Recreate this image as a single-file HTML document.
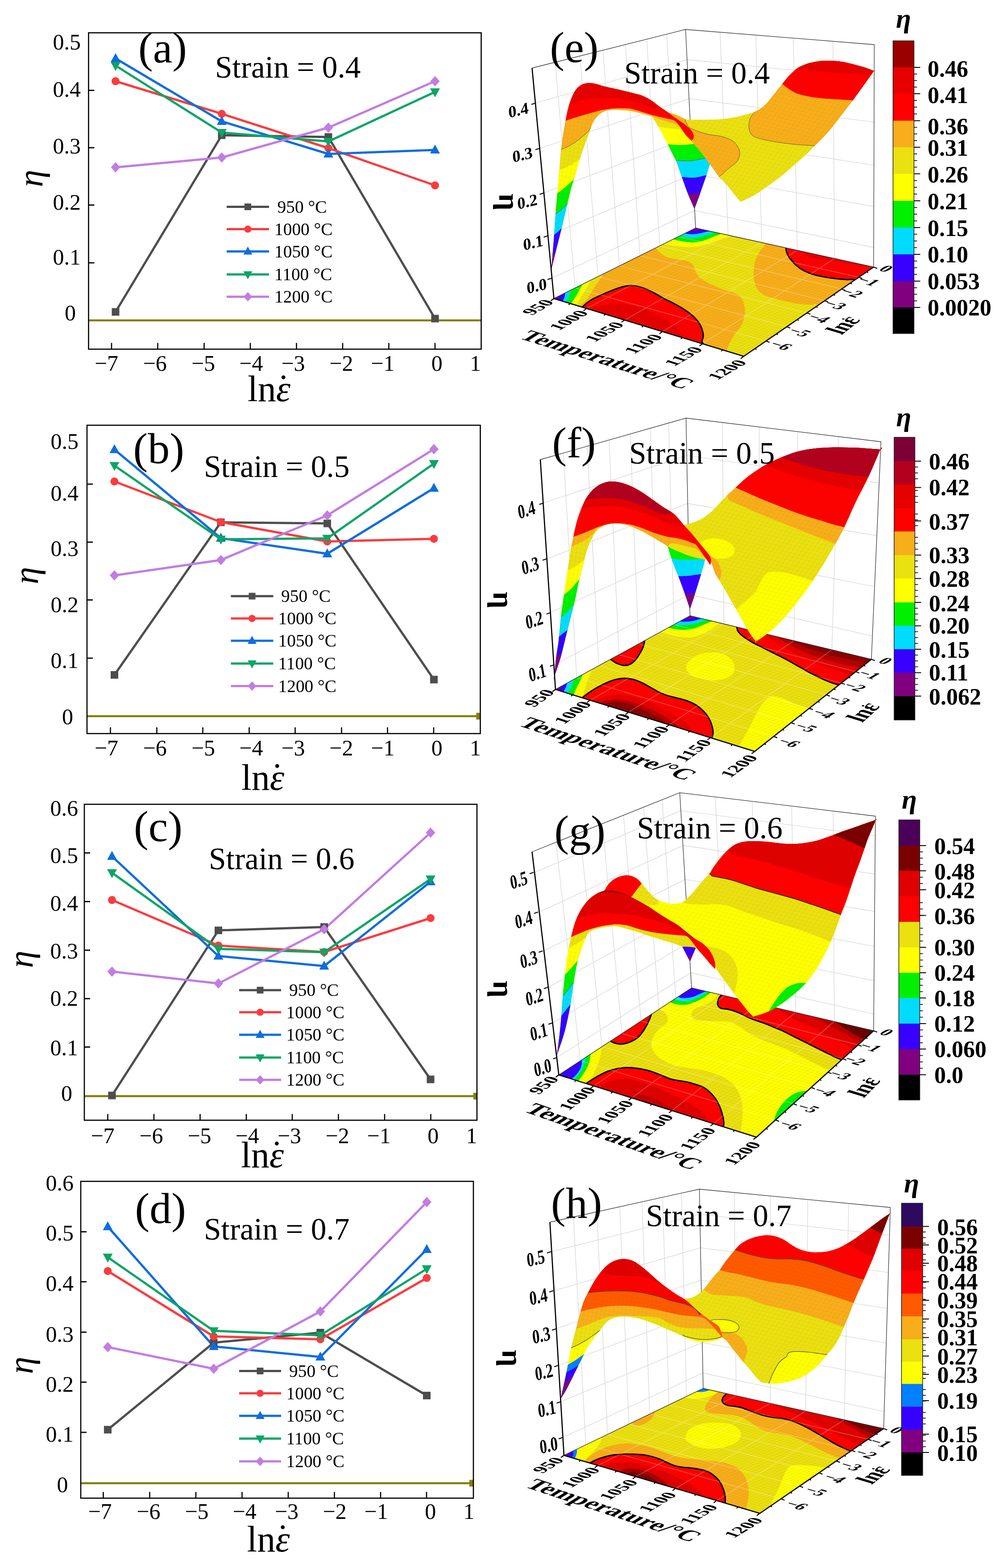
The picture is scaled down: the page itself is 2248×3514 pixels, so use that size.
<!DOCTYPE html>
<html lang="en"><head><meta charset="utf-8"><title>Power dissipation efficiency maps</title>
<style>
html,body{margin:0;padding:0;background:#fff}
svg{display:block}
text{font-family:"Liberation Serif","DejaVu Serif",serif;fill:#000}
</style></head><body>
<svg xmlns="http://www.w3.org/2000/svg" width="2248" height="3514" viewBox="0 0 2248 3514">
<rect width="2248" height="3514" fill="#fff"/>
<g id="pa">
<line x1="198.5" y1="718" x2="1078.5" y2="718" stroke="#807f06" stroke-width="4.5"/>
<polyline points="259,699 497,303 736,307 975,714" fill="none" stroke="#4d4d4d" stroke-width="5.0" stroke-linejoin="round"/>
<polyline points="259,182 497,255 736,332 975,415.5" fill="none" stroke="#fb3b3e" stroke-width="5.0" stroke-linejoin="round"/>
<polyline points="259,131 497,272 736,345 975,336" fill="none" stroke="#0f6ddf" stroke-width="5.0" stroke-linejoin="round"/>
<polyline points="259,147 497,297 736,317 975,206" fill="none" stroke="#0ba565" stroke-width="5.0" stroke-linejoin="round"/>
<polyline points="259,375 497,353 736,286 975,182" fill="none" stroke="#c27ce2" stroke-width="5.0" stroke-linejoin="round"/>
<rect x="250.5" y="690.5" width="17" height="17" fill="#4d4d4d"/>
<rect x="488.5" y="294.5" width="17" height="17" fill="#4d4d4d"/>
<rect x="727.5" y="298.5" width="17" height="17" fill="#4d4d4d"/>
<rect x="966.5" y="705.5" width="17" height="17" fill="#4d4d4d"/>
<circle cx="259" cy="182" r="9" fill="#fb3b3e"/>
<circle cx="497" cy="255" r="9" fill="#fb3b3e"/>
<circle cx="736" cy="332" r="9" fill="#fb3b3e"/>
<circle cx="975" cy="415.5" r="9" fill="#fb3b3e"/>
<polygon points="259,119 270,139 248,139" fill="#0f6ddf"/>
<polygon points="497,260 508,280 486,280" fill="#0f6ddf"/>
<polygon points="736,333 747,353 725,353" fill="#0f6ddf"/>
<polygon points="975,324 986,344 964,344" fill="#0f6ddf"/>
<polygon points="259,159 270,139 248,139" fill="#0ba565"/>
<polygon points="497,309 508,289 486,289" fill="#0ba565"/>
<polygon points="736,329 747,309 725,309" fill="#0ba565"/>
<polygon points="975,218 986,198 964,198" fill="#0ba565"/>
<polygon points="259,363.5 269.5,375 259,386.5 248.5,375" fill="#c27ce2"/>
<polygon points="497,341.5 507.5,353 497,364.5 486.5,353" fill="#c27ce2"/>
<polygon points="736,274.5 746.5,286 736,297.5 725.5,286" fill="#c27ce2"/>
<polygon points="975,170.5 985.5,182 975,193.5 964.5,182" fill="#c27ce2"/>
<rect x="198.5" y="73.5" width="880" height="709" fill="none" stroke="#000" stroke-width="2.6"/>
<line x1="250" y1="782.5" x2="250" y2="768.5" stroke="#000" stroke-width="2.6"/>
<line x1="353.5" y1="782.5" x2="353.5" y2="768.5" stroke="#000" stroke-width="2.6"/>
<line x1="457.5" y1="782.5" x2="457.5" y2="768.5" stroke="#000" stroke-width="2.6"/>
<line x1="561" y1="782.5" x2="561" y2="768.5" stroke="#000" stroke-width="2.6"/>
<line x1="664.5" y1="782.5" x2="664.5" y2="768.5" stroke="#000" stroke-width="2.6"/>
<line x1="768" y1="782.5" x2="768" y2="768.5" stroke="#000" stroke-width="2.6"/>
<line x1="871.5" y1="782.5" x2="871.5" y2="768.5" stroke="#000" stroke-width="2.6"/>
<line x1="975" y1="782.5" x2="975" y2="768.5" stroke="#000" stroke-width="2.6"/>
<line x1="198.5" y1="202.5" x2="211.5" y2="202.5" stroke="#000" stroke-width="2.8"/>
<line x1="198.5" y1="331" x2="211.5" y2="331" stroke="#000" stroke-width="2.8"/>
<line x1="198.5" y1="459.5" x2="211.5" y2="459.5" stroke="#000" stroke-width="2.8"/>
<line x1="198.5" y1="589" x2="211.5" y2="589" stroke="#000" stroke-width="2.8"/>
<text transform="translate(238.5 831)" font-size="50" text-anchor="middle">−7</text>
<text transform="translate(347.2 831)" font-size="50" text-anchor="middle">−6</text>
<text transform="translate(455.5 831)" font-size="50" text-anchor="middle">−5</text>
<text transform="translate(562.8 831)" font-size="50" text-anchor="middle">−4</text>
<text transform="translate(657 831)" font-size="50" text-anchor="middle">−3</text>
<text transform="translate(764.8 831)" font-size="50" text-anchor="middle">−2</text>
<text transform="translate(857.8 831)" font-size="50" text-anchor="middle">−1</text>
<text transform="translate(979.2 831)" font-size="50" text-anchor="middle">0</text>
<text transform="translate(1078 831)" font-size="50" text-anchor="end">1</text>
<text transform="translate(181 111)" font-size="50" text-anchor="end">0.5</text>
<text transform="translate(181 217)" font-size="50" text-anchor="end">0.4</text>
<text transform="translate(181 344)" font-size="50" text-anchor="end">0.3</text>
<text transform="translate(181 470)" font-size="50" text-anchor="end">0.2</text>
<text transform="translate(181 593)" font-size="50" text-anchor="end">0.1</text>
<text transform="translate(170 718)" font-size="50" text-anchor="end">0</text>
<text transform="translate(555 899)" font-size="82">ln<tspan font-style="italic">ε</tspan><tspan dx="-0.36em" dy="-0.04em">˙</tspan></text>
<text transform="translate(95 400) rotate(-90)" font-size="78" text-anchor="middle" font-style="italic">η</text>
<text transform="translate(310 140)" font-size="98">(a)</text>
<text transform="translate(482 173.5) scale(0.992 1)" font-size="70">Strain = 0.4</text>
<line x1="508" y1="463.5" x2="603" y2="463.5" stroke="#4d4d4d" stroke-width="5.2"/>
<rect x="548" y="456" width="15" height="15" fill="#4d4d4d"/>
<text transform="translate(621.5 476.5) scale(0.985 1)" font-size="40">950 °C</text>
<line x1="508" y1="513.5" x2="603" y2="513.5" stroke="#fb3b3e" stroke-width="5.2"/>
<circle cx="555.5" cy="513.5" r="8" fill="#fb3b3e"/>
<text transform="translate(615 526.5) scale(0.985 1)" font-size="40">1000 °C</text>
<line x1="508" y1="563.5" x2="603" y2="563.5" stroke="#0f6ddf" stroke-width="5.2"/>
<polygon points="555.5,552.5 565.5,570.5 545.5,570.5" fill="#0f6ddf"/>
<text transform="translate(615 576.5) scale(0.985 1)" font-size="40">1050 °C</text>
<line x1="508" y1="615" x2="603" y2="615" stroke="#0ba565" stroke-width="5.2"/>
<polygon points="555.5,626 565.5,608 545.5,608" fill="#0ba565"/>
<text transform="translate(615 628) scale(0.985 1)" font-size="40">1100 °C</text>
<line x1="508" y1="665" x2="603" y2="665" stroke="#c27ce2" stroke-width="5.2"/>
<polygon points="555.5,654.5 565,665 555.5,675.5 546,665" fill="#c27ce2"/>
<text transform="translate(615 678) scale(0.985 1)" font-size="40">1200 °C</text>
</g>
<g id="pb">
<line x1="195" y1="1605" x2="1076.5" y2="1605" stroke="#807f06" stroke-width="4.5"/>
<rect x="1067.5" y="1597.5" width="8" height="15" fill="#807f06"/>
<polyline points="256.5,1512.5 495,1170.5 733.5,1173 972.5,1523" fill="none" stroke="#4d4d4d" stroke-width="5.0" stroke-linejoin="round"/>
<polyline points="256.5,1079 495,1170 733.5,1213.5 972.5,1207.5" fill="none" stroke="#fb3b3e" stroke-width="5.0" stroke-linejoin="round"/>
<polyline points="256.5,1007.5 495,1206 733.5,1241 972.5,1094" fill="none" stroke="#0f6ddf" stroke-width="5.0" stroke-linejoin="round"/>
<polyline points="256.5,1043.5 495,1208.5 733.5,1206.5 972.5,1039" fill="none" stroke="#0ba565" stroke-width="5.0" stroke-linejoin="round"/>
<polyline points="256.5,1289.5 495,1255 733.5,1155 972.5,1006.5" fill="none" stroke="#c27ce2" stroke-width="5.0" stroke-linejoin="round"/>
<rect x="248" y="1504" width="17" height="17" fill="#4d4d4d"/>
<rect x="486.5" y="1162" width="17" height="17" fill="#4d4d4d"/>
<rect x="725" y="1164.5" width="17" height="17" fill="#4d4d4d"/>
<rect x="964" y="1514.5" width="17" height="17" fill="#4d4d4d"/>
<circle cx="256.5" cy="1079" r="9" fill="#fb3b3e"/>
<circle cx="495" cy="1170" r="9" fill="#fb3b3e"/>
<circle cx="733.5" cy="1213.5" r="9" fill="#fb3b3e"/>
<circle cx="972.5" cy="1207.5" r="9" fill="#fb3b3e"/>
<polygon points="256.5,995.5 267.5,1015.5 245.5,1015.5" fill="#0f6ddf"/>
<polygon points="495,1194 506,1214 484,1214" fill="#0f6ddf"/>
<polygon points="733.5,1229 744.5,1249 722.5,1249" fill="#0f6ddf"/>
<polygon points="972.5,1082 983.5,1102 961.5,1102" fill="#0f6ddf"/>
<polygon points="256.5,1055.5 267.5,1035.5 245.5,1035.5" fill="#0ba565"/>
<polygon points="495,1220.5 506,1200.5 484,1200.5" fill="#0ba565"/>
<polygon points="733.5,1218.5 744.5,1198.5 722.5,1198.5" fill="#0ba565"/>
<polygon points="972.5,1051 983.5,1031 961.5,1031" fill="#0ba565"/>
<polygon points="256.5,1278 267,1289.5 256.5,1301 246,1289.5" fill="#c27ce2"/>
<polygon points="495,1243.5 505.5,1255 495,1266.5 484.5,1255" fill="#c27ce2"/>
<polygon points="733.5,1143.5 744,1155 733.5,1166.5 723,1155" fill="#c27ce2"/>
<polygon points="972.5,995 983,1006.5 972.5,1018 962,1006.5" fill="#c27ce2"/>
<rect x="195" y="953" width="881.5" height="691" fill="none" stroke="#000" stroke-width="2.6"/>
<line x1="247.5" y1="1644" x2="247.5" y2="1630" stroke="#000" stroke-width="2.6"/>
<line x1="351.5" y1="1644" x2="351.5" y2="1630" stroke="#000" stroke-width="2.6"/>
<line x1="454.5" y1="1644" x2="454.5" y2="1630" stroke="#000" stroke-width="2.6"/>
<line x1="558.5" y1="1644" x2="558.5" y2="1630" stroke="#000" stroke-width="2.6"/>
<line x1="661.5" y1="1644" x2="661.5" y2="1630" stroke="#000" stroke-width="2.6"/>
<line x1="765.5" y1="1644" x2="765.5" y2="1630" stroke="#000" stroke-width="2.6"/>
<line x1="868.5" y1="1644" x2="868.5" y2="1630" stroke="#000" stroke-width="2.6"/>
<line x1="972" y1="1644" x2="972" y2="1630" stroke="#000" stroke-width="2.6"/>
<line x1="195" y1="1085" x2="208" y2="1085" stroke="#000" stroke-width="2.8"/>
<line x1="195" y1="1215" x2="208" y2="1215" stroke="#000" stroke-width="2.8"/>
<line x1="195" y1="1344.5" x2="208" y2="1344.5" stroke="#000" stroke-width="2.8"/>
<line x1="195" y1="1475" x2="208" y2="1475" stroke="#000" stroke-width="2.8"/>
<text transform="translate(238.5 1693)" font-size="50" text-anchor="middle">−7</text>
<text transform="translate(347.2 1693)" font-size="50" text-anchor="middle">−6</text>
<text transform="translate(455.5 1693)" font-size="50" text-anchor="middle">−5</text>
<text transform="translate(562.8 1693)" font-size="50" text-anchor="middle">−4</text>
<text transform="translate(657 1693)" font-size="50" text-anchor="middle">−3</text>
<text transform="translate(764.8 1693)" font-size="50" text-anchor="middle">−2</text>
<text transform="translate(857.8 1693)" font-size="50" text-anchor="middle">−1</text>
<text transform="translate(979.2 1693)" font-size="50" text-anchor="middle">0</text>
<text transform="translate(1078 1693)" font-size="50" text-anchor="end">1</text>
<text transform="translate(176 1006)" font-size="50" text-anchor="end">0.5</text>
<text transform="translate(176 1122)" font-size="50" text-anchor="end">0.4</text>
<text transform="translate(176 1246)" font-size="50" text-anchor="end">0.3</text>
<text transform="translate(176 1372)" font-size="50" text-anchor="end">0.2</text>
<text transform="translate(176 1497)" font-size="50" text-anchor="end">0.1</text>
<text transform="translate(164 1623)" font-size="50" text-anchor="end">0</text>
<text transform="translate(541 1770)" font-size="82">ln<tspan font-style="italic">ε</tspan><tspan dx="-0.36em" dy="-0.04em">˙</tspan></text>
<text transform="translate(85 1290) rotate(-90)" font-size="78" text-anchor="middle" font-style="italic">η</text>
<text transform="translate(298.5 1037.5)" font-size="98">(b)</text>
<text transform="translate(457 1069) scale(0.992 1)" font-size="70">Strain = 0.5</text>
<line x1="517.5" y1="1336" x2="612.5" y2="1336" stroke="#4d4d4d" stroke-width="5.2"/>
<rect x="557.5" y="1328.5" width="15" height="15" fill="#4d4d4d"/>
<text transform="translate(630 1349) scale(0.985 1)" font-size="40">950 °C</text>
<line x1="517.5" y1="1386" x2="612.5" y2="1386" stroke="#fb3b3e" stroke-width="5.2"/>
<circle cx="565" cy="1386" r="8" fill="#fb3b3e"/>
<text transform="translate(623.5 1399) scale(0.985 1)" font-size="40">1000 °C</text>
<line x1="517.5" y1="1436" x2="612.5" y2="1436" stroke="#0f6ddf" stroke-width="5.2"/>
<polygon points="565,1425 575,1443 555,1443" fill="#0f6ddf"/>
<text transform="translate(623.5 1449) scale(0.985 1)" font-size="40">1050 °C</text>
<line x1="517.5" y1="1487" x2="612.5" y2="1487" stroke="#0ba565" stroke-width="5.2"/>
<polygon points="565,1498 575,1480 555,1480" fill="#0ba565"/>
<text transform="translate(623.5 1500) scale(0.985 1)" font-size="40">1100 °C</text>
<line x1="517.5" y1="1537.5" x2="612.5" y2="1537.5" stroke="#c27ce2" stroke-width="5.2"/>
<polygon points="565,1527 574.5,1537.5 565,1548 555.5,1537.5" fill="#c27ce2"/>
<text transform="translate(623.5 1550.5) scale(0.985 1)" font-size="40">1200 °C</text>
</g>
<g id="pc">
<line x1="189" y1="2456.5" x2="1069" y2="2456.5" stroke="#807f06" stroke-width="4.5"/>
<rect x="1061" y="2449" width="8" height="15" fill="#807f06"/>
<polyline points="251,2455 489.5,2085 726.5,2077.5 965,2419" fill="none" stroke="#4d4d4d" stroke-width="5.0" stroke-linejoin="round"/>
<polyline points="251,2017 489.5,2119 726.5,2133.5 965,2057.5" fill="none" stroke="#fb3b3e" stroke-width="5.0" stroke-linejoin="round"/>
<polyline points="251,1919 489.5,2142.5 726.5,2165 965,1976" fill="none" stroke="#0f6ddf" stroke-width="5.0" stroke-linejoin="round"/>
<polyline points="251,1956 489.5,2126.5 726.5,2134 965,1970" fill="none" stroke="#0ba565" stroke-width="5.0" stroke-linejoin="round"/>
<polyline points="251,2177.5 489.5,2204 726.5,2082.5 965,1866" fill="none" stroke="#c27ce2" stroke-width="5.0" stroke-linejoin="round"/>
<rect x="242.5" y="2446.5" width="17" height="17" fill="#4d4d4d"/>
<rect x="481" y="2076.5" width="17" height="17" fill="#4d4d4d"/>
<rect x="718" y="2069" width="17" height="17" fill="#4d4d4d"/>
<rect x="956.5" y="2410.5" width="17" height="17" fill="#4d4d4d"/>
<circle cx="251" cy="2017" r="9" fill="#fb3b3e"/>
<circle cx="489.5" cy="2119" r="9" fill="#fb3b3e"/>
<circle cx="726.5" cy="2133.5" r="9" fill="#fb3b3e"/>
<circle cx="965" cy="2057.5" r="9" fill="#fb3b3e"/>
<polygon points="251,1907 262,1927 240,1927" fill="#0f6ddf"/>
<polygon points="489.5,2130.5 500.5,2150.5 478.5,2150.5" fill="#0f6ddf"/>
<polygon points="726.5,2153 737.5,2173 715.5,2173" fill="#0f6ddf"/>
<polygon points="965,1964 976,1984 954,1984" fill="#0f6ddf"/>
<polygon points="251,1968 262,1948 240,1948" fill="#0ba565"/>
<polygon points="489.5,2138.5 500.5,2118.5 478.5,2118.5" fill="#0ba565"/>
<polygon points="726.5,2146 737.5,2126 715.5,2126" fill="#0ba565"/>
<polygon points="965,1982 976,1962 954,1962" fill="#0ba565"/>
<polygon points="251,2166 261.5,2177.5 251,2189 240.5,2177.5" fill="#c27ce2"/>
<polygon points="489.5,2192.5 500,2204 489.5,2215.5 479,2204" fill="#c27ce2"/>
<polygon points="726.5,2071 737,2082.5 726.5,2094 716,2082.5" fill="#c27ce2"/>
<polygon points="965,1854.5 975.5,1866 965,1877.5 954.5,1866" fill="#c27ce2"/>
<rect x="189" y="1802.5" width="880" height="708" fill="none" stroke="#000" stroke-width="2.6"/>
<line x1="241.5" y1="2510.5" x2="241.5" y2="2496.5" stroke="#000" stroke-width="2.6"/>
<line x1="345" y1="2510.5" x2="345" y2="2496.5" stroke="#000" stroke-width="2.6"/>
<line x1="448.5" y1="2510.5" x2="448.5" y2="2496.5" stroke="#000" stroke-width="2.6"/>
<line x1="552" y1="2510.5" x2="552" y2="2496.5" stroke="#000" stroke-width="2.6"/>
<line x1="655" y1="2510.5" x2="655" y2="2496.5" stroke="#000" stroke-width="2.6"/>
<line x1="758.5" y1="2510.5" x2="758.5" y2="2496.5" stroke="#000" stroke-width="2.6"/>
<line x1="862" y1="2510.5" x2="862" y2="2496.5" stroke="#000" stroke-width="2.6"/>
<line x1="965.5" y1="2510.5" x2="965.5" y2="2496.5" stroke="#000" stroke-width="2.6"/>
<line x1="189" y1="1911.5" x2="202" y2="1911.5" stroke="#000" stroke-width="2.8"/>
<line x1="189" y1="2020.5" x2="202" y2="2020.5" stroke="#000" stroke-width="2.8"/>
<line x1="189" y1="2129.5" x2="202" y2="2129.5" stroke="#000" stroke-width="2.8"/>
<line x1="189" y1="2238" x2="202" y2="2238" stroke="#000" stroke-width="2.8"/>
<line x1="189" y1="2346.5" x2="202" y2="2346.5" stroke="#000" stroke-width="2.8"/>
<text transform="translate(230 2562)" font-size="50" text-anchor="middle">−7</text>
<text transform="translate(338.8 2562)" font-size="50" text-anchor="middle">−6</text>
<text transform="translate(447 2562)" font-size="50" text-anchor="middle">−5</text>
<text transform="translate(554.2 2562)" font-size="50" text-anchor="middle">−4</text>
<text transform="translate(648.5 2562)" font-size="50" text-anchor="middle">−3</text>
<text transform="translate(756.2 2562)" font-size="50" text-anchor="middle">−2</text>
<text transform="translate(849.2 2562)" font-size="50" text-anchor="middle">−1</text>
<text transform="translate(970.8 2562)" font-size="50" text-anchor="middle">0</text>
<text transform="translate(1069.5 2562)" font-size="50" text-anchor="end">1</text>
<text transform="translate(175 1828)" font-size="50" text-anchor="end">0.6</text>
<text transform="translate(175 1934)" font-size="50" text-anchor="end">0.5</text>
<text transform="translate(175 2041)" font-size="50" text-anchor="end">0.4</text>
<text transform="translate(175 2148)" font-size="50" text-anchor="end">0.3</text>
<text transform="translate(175 2254)" font-size="50" text-anchor="end">0.2</text>
<text transform="translate(175 2365)" font-size="50" text-anchor="end">0.1</text>
<text transform="translate(162 2467)" font-size="50" text-anchor="end">0</text>
<text transform="translate(540 2616)" font-size="82">ln<tspan font-style="italic">ε</tspan><tspan dx="-0.36em" dy="-0.04em">˙</tspan></text>
<text transform="translate(73 2150) rotate(-90)" font-size="78" text-anchor="middle" font-style="italic">η</text>
<text transform="translate(300 1885)" font-size="98">(c)</text>
<text transform="translate(468 1947.5) scale(0.992 1)" font-size="70">Strain = 0.6</text>
<line x1="536" y1="2219" x2="630" y2="2219" stroke="#4d4d4d" stroke-width="5.2"/>
<rect x="575.5" y="2211.5" width="15" height="15" fill="#4d4d4d"/>
<text transform="translate(648 2232) scale(0.985 1)" font-size="40">950 °C</text>
<line x1="536" y1="2268.5" x2="630" y2="2268.5" stroke="#fb3b3e" stroke-width="5.2"/>
<circle cx="583" cy="2268.5" r="8" fill="#fb3b3e"/>
<text transform="translate(641.5 2281.5) scale(0.985 1)" font-size="40">1000 °C</text>
<line x1="536" y1="2319" x2="630" y2="2319" stroke="#0f6ddf" stroke-width="5.2"/>
<polygon points="583,2308 593,2326 573,2326" fill="#0f6ddf"/>
<text transform="translate(641.5 2332) scale(0.985 1)" font-size="40">1050 °C</text>
<line x1="536" y1="2370" x2="630" y2="2370" stroke="#0ba565" stroke-width="5.2"/>
<polygon points="583,2381 593,2363 573,2363" fill="#0ba565"/>
<text transform="translate(641.5 2383) scale(0.985 1)" font-size="40">1100 °C</text>
<line x1="536" y1="2420" x2="630" y2="2420" stroke="#c27ce2" stroke-width="5.2"/>
<polygon points="583,2409.5 592.5,2420 583,2430.5 573.5,2420" fill="#c27ce2"/>
<text transform="translate(641.5 2433) scale(0.985 1)" font-size="40">1200 °C</text>
</g>
<g id="pd">
<line x1="181" y1="3324" x2="1061" y2="3324" stroke="#807f06" stroke-width="4.5"/>
<rect x="1052" y="3316.5" width="8" height="15" fill="#807f06"/>
<polyline points="241.5,3204 479,3009 718,2986.5 956.5,3127.5" fill="none" stroke="#4d4d4d" stroke-width="5.0" stroke-linejoin="round"/>
<polyline points="241.5,2848.5 479,2995 718,3001.5 956.5,2864" fill="none" stroke="#fb3b3e" stroke-width="5.0" stroke-linejoin="round"/>
<polyline points="241.5,2749 479,3017.5 718,3041 956.5,2800" fill="none" stroke="#0f6ddf" stroke-width="5.0" stroke-linejoin="round"/>
<polyline points="241.5,2817.5 479,2982.5 718,2992.5 956.5,2843.5" fill="none" stroke="#0ba565" stroke-width="5.0" stroke-linejoin="round"/>
<polyline points="241.5,3019 479,3067.5 718,2939 956.5,2694" fill="none" stroke="#c27ce2" stroke-width="5.0" stroke-linejoin="round"/>
<rect x="233" y="3195.5" width="17" height="17" fill="#4d4d4d"/>
<rect x="470.5" y="3000.5" width="17" height="17" fill="#4d4d4d"/>
<rect x="709.5" y="2978" width="17" height="17" fill="#4d4d4d"/>
<rect x="948" y="3119" width="17" height="17" fill="#4d4d4d"/>
<circle cx="241.5" cy="2848.5" r="9" fill="#fb3b3e"/>
<circle cx="479" cy="2995" r="9" fill="#fb3b3e"/>
<circle cx="718" cy="3001.5" r="9" fill="#fb3b3e"/>
<circle cx="956.5" cy="2864" r="9" fill="#fb3b3e"/>
<polygon points="241.5,2737 252.5,2757 230.5,2757" fill="#0f6ddf"/>
<polygon points="479,3005.5 490,3025.5 468,3025.5" fill="#0f6ddf"/>
<polygon points="718,3029 729,3049 707,3049" fill="#0f6ddf"/>
<polygon points="956.5,2788 967.5,2808 945.5,2808" fill="#0f6ddf"/>
<polygon points="241.5,2829.5 252.5,2809.5 230.5,2809.5" fill="#0ba565"/>
<polygon points="479,2994.5 490,2974.5 468,2974.5" fill="#0ba565"/>
<polygon points="718,3004.5 729,2984.5 707,2984.5" fill="#0ba565"/>
<polygon points="956.5,2855.5 967.5,2835.5 945.5,2835.5" fill="#0ba565"/>
<polygon points="241.5,3007.5 252,3019 241.5,3030.5 231,3019" fill="#c27ce2"/>
<polygon points="479,3056 489.5,3067.5 479,3079 468.5,3067.5" fill="#c27ce2"/>
<polygon points="718,2927.5 728.5,2939 718,2950.5 707.5,2939" fill="#c27ce2"/>
<polygon points="956.5,2682.5 967,2694 956.5,2705.5 946,2694" fill="#c27ce2"/>
<rect x="181" y="2647.5" width="880" height="710" fill="none" stroke="#000" stroke-width="2.6"/>
<line x1="231.5" y1="3357.5" x2="231.5" y2="3343.5" stroke="#000" stroke-width="2.6"/>
<line x1="335.5" y1="3357.5" x2="335.5" y2="3343.5" stroke="#000" stroke-width="2.6"/>
<line x1="439" y1="3357.5" x2="439" y2="3343.5" stroke="#000" stroke-width="2.6"/>
<line x1="542.5" y1="3357.5" x2="542.5" y2="3343.5" stroke="#000" stroke-width="2.6"/>
<line x1="646" y1="3357.5" x2="646" y2="3343.5" stroke="#000" stroke-width="2.6"/>
<line x1="749.5" y1="3357.5" x2="749.5" y2="3343.5" stroke="#000" stroke-width="2.6"/>
<line x1="853" y1="3357.5" x2="853" y2="3343.5" stroke="#000" stroke-width="2.6"/>
<line x1="956" y1="3357.5" x2="956" y2="3343.5" stroke="#000" stroke-width="2.6"/>
<line x1="181" y1="2760.5" x2="194" y2="2760.5" stroke="#000" stroke-width="2.8"/>
<line x1="181" y1="2872.5" x2="194" y2="2872.5" stroke="#000" stroke-width="2.8"/>
<line x1="181" y1="2985.5" x2="194" y2="2985.5" stroke="#000" stroke-width="2.8"/>
<line x1="181" y1="3097.5" x2="194" y2="3097.5" stroke="#000" stroke-width="2.8"/>
<line x1="181" y1="3210" x2="194" y2="3210" stroke="#000" stroke-width="2.8"/>
<text transform="translate(224 3403.5)" font-size="50" text-anchor="middle">−7</text>
<text transform="translate(332.8 3403.5)" font-size="50" text-anchor="middle">−6</text>
<text transform="translate(441 3403.5)" font-size="50" text-anchor="middle">−5</text>
<text transform="translate(548.2 3403.5)" font-size="50" text-anchor="middle">−4</text>
<text transform="translate(642.5 3403.5)" font-size="50" text-anchor="middle">−3</text>
<text transform="translate(750.2 3403.5)" font-size="50" text-anchor="middle">−2</text>
<text transform="translate(843.2 3403.5)" font-size="50" text-anchor="middle">−1</text>
<text transform="translate(964.8 3403.5)" font-size="50" text-anchor="middle">0</text>
<text transform="translate(1063.5 3403.5)" font-size="50" text-anchor="end">1</text>
<text transform="translate(165 2668)" font-size="50" text-anchor="end">0.6</text>
<text transform="translate(165 2779.5)" font-size="50" text-anchor="end">0.5</text>
<text transform="translate(165 2893)" font-size="50" text-anchor="end">0.4</text>
<text transform="translate(165 3007)" font-size="50" text-anchor="end">0.3</text>
<text transform="translate(165 3118.5)" font-size="50" text-anchor="end">0.2</text>
<text transform="translate(165 3231)" font-size="50" text-anchor="end">0.1</text>
<text transform="translate(152.5 3343.5)" font-size="50" text-anchor="end">0</text>
<text transform="translate(553.5 3476.5)" font-size="82">ln<tspan font-style="italic">ε</tspan><tspan dx="-0.36em" dy="-0.04em">˙</tspan></text>
<text transform="translate(73 3060) rotate(-90)" font-size="78" text-anchor="middle" font-style="italic">η</text>
<text transform="translate(302.5 2741)" font-size="98">(d)</text>
<text transform="translate(457 2777.5) scale(0.992 1)" font-size="70">Strain = 0.7</text>
<line x1="536" y1="3072.5" x2="630" y2="3072.5" stroke="#4d4d4d" stroke-width="5.2"/>
<rect x="575.5" y="3065" width="15" height="15" fill="#4d4d4d"/>
<text transform="translate(648 3085.5) scale(0.985 1)" font-size="40">950 °C</text>
<line x1="536" y1="3122.5" x2="630" y2="3122.5" stroke="#fb3b3e" stroke-width="5.2"/>
<circle cx="583" cy="3122.5" r="8" fill="#fb3b3e"/>
<text transform="translate(641.5 3135.5) scale(0.985 1)" font-size="40">1000 °C</text>
<line x1="536" y1="3173" x2="630" y2="3173" stroke="#0f6ddf" stroke-width="5.2"/>
<polygon points="583,3162 593,3180 573,3180" fill="#0f6ddf"/>
<text transform="translate(641.5 3186) scale(0.985 1)" font-size="40">1050 °C</text>
<line x1="536" y1="3224" x2="630" y2="3224" stroke="#0ba565" stroke-width="5.2"/>
<polygon points="583,3235 593,3217 573,3217" fill="#0ba565"/>
<text transform="translate(641.5 3237) scale(0.985 1)" font-size="40">1100 °C</text>
<line x1="536" y1="3275" x2="630" y2="3275" stroke="#c27ce2" stroke-width="5.2"/>
<polygon points="583,3264.5 592.5,3275 583,3285.5 573.5,3275" fill="#c27ce2"/>
<text transform="translate(641.5 3288) scale(0.985 1)" font-size="40">1200 °C</text>
</g>
<g id="pe">
<polyline points="1199.9,231 1539.9,133.6 1959.3,175.8" fill="none" stroke="#d2d2d2" stroke-width="1.15" stroke-linejoin="round"/>
<polyline points="1209.6,332.5 1544.3,221.1 1959,273.7" fill="none" stroke="#d2d2d2" stroke-width="1.15" stroke-linejoin="round"/>
<polyline points="1219.1,432.4 1548.7,307.2 1958.7,370.2" fill="none" stroke="#d2d2d2" stroke-width="1.15" stroke-linejoin="round"/>
<polyline points="1228.2,528.5 1552.9,390 1958.4,462.9" fill="none" stroke="#d2d2d2" stroke-width="1.15" stroke-linejoin="round"/>
<polyline points="1237.2,623.5 1557,471.8 1958.1,554.6" fill="none" stroke="#d2d2d2" stroke-width="1.15" stroke-linejoin="round"/>
<line x1="1244.1" y1="139.5" x2="1289.1" y2="645.3" stroke="#d2d2d2" stroke-width="1.15"/>
<line x1="1299.8" y1="125.5" x2="1340.6" y2="619.7" stroke="#d2d2d2" stroke-width="1.15"/>
<line x1="1351.4" y1="112.5" x2="1388.2" y2="596" stroke="#d2d2d2" stroke-width="1.15"/>
<line x1="1401.7" y1="99.9" x2="1434.5" y2="572.9" stroke="#d2d2d2" stroke-width="1.15"/>
<line x1="1449.5" y1="87.9" x2="1478.7" y2="551" stroke="#d2d2d2" stroke-width="1.15"/>
<line x1="1494.5" y1="76.6" x2="1520.3" y2="530.3" stroke="#d2d2d2" stroke-width="1.15"/>
<line x1="1613.9" y1="72.2" x2="1632" y2="527" stroke="#d2d2d2" stroke-width="1.15"/>
<line x1="1693.9" y1="78.6" x2="1707.4" y2="543.5" stroke="#d2d2d2" stroke-width="1.15"/>
<line x1="1778" y1="85.4" x2="1786.8" y2="561" stroke="#d2d2d2" stroke-width="1.15"/>
<line x1="1866.9" y1="92.6" x2="1870.6" y2="579.3" stroke="#d2d2d2" stroke-width="1.15"/>
<polyline points="1192.5,152.5 1536.5,66 1959.5,100 1958,598.5" fill="none" stroke="#3a3a3a" stroke-width="1.3" stroke-linejoin="round"/>
<line x1="1536.5" y1="66" x2="1559" y2="511" stroke="#3a3a3a" stroke-width="1.3"/>
<clipPath id="c1"><polygon points="1241.5,669 1559,511 1958,598.5 1667,798.5"/></clipPath>
<g clip-path="url(#c1)">
<rect x="1239.5" y="509" width="720.5" height="291.5" fill="#ebe010"/>
<path d="M1463.1 548.3 C1467 552.6 1467 552.9 1469.8 555.9 C1472.6 559 1475.4 563.2 1479.8 566.6 C1484.2 570.1 1489.8 574.1 1496.5 576.6 C1503.1 579.1 1512.6 580.2 1519.8 581.6 C1527 583 1534.2 583 1539.8 584.9 C1545.3 586.9 1549.8 589.1 1553.1 593.3 C1556.4 597.4 1557 604.9 1559.7 609.9 C1562.5 614.9 1564.7 619.1 1569.7 623.2 C1574.7 627.4 1581.4 630.7 1589.7 634.9 C1598.1 639.1 1610.3 644.6 1619.7 648.2 C1629.1 651.8 1639.1 652.9 1646.4 656.5 C1653.6 660.2 1659.1 663.2 1663 669.9 C1666.9 676.5 1669.7 687.1 1669.7 696.5 C1669.7 706 1666.9 717.6 1663 726.5 C1659.1 735.4 1650.8 743.2 1646.4 749.8 C1641.9 756.5 1639.1 760.9 1636.4 766.5 C1633.6 772 1631.4 777.6 1629.7 783.1 C1628 788.7 1645.8 794.8 1626.4 799.8 C1606.9 804.8 1582 827.5 1513.1 813.1 C1444.3 798.7 1263.3 743.7 1213.3 713.2 C1163.3 682.6 1174.4 660.4 1213.3 629.9 C1252.2 599.4 1404.9 543.6 1446.5 530 C1488.1 516.4 1459.3 544 1463.1 548.3Z" fill="#f8ae1a"/>
<path d="M1359.9 606.6 C1383.2 601 1358.8 605.5 1353.2 613.2 C1347.7 621 1333.2 643.2 1326.6 653.2 C1319.9 663.2 1318 667.7 1313.2 673.2 C1308.5 678.8 1301.6 682.6 1298.3 686.5 C1294.9 690.4 1307.4 694.9 1293.3 696.5 C1279.1 698.2 1226.6 704.9 1213.3 696.5 C1200 688.2 1188.9 661.5 1213.3 646.6 C1237.7 631.6 1336.6 612.1 1359.9 606.6Z" fill="#ebe010"/>
<path d="M1331.6 619.9 C1350.4 616.5 1330.2 620.7 1326.6 626.2 C1323 631.8 1315.7 643.6 1309.9 653.2 C1304.1 662.9 1295.2 677.5 1291.6 684.2 C1288 690.9 1301.3 691.1 1288.3 693.2 C1275.2 695.2 1225.8 704.3 1213.3 696.5 C1200.8 688.7 1193.6 659.3 1213.3 646.6 C1233 633.8 1312.7 623.3 1331.6 619.9Z" fill="#ffff00"/>
<path d="M1309.9 629.9 C1325.3 628.2 1308.7 631.6 1305.9 636.6 C1303.1 641.6 1297.6 652.5 1293.3 659.9 C1288.9 667.3 1282.7 675.9 1279.9 680.9 C1277.2 685.9 1287.7 687.3 1276.6 689.9 C1265.5 692.5 1223.9 703.7 1213.3 696.5 C1202.8 689.3 1197.2 657.7 1213.3 646.6 C1229.4 635.5 1294.5 631.6 1309.9 629.9Z" fill="#00f000"/>
<path d="M1283.3 643.2 C1294.4 643.7 1281.3 645.9 1279.9 649.6 C1278.5 653.2 1276.7 660.2 1274.9 664.9 C1273.2 669.5 1270.7 673.9 1269.3 677.5 C1267.9 681.1 1275.9 683.4 1266.6 686.5 C1257.3 689.7 1222.2 703.2 1213.3 696.5 C1204.4 689.9 1201.7 655.4 1213.3 646.6 C1225 637.7 1272.2 642.7 1283.3 643.2Z" fill="#00dcff"/>
<path d="M1269.9 649.9 C1278.9 651.4 1268.1 653.1 1267.3 655.9 C1266.4 658.7 1266 663.4 1264.9 666.5 C1263.9 669.7 1261.9 672.1 1260.9 674.9 C1260 677.6 1267.2 679.6 1259.3 683.2 C1251.3 686.8 1221 702.6 1213.3 696.5 C1205.6 690.4 1203.9 654.3 1213.3 646.6 C1222.7 638.8 1260.9 648.3 1269.9 649.9Z" fill="#3700ff"/>
<path d="M1253.3 658.2 C1259.7 661 1252 661.9 1251.6 663.5 C1251.2 665.2 1251.2 666.9 1251 668.2 C1250.7 669.5 1250.4 669.6 1250 671.5 C1249.5 673.5 1254.4 675.7 1248.3 679.9 C1242.2 684 1219.1 702.1 1213.3 696.5 C1207.5 691 1206.6 652.9 1213.3 646.6 C1220 640.2 1246.9 655.4 1253.3 658.2Z" fill="#800080"/>
<path d="M1304.9 688.2 C1310.5 682.6 1316.3 677.6 1323.2 673.2 C1330.2 668.8 1338.8 665.2 1346.6 661.5 C1354.3 657.9 1362.1 654.6 1369.9 651.6 C1377.6 648.5 1385.4 645.2 1393.2 643.2 C1401 641.3 1408.7 639.6 1416.5 639.9 C1424.3 640.2 1432.1 642.4 1439.8 644.9 C1447.6 647.4 1455.4 651 1463.1 654.9 C1470.9 658.8 1478.7 664 1486.5 668.2 C1494.2 672.4 1502 675.7 1509.8 679.9 C1517.6 684 1525.9 688.5 1533.1 693.2 C1540.3 697.9 1547.5 703.2 1553.1 708.2 C1558.6 713.2 1562.9 717.9 1566.4 723.2 C1569.9 728.4 1572.4 734.8 1574.1 739.8 C1575.7 744.8 1576.6 749 1576.4 753.2 C1576.2 757.3 1574.2 760.4 1573.1 764.8 C1572 769.3 1596.4 782.9 1569.7 779.8 C1543.1 776.7 1459.8 758.7 1413.2 746.5 C1366.5 734.3 1308 716.2 1289.9 706.5 C1271.9 696.8 1299.4 693.7 1304.9 688.2Z" fill="#ff0000" stroke="#000" stroke-width="3" stroke-linejoin="round" stroke-linecap="round"/>
<path d="M1319.9 693.2 C1327.7 689.9 1343.2 685.4 1353.2 683.2 C1363.2 681 1369.9 679.9 1379.9 679.9 C1389.9 679.9 1402.1 681 1413.2 683.2 C1424.3 685.4 1435.4 688.7 1446.5 693.2 C1457.6 697.6 1469.8 704.3 1479.8 709.8 C1489.8 715.4 1498.7 721 1506.4 726.5 C1514.2 732.1 1522 738.2 1526.4 743.2 C1530.9 748.2 1532.5 751.5 1533.1 756.5 C1533.7 761.5 1549.8 774.8 1529.8 773.1 C1509.8 771.5 1450.4 758.1 1413.2 746.5 C1376 734.8 1322.1 712.1 1306.6 703.2 C1291 694.3 1312.1 696.5 1319.9 693.2Z" fill="#e60000"/>
<path d="M1716.5 545.3 C1711.5 553.6 1707.1 556.9 1703.2 563.3 C1699.3 569.6 1695.5 576 1693.2 583.3 C1690.9 590.5 1689.8 599.4 1689.2 606.6 C1688.7 613.8 1688.7 619.9 1689.9 626.6 C1691.1 633.2 1692.6 640.7 1696.5 646.6 C1700.4 652.4 1706 657.7 1713.2 661.5 C1720.4 665.4 1731 667.4 1739.8 669.9 C1748.7 672.4 1757.6 674.6 1766.5 676.5 C1775.4 678.5 1784.3 680.4 1793.1 681.5 C1802 682.6 1813.1 682.8 1819.8 683.2 C1826.4 683.6 1825.3 678.9 1833.1 683.9 C1840.9 688.9 1838.7 724.9 1866.4 713.2 C1894.2 701.4 1983 638.2 1999.7 613.2 C2016.3 588.3 2010.8 579.9 1966.4 563.3 C1921.9 546.6 1774.8 516.3 1733.2 513.3 C1691.5 510.3 1721.5 537 1716.5 545.3Z" fill="#f8ae1a"/>
<path d="M1761.5 555.3 C1761.2 561.9 1762.3 564.7 1764.8 569.9 C1767.3 575.2 1771.8 581.3 1776.5 586.6 C1781.2 591.9 1786.5 597.1 1793.1 601.6 C1799.8 606 1808.1 610.2 1816.5 613.2 C1824.8 616.3 1834.2 618.1 1843.1 619.9 C1852 621.7 1860.9 622.8 1869.8 623.9 C1878.6 625 1888.6 626 1896.4 626.6 C1904.2 627.1 1904.7 625 1916.4 627.2 C1928 629.5 1952.5 645 1966.4 639.9 C1980.2 634.8 2033 614.9 1999.7 596.6 C1966.4 578.3 1806.2 536.9 1766.5 530 C1726.8 523.1 1761.8 548.6 1761.5 555.3Z" fill="#ff0000" stroke="#000" stroke-width="3" stroke-linejoin="round" stroke-linecap="round"/>
<path d="M1793.1 558.3 C1795.9 563.3 1807 572.4 1816.5 576.6 C1825.9 580.8 1838.7 581.3 1849.8 583.3 C1860.9 585.2 1872 586.6 1883.1 588.3 C1894.2 589.9 1905.8 591.8 1916.4 593.3 C1926.9 594.8 1938 597.3 1946.4 597.3 C1954.7 597.3 1990.8 601.7 1966.4 593.3 C1941.9 584.8 1828.7 552.5 1799.8 546.6 C1770.9 540.8 1790.4 553.3 1793.1 558.3Z" fill="#e60000"/>
<path d="M1460 543.3 C1465 546.1 1470.6 545.2 1480 546.6 C1489.5 548 1505 550.4 1516.7 551.6 C1528.3 552.8 1540 554.2 1550 554 C1560 553.7 1567.7 552.3 1576.6 550 C1585.5 547.6 1595.5 542.7 1603.3 540 C1611 537.2 1617.1 535.2 1623.3 533.3 C1629.4 531.4 1635.5 530.9 1639.9 528.6 C1644.3 526.4 1663.2 525.3 1649.9 520 C1636.6 514.6 1593.3 495 1560 496.7 C1526.6 498.3 1466.7 522.2 1450 530 C1433.4 537.7 1455 540.5 1460 543.3Z" fill="#ffff00"/>
<path d="M1500 531.6 C1504.2 534.3 1503.3 534.4 1508.3 536 C1513.3 537.5 1521.9 539.7 1530 541 C1538 542.2 1548.3 543.7 1556.6 543.3 C1565 542.8 1572.7 540.5 1579.9 538.3 C1587.2 536.1 1593.8 532.4 1599.9 530 C1606 527.5 1612.7 525.9 1616.6 523.6 C1620.5 521.4 1632.7 521.1 1623.3 516.6 C1613.8 512.1 1583.3 496.1 1560 496.7 C1536.6 497.2 1493.3 514.1 1483.3 520 C1473.4 525.8 1495.8 529 1500 531.6Z" fill="#00f000"/>
<path d="M1520 525 C1522.5 526.9 1521.7 526.7 1525 528 C1528.3 529.2 1534.1 531.7 1540 532.6 C1545.8 533.5 1553.3 534 1560 533.3 C1566.6 532.6 1573.8 530.1 1579.9 528.3 C1586.1 526.5 1592.4 523.9 1596.6 522.6 C1600.8 521.4 1602.7 522.5 1604.9 521 C1607.2 519.4 1617.4 517.4 1609.9 513.3 C1602.4 509.3 1576.6 496.1 1560 496.7 C1543.3 497.2 1516.7 511.9 1510 516.6 C1503.3 521.4 1517.5 523.1 1520 525Z" fill="#00dcff"/>
<path d="M1530 520 C1531.9 521.6 1531.6 522.1 1535 523 C1538.3 523.8 1544.7 524.9 1550 525 C1555.2 525 1561.1 524.2 1566.6 523.3 C1572.2 522.4 1579.1 520.2 1583.3 519.3 C1587.4 518.4 1589.4 519.3 1591.6 518 C1593.8 516.7 1601.9 515.2 1596.6 511.6 C1591.3 508.1 1572.2 496.4 1560 496.7 C1547.7 496.9 1528.3 509.4 1523.3 513.3 C1518.3 517.2 1528 518.4 1530 520Z" fill="#3700ff"/>
<path d="M1545 513.3 C1546.6 514.2 1547.5 514.8 1550 515.3 C1552.5 515.9 1556.6 516.7 1560 516.6 C1563.3 516.6 1567.5 515.4 1570 515 C1572.5 514.6 1573.3 515.1 1575 514.3 C1576.6 513.5 1582.4 512.9 1579.9 510 C1577.4 507 1566.6 496.7 1560 496.7 C1553.3 496.7 1542.5 507.2 1540 510 C1537.5 512.8 1543.3 512.4 1545 513.3Z" fill="#800080"/>
<pattern id="m2" width="1" height="1" patternUnits="userSpaceOnUse" patternTransform="matrix(8.5 2.6 7.2 -3.6 1241.5 669)"><path d="M0 0H1M0 0V1" stroke="#3a3000" stroke-opacity="0.2" stroke-width="0.11" fill="none"/></pattern><rect x="1239.5" y="509" width="720.5" height="291.5" fill="url(#m2)"/>
</g>
<g opacity="0.26"><line x1="1289.1" y1="645.3" x2="1716.8" y2="764.3" stroke="#fff" stroke-width="1.8"/><line x1="1340.6" y1="619.7" x2="1763.3" y2="732.3" stroke="#fff" stroke-width="1.8"/><line x1="1388.2" y1="596" x2="1808.4" y2="701.3" stroke="#fff" stroke-width="1.8"/><line x1="1434.5" y1="572.9" x2="1848.3" y2="673.9" stroke="#fff" stroke-width="1.8"/><line x1="1478.7" y1="551" x2="1886.4" y2="647.7" stroke="#fff" stroke-width="1.8"/><line x1="1520.3" y1="530.3" x2="1924.8" y2="621.3" stroke="#fff" stroke-width="1.8"/><line x1="1314.7" y1="691.3" x2="1632" y2="527" stroke="#fff" stroke-width="1.8"/><line x1="1399.8" y1="717.2" x2="1707.4" y2="543.5" stroke="#fff" stroke-width="1.8"/><line x1="1484.9" y1="743.1" x2="1786.8" y2="561" stroke="#fff" stroke-width="1.8"/><line x1="1574.7" y1="770.4" x2="1870.6" y2="579.3" stroke="#fff" stroke-width="1.8"/></g>
<polyline points="1241.5,669 1559,511 1958,598.5" fill="none" stroke="#2a2a2a" stroke-width="1.3" stroke-linejoin="round"/>
<clipPath id="c3"><path d="M1461.5 260.6 C1463.4 265.6 1469 272.8 1473.1 279.9 C1477.3 287 1482.6 296 1486.5 303.2 C1490.3 310.4 1492.8 316 1496.5 323.2 C1500.1 330.4 1504.8 339.9 1508.1 346.5 C1511.4 353.2 1513.1 354.9 1516.4 363.2 C1519.8 371.5 1523.9 384.8 1528.1 396.5 C1532.3 408.2 1537.5 423.1 1541.4 433.1 C1545.3 443.1 1548.9 450.6 1551.4 456.5 C1553.9 462.3 1555.6 466.2 1556.4 468.1 C1557.2 470.1 1554.5 473.4 1556.4 468.1 C1558.4 462.8 1563.6 449 1568.1 436.5 C1572.5 424 1579.3 404.3 1583.1 393.2 C1586.8 382.1 1588.7 375.4 1590.4 369.8 C1592.1 364.3 1597.6 373.2 1593.1 359.9 C1588.5 346.5 1576.4 307.1 1563.1 289.9 C1549.8 272.7 1530 263.3 1513.1 256.6 C1496.2 249.9 1470.1 249.3 1461.5 249.9 C1452.9 250.6 1459.5 255.6 1461.5 260.6Z"/></clipPath>
<g clip-path="url(#c3)">
<rect x="1459.5" y="247.9" width="135.6" height="222.2" fill="#ebe010"/>
<path d="M1453.2 258.3 C1454.5 258.6 1457 259 1461.5 260.6 C1465.9 262.2 1473.4 265.7 1479.8 267.9 C1486.2 270.1 1493.7 272 1499.8 273.9 C1505.9 275.8 1510.9 276.6 1516.4 279.2 C1522 281.9 1530.3 288.1 1533.1 289.9 L1546.4 239.9 L1453.2 239.9Z" fill="#f8ae1a"/>
<path d="M1466.5 283.2 C1467.6 283.3 1467.6 283.2 1473.1 283.9 C1478.7 284.6 1491.3 286.3 1499.8 287.2 C1508.2 288.2 1516 288.8 1523.8 289.6 C1531.5 290.3 1537.1 291.2 1546.4 291.6 C1555.7 291.9 1574.2 291.6 1579.7 291.6 L1613 506.4 L1466.5 506.4Z" fill="#ffff00"/>
<path d="M1479.8 322.5 C1482.5 322.7 1488 322.8 1495.8 323.2 C1503.6 323.6 1516.6 325 1526.4 324.9 C1536.3 324.8 1540.3 323.9 1554.8 322.5 C1569.2 321.2 1603.3 317.5 1613 316.5 L1613 506.4 L1479.8 506.4Z" fill="#00f000"/>
<path d="M1496.5 358.2 C1499.2 358.4 1504.8 358.8 1513.1 359.2 C1521.4 359.6 1535.3 361.2 1546.4 360.5 C1557.5 359.8 1568.6 356.6 1579.7 354.9 C1590.8 353.1 1607.5 350.7 1613 349.9 L1613 506.4 L1479.8 506.4Z" fill="#00dcff"/><path d="M1496.5 358.2 C1499.2 358.4 1504.8 358.8 1513.1 359.2 C1521.4 359.6 1535.3 361.2 1546.4 360.5 C1557.5 359.8 1568.6 356.6 1579.7 354.9 C1590.8 353.1 1607.5 350.7 1613 349.9" fill="none" stroke="#5a5a3a" stroke-width="1" stroke-linejoin="round" stroke-linecap="round"/>
<path d="M1513.1 395.8 C1515.6 395.9 1520.9 396.1 1528.1 396.5 C1535.3 396.9 1547.1 398.8 1556.4 398.2 C1565.7 397.5 1574.3 394.2 1583.7 392.5 C1593.2 390.8 1608.2 388.9 1613 388.2 L1613 506.4 L1479.8 506.4Z" fill="#3700ff"/>
<path d="M1526.4 432.5 C1529.1 432.6 1537.4 432.8 1542.4 433.1 C1547.4 433.5 1551.9 434.6 1556.4 434.5 C1561 434.4 1560.3 433.5 1569.7 432.5 C1579.2 431.4 1605.8 428.9 1613 428.1 L1613 506.4 L1479.8 506.4Z" fill="#800080"/>
</g>
<clipPath id="c4"><path d="M1516.6 271.5 C1514 268 1511.9 263.8 1511 262.2 C1510 260.7 1509.5 261.9 1511 262.2 C1512.5 262.5 1516 263.4 1520 264.2 C1524 265 1530.5 266.5 1535 267.2 C1539.4 267.9 1539.1 268 1546.6 268.2 C1554.1 268.4 1568.8 268.4 1579.9 268.2 C1591 268 1603.3 267.9 1613.2 267.2 C1623.2 266.5 1631 265.4 1639.9 263.9 C1648.8 262.4 1657.7 260.5 1666.5 258.2 C1675.4 255.9 1685.4 253.5 1693.2 249.9 C1701 246.3 1706.5 242.7 1713.2 236.6 C1719.8 230.5 1726.5 221.3 1733.2 213.2 C1739.8 205.2 1747 195.8 1753.2 188.3 C1759.3 180.8 1764.3 174.1 1769.8 168.3 C1775.4 162.4 1780.9 157.2 1786.5 153.3 C1792 149.4 1797.6 147.2 1803.1 145 C1808.7 142.7 1813.7 141.3 1819.8 140 C1825.9 138.6 1833.1 137.3 1839.8 136.6 C1846.4 136 1853.1 135.9 1859.7 136 C1866.4 136.1 1873.1 136.5 1879.7 137.3 C1886.4 138.1 1893.1 139.5 1899.7 141 C1906.4 142.4 1913 144.2 1919.7 146 C1926.4 147.7 1933.2 149.5 1939.7 151.6 C1946.2 153.8 1955.5 157.7 1958.7 158.9 C1961.8 160.2 1960.7 156 1958.7 158.9 C1956.6 161.9 1951.2 169.8 1946.4 176.6 C1941.5 183.4 1935.5 191.9 1929.7 199.9 C1923.9 208 1918 216 1911.4 224.9 C1904.7 233.8 1897.2 243.5 1889.7 253.2 C1882.2 262.9 1873.6 274.3 1866.4 283.2 C1859.2 292.1 1853.1 299.3 1846.4 306.5 C1839.8 313.7 1833.1 319.8 1826.4 326.5 C1819.8 333.2 1814.2 339.3 1806.4 346.5 C1798.7 353.7 1788.7 362 1779.8 369.8 C1770.9 377.6 1762 385.9 1753.2 393.1 C1744.3 400.3 1735.4 406.7 1726.5 413.1 C1717.6 419.5 1707.6 426.4 1699.9 431.4 C1692.1 436.4 1686.5 439.6 1679.9 443.1 C1673.2 446.6 1663.2 450.9 1659.9 452.4 C1656.5 454 1662.1 455.1 1659.9 452.4 C1657.7 449.8 1651 441.9 1646.6 436.4 C1642.1 431 1637.7 425 1633.2 419.8 C1628.8 414.5 1623.5 408.7 1619.9 404.8 C1616.3 400.9 1614.4 399.8 1611.6 396.5 C1608.8 393.1 1606.9 389.8 1603.3 384.8 C1599.6 379.8 1594.4 372.6 1589.9 366.5 C1585.5 360.4 1581 354 1576.6 348.2 C1572.2 342.3 1567.7 336.9 1563.3 331.5 C1558.8 326.1 1553.8 320.8 1550 315.5 C1546.1 310.2 1543.8 305.2 1540 299.9 C1536.1 294.5 1530.5 287.9 1526.6 283.2 C1522.7 278.5 1519.3 275 1516.6 271.5Z"/></clipPath>
<g clip-path="url(#c4)">
<rect x="1509" y="134" width="451.7" height="320.5" fill="#ebe010"/>
<path d="M1533.3 259.9 C1533.6 261.1 1533.9 264.2 1535 267.2 C1536.1 270.3 1538 275 1540 278.2 C1541.9 281.4 1542.2 283.8 1546.6 286.5 C1551.1 289.3 1559.4 292.4 1566.6 294.9 C1573.8 297.4 1582.2 299.9 1589.9 301.5 C1597.7 303.2 1606.6 303.5 1613.2 304.9 C1619.9 306.2 1624.9 307.9 1629.9 309.8 C1634.9 311.8 1639.3 313.5 1643.2 316.5 C1647.1 319.6 1650.7 323.7 1653.2 328.2 C1655.7 332.6 1658.2 337.9 1658.2 343.2 C1658.2 348.4 1655.7 355.4 1653.2 359.8 C1650.7 364.3 1647.1 366.5 1643.2 369.8 C1639.3 373.1 1633.8 376.5 1629.9 379.8 C1626 383.1 1623 387 1619.9 389.8 C1616.9 392.6 1613.8 394.2 1611.6 396.5 C1609.4 398.7 1607.4 402 1606.6 403.1 L1606.6 413.1 L1513.3 329.8 L1496.7 246.6Z" fill="#f8ae1a"/><path d="M1533.3 259.9 C1533.6 261.1 1533.9 264.2 1535 267.2 C1536.1 270.3 1538 275 1540 278.2 C1541.9 281.4 1542.2 283.8 1546.6 286.5 C1551.1 289.3 1559.4 292.4 1566.6 294.9 C1573.8 297.4 1582.2 299.9 1589.9 301.5 C1597.7 303.2 1606.6 303.5 1613.2 304.9 C1619.9 306.2 1624.9 307.9 1629.9 309.8 C1634.9 311.8 1639.3 313.5 1643.2 316.5 C1647.1 319.6 1650.7 323.7 1653.2 328.2 C1655.7 332.6 1658.2 337.9 1658.2 343.2 C1658.2 348.4 1655.7 355.4 1653.2 359.8 C1650.7 364.3 1647.1 366.5 1643.2 369.8 C1639.3 373.1 1633.8 376.5 1629.9 379.8 C1626 383.1 1623 387 1619.9 389.8 C1616.9 392.6 1613.8 394.2 1611.6 396.5 C1609.4 398.7 1607.4 402 1606.6 403.1" fill="none" stroke="#5a5a3a" stroke-width="1" stroke-linejoin="round" stroke-linecap="round"/>
<path d="M1699.9 239.9 C1698.7 241.6 1696 246.3 1693.2 249.9 C1690.4 253.5 1685.6 257.1 1683.2 261.5 C1680.8 266 1679.4 271.3 1678.9 276.5 C1678.3 281.8 1678.3 288.5 1679.9 293.2 C1681.4 297.9 1683.8 301.8 1688.2 304.9 C1692.6 307.9 1699 309.5 1706.5 311.5 C1714 313.6 1723.7 315.5 1733.2 317.2 C1742.6 318.8 1752.6 320.2 1763.1 321.5 C1773.7 322.8 1785.9 324 1796.5 324.8 C1807 325.7 1818.1 326.1 1826.4 326.5 C1834.8 326.9 1843.1 327.1 1846.4 327.2 L1979.7 326.5 L1979.7 113.3 L1713.2 113.3Z" fill="#f8ae1a"/><path d="M1699.9 239.9 C1698.7 241.6 1696 246.3 1693.2 249.9 C1690.4 253.5 1685.6 257.1 1683.2 261.5 C1680.8 266 1679.4 271.3 1678.9 276.5 C1678.3 281.8 1678.3 288.5 1679.9 293.2 C1681.4 297.9 1683.8 301.8 1688.2 304.9 C1692.6 307.9 1699 309.5 1706.5 311.5 C1714 313.6 1723.7 315.5 1733.2 317.2 C1742.6 318.8 1752.6 320.2 1763.1 321.5 C1773.7 322.8 1785.9 324 1796.5 324.8 C1807 325.7 1818.1 326.1 1826.4 326.5 C1834.8 326.9 1843.1 327.1 1846.4 327.2" fill="none" stroke="#5a5a3a" stroke-width="1" stroke-linejoin="round" stroke-linecap="round"/>
<path d="M1743.2 179.9 C1744.8 181.3 1749.3 185.2 1753.2 188.3 C1757 191.3 1761.5 194.9 1766.5 198.3 C1771.5 201.6 1776.5 205.5 1783.1 208.2 C1789.8 211 1798.1 213.1 1806.4 214.9 C1814.8 216.7 1824.2 218.1 1833.1 219.2 C1842 220.4 1850.9 220.9 1859.7 221.6 C1868.6 222.2 1877.8 222.7 1886.4 223.2 C1895 223.8 1901.4 224.3 1911.4 224.9 C1921.4 225.5 1940.5 226.3 1946.4 226.6 L1979.7 146.6 L1846.4 113.3 L1746.5 113.3Z" fill="#ff0000"/>
<path d="M1763.1 159.9 C1765.9 159.7 1773.7 158.7 1779.8 158.3 C1785.9 157.8 1792 157.1 1799.8 157.3 C1807.6 157.4 1817.6 158.6 1826.4 159.3 C1835.3 160 1844.2 160.8 1853.1 161.6 C1862 162.4 1870.9 163.2 1879.7 163.9 C1888.6 164.7 1897.5 165.4 1906.4 165.9 C1915.3 166.5 1925.3 167.1 1933 167.3 C1940.8 167.5 1945.2 167.3 1953 167.3 C1960.8 167.3 1975.2 167.3 1979.7 167.3 L1979.7 113.3 L1763.1 113.3Z" fill="#e60000"/>
<pattern id="m5" width="1" height="1" patternUnits="userSpaceOnUse" patternTransform="matrix(9.5 2.4 5.5 -7.5 0 0)"><path d="M0 0H1M0 0V1" stroke="#3a3000" stroke-opacity="0.14" stroke-width="0.11" fill="none"/></pattern><rect x="1509" y="134" width="451.7" height="320.5" fill="url(#m5)"/>
</g>
<clipPath id="c6"><path d="M1236 602.7 C1234.7 607.6 1235.6 607.6 1236 602.7 C1236.4 597.8 1237.5 583.5 1238.3 573 C1239.1 562.6 1240.1 550.8 1241 539.7 C1241.8 528.6 1242.5 517.5 1243.3 506.4 C1244.1 495.3 1244.7 485.3 1245.6 473.1 C1246.6 460.9 1247.7 447.6 1249 433.1 C1250.2 418.7 1251.8 402.9 1253.3 386.5 C1254.7 370.1 1256.1 349.3 1257.6 334.9 C1259.1 320.4 1260.7 310.4 1262.3 299.9 C1263.9 289.3 1265.4 281 1267.3 271.6 C1269.1 262.1 1270.9 252.1 1273.3 243.3 C1275.7 234.4 1278.5 225.5 1281.6 218.3 C1284.7 211.1 1287.7 204.8 1291.6 200 C1295.5 195.1 1299.9 191.6 1304.9 189.3 C1309.9 187 1316.3 186.1 1321.6 186 C1326.8 185.8 1331.3 187.1 1336.6 188.3 C1341.8 189.5 1346 191.5 1353.2 193.3 C1360.4 195.1 1371 197.2 1379.9 199.3 C1388.7 201.3 1399.9 204 1406.5 205.6 C1413.2 207.2 1414.4 207.5 1419.8 209 C1425.3 210.4 1432.7 211.7 1439.2 214.3 C1445.7 216.9 1452.3 220.5 1458.8 224.6 C1465.3 228.7 1471.6 234.4 1478.1 238.9 C1484.6 243.5 1492.3 248 1497.8 251.9 C1503.2 255.8 1505.4 258.4 1510.8 262.3 C1516.2 266.1 1524.7 271.4 1530.1 275.2 C1535.5 279.1 1539.6 282.3 1543.1 285.6 C1546.6 288.8 1549.1 291.5 1551.1 294.6 C1553 297.6 1554.3 301.3 1554.8 303.9 C1555.2 306.5 1554.9 308.3 1554.1 310.2 C1553.3 312.2 1550.5 314.7 1549.8 315.5 C1549 316.4 1551.5 317.3 1549.8 315.5 C1548 313.8 1542.4 308.6 1539.1 304.9 C1535.8 301.2 1533.1 297.3 1530.1 293.2 C1527.1 289.1 1524.3 284.1 1521.1 280.2 C1517.9 276.4 1515.8 272.5 1510.8 269.9 C1505.8 267.4 1496.8 266.1 1491.1 264.9 C1485.4 263.7 1481.4 263.3 1476.5 262.6 C1471.5 261.9 1464 260.9 1461.5 260.6 C1459 260.3 1465.1 261.5 1461.5 260.6 C1457.9 259.6 1446.8 256.7 1439.8 254.9 C1432.9 253.1 1426.5 251.2 1419.8 249.9 C1413.2 248.6 1406.5 247.9 1399.9 247.3 C1393.2 246.6 1385.4 246 1379.9 245.9 C1374.3 245.8 1370.4 246 1366.5 246.6 C1362.7 247.2 1359.9 248 1356.5 249.3 C1353.2 250.5 1349.6 251.9 1346.6 253.9 C1343.5 256 1341 258.4 1338.2 261.6 C1335.5 264.8 1332.2 269.1 1329.9 273.2 C1327.6 277.4 1327 279.4 1324.2 286.6 C1321.5 293.8 1317 306 1313.2 316.5 C1309.5 327.1 1305.5 337.6 1301.6 349.9 C1297.7 362.1 1293.5 377.6 1289.9 389.8 C1286.3 402 1283.4 410.4 1279.9 423.1 C1276.5 435.9 1272.6 452.6 1269.3 466.4 C1265.9 480.3 1262.9 494.2 1259.9 506.4 C1257 518.6 1254.4 528.6 1251.6 539.7 C1248.8 550.8 1245.9 562.6 1243.3 573 C1240.7 583.5 1237.2 597.8 1236 602.7Z"/></clipPath>
<g clip-path="url(#c6)">
<rect x="1234" y="184" width="322.8" height="420.7" fill="#f8ae1a"/>
<path d="M1246.6 339.9 C1248.5 339 1253.2 336.8 1257.6 334.9 C1262.1 332.9 1267.9 331 1273.3 328.2 C1278.7 325.4 1284.4 322.1 1289.9 318.2 C1295.5 314.3 1301.9 308.8 1306.6 304.9 C1311.3 301 1315.3 298 1318.2 294.9 C1321.2 291.8 1322 289.9 1324.2 286.6 C1326.5 283.2 1330.3 276.9 1331.6 274.9 L1379.9 279.9 L1379.9 606.4 L1213.3 606.4 L1213.3 356.5Z" fill="#ebe010"/><path d="M1246.6 339.9 C1248.5 339 1253.2 336.8 1257.6 334.9 C1262.1 332.9 1267.9 331 1273.3 328.2 C1278.7 325.4 1284.4 322.1 1289.9 318.2 C1295.5 314.3 1301.9 308.8 1306.6 304.9 C1311.3 301 1315.3 298 1318.2 294.9 C1321.2 291.8 1322 289.9 1324.2 286.6 C1326.5 283.2 1330.3 276.9 1331.6 274.9" fill="none" stroke="#5a5a3a" stroke-width="1" stroke-linejoin="round" stroke-linecap="round"/>
<path d="M1240 388.2 C1242.2 387.1 1247.2 384.3 1253.3 381.5 C1259.4 378.7 1269.4 375.4 1276.6 371.5 C1283.8 367.6 1290.5 362.4 1296.6 358.2 C1302.7 354 1310.5 348.5 1313.2 346.5 L1379.9 339.9 L1379.9 606.4 L1213.3 606.4 L1213.3 406.5Z" fill="#ffff00"/>
<path d="M1236.6 441.5 C1238.7 440.1 1244 436.7 1249 433.1 C1254 429.5 1260.6 424.8 1266.6 419.8 C1272.6 414.8 1279.9 407.6 1284.9 403.2 C1289.9 398.7 1294.6 394.8 1296.6 393.2 L1379.9 373.2 L1379.9 606.4 L1213.3 606.4 L1213.3 456.5Z" fill="#00f000"/>
<path d="M1233.3 488.1 C1235.2 486.7 1240.8 482.8 1245 479.8 C1249.1 476.7 1253.8 473.7 1258.3 469.8 C1262.7 465.9 1266.9 460.9 1271.6 456.5 C1276.3 452 1284.1 445.4 1286.6 443.1 L1379.9 439.8 L1379.9 606.4 L1213.3 606.4 L1213.3 506.4Z" fill="#00dcff"/><path d="M1233.3 488.1 C1235.2 486.7 1240.8 482.8 1245 479.8 C1249.1 476.7 1253.8 473.7 1258.3 469.8 C1262.7 465.9 1266.9 460.9 1271.6 456.5 C1276.3 452 1284.1 445.4 1286.6 443.1" fill="none" stroke="#5a5a3a" stroke-width="1" stroke-linejoin="round" stroke-linecap="round"/>
<path d="M1230 534.7 C1231.9 533.3 1238.3 528.9 1241.6 526.4 C1245 523.9 1247.2 522.2 1250 519.7 C1252.7 517.2 1255 514.5 1258.3 511.4 C1261.6 508.4 1268 503.1 1269.9 501.4 L1379.9 473.1 L1379.9 606.4 L1213.3 606.4 L1213.3 539.7Z" fill="#3700ff"/>
<path d="M1230 576.4 C1231.5 575.3 1236.5 571.9 1239.3 569.7 C1242.1 567.5 1243.7 565.5 1246.6 563.1 C1249.5 560.6 1255 556.1 1256.6 554.7 L1379.9 539.7 L1379.9 606.4 L1213.3 606.4Z" fill="#800080"/>
<path d="M1246.6 277.2 C1250.1 276.2 1260.6 273.1 1267.3 270.9 C1273.9 268.7 1280 266.4 1286.6 264.3 C1293.1 262.1 1299.9 260.2 1306.6 258.3 C1313.2 256.3 1319.9 254.4 1326.6 252.6 C1333.2 250.8 1339.9 248.7 1346.6 247.3 C1353.2 245.8 1359.9 244.7 1366.5 243.9 C1373.2 243.2 1379.3 242.7 1386.5 242.6 C1393.7 242.5 1404.3 242.8 1409.8 243.3 C1415.4 243.7 1411.7 243 1419.8 245.3 C1428 247.5 1446.9 253.6 1458.8 256.9 C1470.7 260.2 1482.5 262.8 1491.1 264.9 C1499.8 267.1 1505.8 267.4 1510.8 269.9 C1515.8 272.5 1517.9 276.4 1521.1 280.2 C1524.3 284.1 1527.1 289.1 1530.1 293.2 C1533.1 297.3 1535.8 301.2 1539.1 304.9 C1542.4 308.6 1546.9 312.5 1549.8 315.5 C1552.6 318.6 1555.3 321.9 1556.4 323.2 L1613 323.2 L1613 140 L1213.3 140 L1213.3 279.9Z" fill="#ff0000"/>
<path d="M1263.3 246.6 C1265.1 245.5 1269.3 243.2 1274.3 239.9 C1279.3 236.7 1286.8 230.1 1293.3 227.3 C1299.8 224.5 1306 224.5 1313.2 223.3 C1320.5 222.1 1328.8 220.6 1336.6 219.9 C1344.3 219.3 1351.6 219 1359.9 219.3 C1368.2 219.6 1377.6 220.5 1386.5 221.6 C1395.4 222.7 1404.3 224 1413.2 225.9 C1422.1 227.9 1431.5 230.7 1439.8 233.3 C1448.2 235.9 1456.5 239.8 1463.1 241.6 C1469.8 243.4 1473.7 242.5 1479.8 243.9 C1485.9 245.3 1496.5 248.9 1499.8 249.9 L1513.1 173.3 L1246.6 173.3Z" fill="#e60000"/>
<pattern id="m7" width="1" height="1" patternUnits="userSpaceOnUse" patternTransform="matrix(9 1.5 1.5 -9.5 0 0)"><path d="M0 0H1M0 0V1" stroke="#3a3000" stroke-opacity="0.14" stroke-width="0.11" fill="none"/></pattern><rect x="1234" y="184" width="322.8" height="420.7" fill="url(#m7)"/>
</g>
<polyline points="1192.5,152.5 1241.5,669 1667,798.5 1958,598.5" fill="none" stroke="#000" stroke-width="2.6" stroke-linejoin="round"/>
<line x1="1200" y1="231" x2="1191" y2="234" stroke="#000" stroke-width="2.2"/>
<text transform="matrix(0.970 -0.242 0.087 0.996 1163 259)" font-size="37" text-anchor="middle" font-weight="bold">0.4</text>
<line x1="1209" y1="332.5" x2="1200" y2="335.5" stroke="#000" stroke-width="2.2"/>
<text transform="matrix(0.970 -0.242 0.087 0.996 1172 359)" font-size="37" text-anchor="middle" font-weight="bold">0.3</text>
<line x1="1218.5" y1="432.5" x2="1209.5" y2="435.5" stroke="#000" stroke-width="2.2"/>
<text transform="matrix(0.970 -0.242 0.087 0.996 1183 464)" font-size="37" text-anchor="middle" font-weight="bold">0.2</text>
<line x1="1227.5" y1="528.5" x2="1218.5" y2="531.5" stroke="#000" stroke-width="2.2"/>
<text transform="matrix(0.970 -0.242 0.087 0.996 1196 556)" font-size="37" text-anchor="middle" font-weight="bold">0.1</text>
<line x1="1236" y1="623.5" x2="1227" y2="626.5" stroke="#000" stroke-width="2.2"/>
<text transform="matrix(0.970 -0.242 0.087 0.996 1204 653)" font-size="37" text-anchor="middle" font-weight="bold">0.0</text>
<line x1="1241.5" y1="669" x2="1234.5" y2="674" stroke="#000" stroke-width="2.2"/>
<text transform="matrix(0.866 -0.500 0.951 0.309 1218 692.5)" font-size="39.5" text-anchor="middle" font-weight="bold">950</text>
<line x1="1314.7" y1="691.3" x2="1307.7" y2="696.3" stroke="#000" stroke-width="2.2"/>
<text transform="matrix(0.866 -0.500 0.951 0.309 1287 721.5)" font-size="39.5" text-anchor="middle" font-weight="bold">1000</text>
<line x1="1399.8" y1="717.2" x2="1392.8" y2="722.2" stroke="#000" stroke-width="2.2"/>
<text transform="matrix(0.866 -0.500 0.951 0.309 1367 747.5)" font-size="39.5" text-anchor="middle" font-weight="bold">1050</text>
<line x1="1484.9" y1="743.1" x2="1477.9" y2="748.1" stroke="#000" stroke-width="2.2"/>
<text transform="matrix(0.866 -0.500 0.951 0.309 1454 774.5)" font-size="39.5" text-anchor="middle" font-weight="bold">1100</text>
<line x1="1574.7" y1="770.4" x2="1567.7" y2="775.4" stroke="#000" stroke-width="2.2"/>
<text transform="matrix(0.866 -0.500 0.951 0.309 1544 802.5)" font-size="39.5" text-anchor="middle" font-weight="bold">1150</text>
<line x1="1667" y1="798.5" x2="1660" y2="803.5" stroke="#000" stroke-width="2.2"/>
<text transform="matrix(0.866 -0.500 0.951 0.309 1642 832.5)" font-size="39.5" text-anchor="middle" font-weight="bold">1200</text>
<line x1="1278.1" y1="680.1" x2="1274.1" y2="683.1" stroke="#000" stroke-width="2"/>
<line x1="1357.2" y1="704.2" x2="1353.2" y2="707.2" stroke="#000" stroke-width="2"/>
<line x1="1442.3" y1="730.1" x2="1438.3" y2="733.1" stroke="#000" stroke-width="2"/>
<line x1="1529.6" y1="756.7" x2="1525.6" y2="759.7" stroke="#000" stroke-width="2"/>
<line x1="1620.2" y1="784.3" x2="1616.2" y2="787.3" stroke="#000" stroke-width="2"/>
<line x1="1716.8" y1="764.3" x2="1724.8" y2="767.3" stroke="#000" stroke-width="2.2"/>
<text transform="matrix(0.959 0.284 -0.797 0.460 1740 780)" font-size="38" text-anchor="middle" font-weight="bold">−6</text>
<line x1="1763.3" y1="732.3" x2="1771.3" y2="735.3" stroke="#000" stroke-width="2.2"/>
<text transform="matrix(0.959 0.284 -0.797 0.460 1782 750)" font-size="38" text-anchor="middle" font-weight="bold">−5</text>
<line x1="1808.4" y1="701.3" x2="1816.4" y2="704.3" stroke="#000" stroke-width="2.2"/>
<text transform="matrix(0.959 0.284 -0.797 0.460 1825 719)" font-size="38" text-anchor="middle" font-weight="bold">−4</text>
<line x1="1848.3" y1="673.9" x2="1856.3" y2="676.9" stroke="#000" stroke-width="2.2"/>
<text transform="matrix(0.959 0.284 -0.797 0.460 1862 689)" font-size="38" text-anchor="middle" font-weight="bold">−3</text>
<line x1="1886.4" y1="647.7" x2="1894.4" y2="650.7" stroke="#000" stroke-width="2.2"/>
<text transform="matrix(0.959 0.284 -0.797 0.460 1899 662)" font-size="38" text-anchor="middle" font-weight="bold">−2</text>
<line x1="1924.8" y1="621.3" x2="1932.8" y2="624.3" stroke="#000" stroke-width="2.2"/>
<text transform="matrix(0.959 0.284 -0.797 0.460 1936 636)" font-size="38" text-anchor="middle" font-weight="bold">−1</text>
<line x1="1958" y1="598.5" x2="1966" y2="601.5" stroke="#000" stroke-width="2.2"/>
<text transform="matrix(0.959 0.284 -0.797 0.460 1976 608)" font-size="38" text-anchor="middle" font-weight="bold">0</text>
<line x1="1691.7" y1="781.5" x2="1695.7" y2="783" stroke="#000" stroke-width="2"/>
<line x1="1739.8" y1="748.5" x2="1743.8" y2="750" stroke="#000" stroke-width="2"/>
<line x1="1786.3" y1="716.5" x2="1790.3" y2="718" stroke="#000" stroke-width="2"/>
<line x1="1828.5" y1="687.5" x2="1832.5" y2="689" stroke="#000" stroke-width="2"/>
<line x1="1867.8" y1="660.5" x2="1871.8" y2="662" stroke="#000" stroke-width="2"/>
<line x1="1905.6" y1="634.5" x2="1909.6" y2="636" stroke="#000" stroke-width="2"/>
<line x1="1942" y1="609.5" x2="1946" y2="611" stroke="#000" stroke-width="2"/>
<text transform="matrix(0.955 0.296 -0.780 0.488 1161 757.5)" font-size="55.9" font-weight="bold">Temperature/°C</text>
<text transform="matrix(0.788 -0.616 1.281 0.392 1908 734)" font-size="44" text-anchor="middle" font-weight="bold">lnε<tspan dx="-0.62em" dy="-0.28em" font-size="0.6em">˙</tspan></text>
<text transform="matrix(0.000 1.000 -1.000 -0.000 1119 434)" font-size="66" font-weight="bold">η</text>
<rect x="2001.5" y="91.5" width="47" height="60" fill="#9b0000"/>
<rect x="2001.5" y="151" width="47" height="59.5" fill="#e60000"/>
<rect x="2001.5" y="210" width="47" height="61" fill="#ff0000"/>
<rect x="2001.5" y="270.5" width="47" height="60" fill="#f8ae1a"/>
<rect x="2001.5" y="330" width="47" height="60" fill="#ebe010"/>
<rect x="2001.5" y="389.5" width="47" height="61" fill="#ffff00"/>
<rect x="2001.5" y="450" width="47" height="60.5" fill="#00f000"/>
<rect x="2001.5" y="510" width="47" height="60.5" fill="#00dcff"/>
<rect x="2001.5" y="570" width="47" height="60.5" fill="#3700ff"/>
<rect x="2001.5" y="630" width="47" height="59.5" fill="#800080"/>
<rect x="2001.5" y="689" width="47" height="59" fill="#000000"/>
<rect x="2001.5" y="91.5" width="47" height="656" fill="none" stroke="#222" stroke-width="1.5"/>
<line x1="2048.5" y1="151" x2="2062.5" y2="151" stroke="#000" stroke-width="2"/>
<line x1="2048.5" y1="210" x2="2062.5" y2="210" stroke="#000" stroke-width="2"/>
<line x1="2048.5" y1="270.5" x2="2062.5" y2="270.5" stroke="#000" stroke-width="2"/>
<line x1="2048.5" y1="330" x2="2062.5" y2="330" stroke="#000" stroke-width="2"/>
<line x1="2048.5" y1="389.5" x2="2062.5" y2="389.5" stroke="#000" stroke-width="2"/>
<line x1="2048.5" y1="450" x2="2062.5" y2="450" stroke="#000" stroke-width="2"/>
<line x1="2048.5" y1="510" x2="2062.5" y2="510" stroke="#000" stroke-width="2"/>
<line x1="2048.5" y1="570" x2="2062.5" y2="570" stroke="#000" stroke-width="2"/>
<line x1="2048.5" y1="630" x2="2062.5" y2="630" stroke="#000" stroke-width="2"/>
<line x1="2048.5" y1="689" x2="2062.5" y2="689" stroke="#000" stroke-width="2"/>
<line x1="2048.5" y1="165.8" x2="2055.5" y2="165.8" stroke="#000" stroke-width="1.6"/>
<line x1="2048.5" y1="180.5" x2="2055.5" y2="180.5" stroke="#000" stroke-width="1.6"/>
<line x1="2048.5" y1="195.2" x2="2055.5" y2="195.2" stroke="#000" stroke-width="1.6"/>
<line x1="2048.5" y1="225.1" x2="2055.5" y2="225.1" stroke="#000" stroke-width="1.6"/>
<line x1="2048.5" y1="240.2" x2="2055.5" y2="240.2" stroke="#000" stroke-width="1.6"/>
<line x1="2048.5" y1="255.4" x2="2055.5" y2="255.4" stroke="#000" stroke-width="1.6"/>
<line x1="2048.5" y1="285.4" x2="2055.5" y2="285.4" stroke="#000" stroke-width="1.6"/>
<line x1="2048.5" y1="300.2" x2="2055.5" y2="300.2" stroke="#000" stroke-width="1.6"/>
<line x1="2048.5" y1="315.1" x2="2055.5" y2="315.1" stroke="#000" stroke-width="1.6"/>
<line x1="2048.5" y1="344.9" x2="2055.5" y2="344.9" stroke="#000" stroke-width="1.6"/>
<line x1="2048.5" y1="359.8" x2="2055.5" y2="359.8" stroke="#000" stroke-width="1.6"/>
<line x1="2048.5" y1="374.6" x2="2055.5" y2="374.6" stroke="#000" stroke-width="1.6"/>
<line x1="2048.5" y1="404.6" x2="2055.5" y2="404.6" stroke="#000" stroke-width="1.6"/>
<line x1="2048.5" y1="419.8" x2="2055.5" y2="419.8" stroke="#000" stroke-width="1.6"/>
<line x1="2048.5" y1="434.9" x2="2055.5" y2="434.9" stroke="#000" stroke-width="1.6"/>
<line x1="2048.5" y1="465" x2="2055.5" y2="465" stroke="#000" stroke-width="1.6"/>
<line x1="2048.5" y1="480" x2="2055.5" y2="480" stroke="#000" stroke-width="1.6"/>
<line x1="2048.5" y1="495" x2="2055.5" y2="495" stroke="#000" stroke-width="1.6"/>
<line x1="2048.5" y1="525" x2="2055.5" y2="525" stroke="#000" stroke-width="1.6"/>
<line x1="2048.5" y1="540" x2="2055.5" y2="540" stroke="#000" stroke-width="1.6"/>
<line x1="2048.5" y1="555" x2="2055.5" y2="555" stroke="#000" stroke-width="1.6"/>
<line x1="2048.5" y1="585" x2="2055.5" y2="585" stroke="#000" stroke-width="1.6"/>
<line x1="2048.5" y1="600" x2="2055.5" y2="600" stroke="#000" stroke-width="1.6"/>
<line x1="2048.5" y1="615" x2="2055.5" y2="615" stroke="#000" stroke-width="1.6"/>
<line x1="2048.5" y1="644.8" x2="2055.5" y2="644.8" stroke="#000" stroke-width="1.6"/>
<line x1="2048.5" y1="659.5" x2="2055.5" y2="659.5" stroke="#000" stroke-width="1.6"/>
<line x1="2048.5" y1="674.2" x2="2055.5" y2="674.2" stroke="#000" stroke-width="1.6"/>
<text transform="translate(2079 172)" font-size="52" font-weight="bold">0.46</text>
<text transform="translate(2079 231)" font-size="52" font-weight="bold">0.41</text>
<text transform="translate(2079 301)" font-size="52" font-weight="bold">0.36</text>
<text transform="translate(2079 349)" font-size="52" font-weight="bold">0.31</text>
<text transform="translate(2079 409)" font-size="52" font-weight="bold">0.26</text>
<text transform="translate(2079 469)" font-size="52" font-weight="bold">0.21</text>
<text transform="translate(2079 528.5)" font-size="52" font-weight="bold">0.15</text>
<text transform="translate(2079 587.5)" font-size="52" font-weight="bold">0.10</text>
<text transform="translate(2079 647.5)" font-size="52" font-weight="bold">0.053</text>
<text transform="translate(2079 706.5)" font-size="52" font-weight="bold">0.0020</text>
<text transform="translate(2025 62)" font-size="62" text-anchor="middle" font-weight="bold" font-style="italic">η</text>
<text transform="translate(1232.5 139)" font-size="98">(e)</text>
<text transform="translate(1399 186.5) scale(0.992 1)" font-size="70">Strain = 0.4</text>
</g>
<g id="pf">
<polyline points="1217.4,1127.3 1539.2,1020.7 1970.4,1082.1" fill="none" stroke="#d2d2d2" stroke-width="1.15" stroke-linejoin="round"/>
<polyline points="1225.7,1252.5 1541.4,1128.4 1965.2,1200.6" fill="none" stroke="#d2d2d2" stroke-width="1.15" stroke-linejoin="round"/>
<polyline points="1233.6,1373 1543.5,1232 1960.2,1314.7" fill="none" stroke="#d2d2d2" stroke-width="1.15" stroke-linejoin="round"/>
<polyline points="1241.4,1489.9 1545.5,1332.6 1955.3,1425.3" fill="none" stroke="#d2d2d2" stroke-width="1.15" stroke-linejoin="round"/>
<line x1="1262.6" y1="1015.3" x2="1292.6" y2="1518.9" stroke="#d2d2d2" stroke-width="1.15"/>
<line x1="1316.1" y1="1000.1" x2="1342.1" y2="1491.9" stroke="#d2d2d2" stroke-width="1.15"/>
<line x1="1365.1" y1="986.1" x2="1387.3" y2="1467.1" stroke="#d2d2d2" stroke-width="1.15"/>
<line x1="1412.5" y1="972.6" x2="1431" y2="1443.2" stroke="#d2d2d2" stroke-width="1.15"/>
<line x1="1457.5" y1="959.8" x2="1472.6" y2="1420.4" stroke="#d2d2d2" stroke-width="1.15"/>
<line x1="1498.6" y1="948.1" x2="1510.6" y2="1399.6" stroke="#d2d2d2" stroke-width="1.15"/>
<line x1="1619.2" y1="946.9" x2="1622.5" y2="1398.2" stroke="#d2d2d2" stroke-width="1.15"/>
<line x1="1701.8" y1="956.9" x2="1699.3" y2="1416.7" stroke="#d2d2d2" stroke-width="1.15"/>
<line x1="1787.9" y1="967.4" x2="1779.4" y2="1435.9" stroke="#d2d2d2" stroke-width="1.15"/>
<line x1="1879.2" y1="978.4" x2="1864.4" y2="1456.2" stroke="#d2d2d2" stroke-width="1.15"/>
<polyline points="1211,1030 1537.5,937 1974.5,990 1953,1477.5" fill="none" stroke="#3a3a3a" stroke-width="1.3" stroke-linejoin="round"/>
<line x1="1537.5" y1="937" x2="1546.5" y2="1380" stroke="#3a3a3a" stroke-width="1.3"/>
<clipPath id="c8"><polygon points="1245,1545 1546.5,1380 1953,1477.5 1691.5,1684"/></clipPath>
<g clip-path="url(#c8)">
<rect x="1243" y="1378" width="712" height="308" fill="#ebe010"/>
<path d="M1333.2 1491.6 C1332.7 1492.6 1332.1 1493.4 1329.9 1497.6 C1327.7 1501.7 1322.7 1510.1 1319.9 1516.6 C1317.1 1523.1 1315.5 1529.3 1313.3 1536.5 C1311 1543.8 1308 1554.3 1306.6 1559.9 C1305.2 1565.4 1305.2 1568.2 1304.9 1569.9 L1223.3 1576.5 L1223.3 1493.2Z" fill="#ffff00"/>
<path d="M1309.3 1503.9 C1308.8 1505 1308.1 1506.5 1306.6 1510.2 C1305 1514 1302.7 1520.5 1299.9 1526.6 C1297.2 1532.6 1292.2 1541.5 1289.9 1546.5 C1287.7 1551.6 1287.4 1553.5 1286.6 1556.9 C1285.8 1560.2 1285.2 1564.9 1284.9 1566.5 L1223.3 1576.5 L1223.3 1493.2Z" fill="#00f000"/>
<path d="M1288.6 1515.2 C1288.3 1516.2 1287.8 1517.7 1286.6 1521.2 C1285.4 1524.8 1283.8 1531.3 1281.6 1536.5 C1279.4 1541.8 1274.9 1549 1273.3 1552.9 C1271.6 1556.8 1271.9 1558.7 1271.6 1559.9 L1223.3 1576.5 L1223.3 1493.2Z" fill="#00dcff"/>
<path d="M1273.3 1523.2 C1273 1524.2 1272.4 1526.4 1271.6 1529.2 C1270.8 1532 1269.7 1536.5 1268.3 1539.9 C1266.9 1543.3 1264.4 1546.8 1263.3 1549.5 C1262.2 1552.3 1261.9 1555.4 1261.6 1556.5 L1223.3 1576.5 L1223.3 1493.2Z" fill="#3700ff"/>
<path d="M1256 1533.2 C1255.8 1534.1 1255.3 1536.9 1255 1538.5 C1254.6 1540.2 1254.3 1541.9 1254 1543.2 C1253.6 1544.5 1253 1544.9 1252.6 1546.5 C1252.2 1548.2 1251.8 1552.1 1251.6 1553.2 L1223.3 1576.5 L1223.3 1493.2Z" fill="#800080"/>
<path d="M1299.9 1568.2 C1301 1567.2 1302.7 1565.3 1306.6 1562.2 C1310.5 1559.1 1317.7 1553.6 1323.2 1549.9 C1328.8 1546.2 1333.8 1543.2 1339.9 1539.9 C1346 1536.5 1353.2 1532.8 1359.9 1529.9 C1366.5 1527 1373.2 1524.2 1379.9 1522.6 C1386.5 1520.9 1393.2 1519.9 1399.9 1519.9 C1406.5 1519.9 1413.2 1520.8 1419.8 1522.6 C1426.5 1524.3 1433.2 1527.4 1439.8 1530.6 C1446.5 1533.7 1453.2 1537.9 1459.8 1541.5 C1466.5 1545.2 1473.1 1549.5 1479.8 1552.5 C1486.5 1555.6 1493.1 1557.8 1499.8 1559.9 C1506.5 1561.9 1513.1 1563.1 1519.8 1564.9 C1526.4 1566.6 1533.1 1568 1539.8 1570.5 C1546.4 1573 1553.6 1576.1 1559.8 1579.9 C1565.9 1583.6 1571.7 1588.5 1576.4 1593.2 C1581.1 1597.9 1585 1603.2 1588.1 1608.2 C1591.1 1613.2 1593.1 1618.2 1594.7 1623.2 C1596.4 1628.2 1597.7 1633.7 1598.1 1638.1 C1598.4 1642.6 1597.9 1647.2 1597.1 1649.8 C1596.2 1652.4 1594.3 1652.1 1593.1 1653.8 C1591.8 1655.5 1590.3 1658.8 1589.7 1659.8 L1423.2 1659.8 L1289.9 1593.2Z" fill="#ff0000"/><path d="M1299.9 1568.2 C1301 1567.2 1302.7 1565.3 1306.6 1562.2 C1310.5 1559.1 1317.7 1553.6 1323.2 1549.9 C1328.8 1546.2 1333.8 1543.2 1339.9 1539.9 C1346 1536.5 1353.2 1532.8 1359.9 1529.9 C1366.5 1527 1373.2 1524.2 1379.9 1522.6 C1386.5 1520.9 1393.2 1519.9 1399.9 1519.9 C1406.5 1519.9 1413.2 1520.8 1419.8 1522.6 C1426.5 1524.3 1433.2 1527.4 1439.8 1530.6 C1446.5 1533.7 1453.2 1537.9 1459.8 1541.5 C1466.5 1545.2 1473.1 1549.5 1479.8 1552.5 C1486.5 1555.6 1493.1 1557.8 1499.8 1559.9 C1506.5 1561.9 1513.1 1563.1 1519.8 1564.9 C1526.4 1566.6 1533.1 1568 1539.8 1570.5 C1546.4 1573 1553.6 1576.1 1559.8 1579.9 C1565.9 1583.6 1571.7 1588.5 1576.4 1593.2 C1581.1 1597.9 1585 1603.2 1588.1 1608.2 C1591.1 1613.2 1593.1 1618.2 1594.7 1623.2 C1596.4 1628.2 1597.7 1633.7 1598.1 1638.1 C1598.4 1642.6 1597.9 1647.2 1597.1 1649.8 C1596.2 1652.4 1594.3 1652.1 1593.1 1653.8 C1591.8 1655.5 1590.3 1658.8 1589.7 1659.8" fill="none" stroke="#000" stroke-width="3" stroke-linejoin="round" stroke-linecap="round"/>
<path d="M1323.2 1573.2 C1324.4 1572.6 1324.4 1571.8 1329.9 1569.9 C1335.5 1567.9 1347.7 1563.5 1356.6 1561.5 C1365.4 1559.6 1374.3 1558.5 1383.2 1558.2 C1392.1 1557.9 1401 1558.5 1409.9 1559.9 C1418.7 1561.3 1427.6 1563.8 1436.5 1566.5 C1445.4 1569.3 1454.3 1572.6 1463.2 1576.5 C1472 1580.4 1481.5 1585.4 1489.8 1589.8 C1498.1 1594.3 1505.9 1598.7 1513.1 1603.2 C1520.3 1607.6 1527.6 1612.1 1533.1 1616.5 C1538.7 1620.9 1543.4 1625.9 1546.4 1629.8 C1549.5 1633.7 1550.6 1635.9 1551.4 1639.8 C1552.3 1643.7 1551.4 1650.9 1551.4 1653.1 L1423.2 1659.8 L1289.9 1593.2Z" fill="#e60000"/>
<path d="M1339.9 1576.5 C1341 1576 1341.6 1574.6 1346.6 1573.2 C1351.6 1571.8 1362.1 1569 1369.9 1568.2 C1377.7 1567.4 1385.4 1567.4 1393.2 1568.2 C1401 1569 1408.2 1570.8 1416.5 1573.2 C1424.8 1575.6 1434.3 1578.9 1443.2 1582.5 C1452 1586.1 1461.5 1590.6 1469.8 1594.8 C1478.1 1599.1 1486.5 1604 1493.1 1608.2 C1499.8 1612.3 1505.6 1616.5 1509.8 1619.8 C1514 1623.2 1516.2 1624.8 1518.1 1628.2 C1520.1 1631.5 1520.9 1637.9 1521.4 1639.8 L1423.2 1659.8 L1289.9 1593.2Z" fill="#b40000"/>
<path d="M1349.9 1579.9 C1351 1579.3 1352.1 1577.6 1356.6 1576.5 C1361 1575.4 1369.9 1573.5 1376.5 1573.2 C1383.2 1572.9 1388.8 1573.2 1396.5 1574.9 C1404.3 1576.5 1414.3 1579.9 1423.2 1583.2 C1432.1 1586.5 1441.5 1591 1449.8 1594.8 C1458.2 1598.7 1466.5 1602.6 1473.1 1606.5 C1479.8 1610.4 1486.2 1614.8 1489.8 1618.2 C1493.4 1621.5 1494 1625.1 1494.8 1626.5 L1423.2 1659.8 L1289.9 1593.2Z" fill="#8a0000"/>
<path d="M1363.2 1473.3 C1364.1 1473.9 1366 1475.6 1368.2 1477.3 C1370.4 1478.9 1373.5 1481.4 1376.5 1483.3 C1379.6 1485.1 1382.6 1486.9 1386.5 1488.2 C1390.4 1489.6 1395.4 1491.6 1399.9 1491.6 C1404.3 1491.6 1409 1490.5 1413.2 1488.2 C1417.3 1486 1421.2 1482.4 1424.8 1478.3 C1428.5 1474.1 1432.1 1468 1434.8 1463.3 C1437.6 1458.5 1439.8 1454.4 1441.5 1449.9 C1443.2 1445.5 1444 1440.5 1444.8 1436.6 C1445.7 1432.7 1446.2 1428.3 1446.5 1426.6 L1389.9 1426.6 L1339.9 1476.6Z" fill="#ff0000"/><path d="M1363.2 1473.3 C1364.1 1473.9 1366 1475.6 1368.2 1477.3 C1370.4 1478.9 1373.5 1481.4 1376.5 1483.3 C1379.6 1485.1 1382.6 1486.9 1386.5 1488.2 C1390.4 1489.6 1395.4 1491.6 1399.9 1491.6 C1404.3 1491.6 1409 1490.5 1413.2 1488.2 C1417.3 1486 1421.2 1482.4 1424.8 1478.3 C1428.5 1474.1 1432.1 1468 1434.8 1463.3 C1437.6 1458.5 1439.8 1454.4 1441.5 1449.9 C1443.2 1445.5 1444 1440.5 1444.8 1436.6 C1445.7 1432.7 1446.2 1428.3 1446.5 1426.6" fill="none" stroke="#000" stroke-width="3" stroke-linejoin="round" stroke-linecap="round"/>
<path d="M1538.1 1498.2 C1537 1493.2 1539.5 1488 1543.1 1483.3 C1546.7 1478.5 1553.1 1473.3 1559.8 1469.9 C1566.4 1466.6 1574.7 1464.5 1583.1 1463.3 C1591.4 1462 1601.9 1461.5 1609.7 1462.6 C1617.5 1463.7 1624.2 1466.5 1629.7 1469.9 C1635.3 1473.4 1640.3 1478.3 1643 1483.3 C1645.8 1488.2 1646.9 1494.9 1646.4 1499.9 C1645.8 1504.9 1643.6 1509.6 1639.7 1513.2 C1635.8 1516.8 1629.7 1519.6 1623 1521.6 C1616.4 1523.5 1608.1 1524.9 1599.7 1524.9 C1591.4 1524.9 1581.4 1523.5 1573.1 1521.6 C1564.8 1519.6 1555.6 1517.1 1549.8 1513.2 C1543.9 1509.3 1539.2 1503.2 1538.1 1498.2Z" fill="#ffff00"/>
<path d="M1473.4 1413.3 C1474.5 1413.9 1472.8 1414.4 1480 1416.6 C1487.2 1418.8 1505 1424.7 1516.7 1426.6 C1528.3 1428.6 1540 1429.4 1550 1428.3 C1560 1427.2 1568.3 1423.6 1576.6 1420 C1584.9 1416.4 1593.8 1410.5 1599.9 1406.6 C1606 1402.7 1609.9 1399.4 1613.3 1396.6 C1616.6 1393.9 1618.8 1391.1 1619.9 1390 L1550 1366.7 L1466.7 1393.3Z" fill="#ffff00"/>
<path d="M1490 1403.3 C1491.1 1403.9 1492.8 1405.5 1496.7 1406.6 C1500.6 1407.7 1507.2 1409.1 1513.3 1410 C1519.4 1410.8 1526.1 1411.9 1533.3 1411.6 C1540.5 1411.4 1549.4 1410.2 1556.6 1408.3 C1563.8 1406.4 1570 1402.7 1576.6 1400 C1583.3 1397.3 1592.2 1394.2 1596.6 1392 C1601 1389.8 1602.2 1387.5 1603.3 1386.6 L1550 1366.7 L1483.3 1393.3Z" fill="#00f000"/>
<path d="M1503.3 1396 C1504.4 1396.5 1506.1 1398.4 1510 1399.3 C1513.9 1400.3 1520.5 1401.5 1526.6 1401.6 C1532.8 1401.7 1540 1401.1 1546.6 1400 C1553.3 1398.9 1560.5 1396.8 1566.6 1395 C1572.7 1393.1 1579.4 1390.9 1583.3 1389 C1587.2 1387 1588.8 1384.3 1589.9 1383.3 L1550 1366.7 L1500 1390Z" fill="#00dcff"/>
<path d="M1516.7 1389.3 C1517.8 1389.8 1520 1391.6 1523.3 1392.3 C1526.6 1393 1531.6 1393.4 1536.6 1393.3 C1541.6 1393.2 1547.5 1392.9 1553.3 1391.6 C1559.1 1390.4 1567.7 1387.9 1571.6 1386 C1575.5 1384 1575.8 1381 1576.6 1380 L1550 1366.7 L1513.3 1383.3Z" fill="#3700ff"/>
<path d="M1530 1383.3 C1530.8 1383.8 1532.2 1385.4 1535 1386 C1537.8 1386.5 1542.5 1387.1 1546.6 1386.6 C1550.8 1386.2 1556.9 1384.7 1560 1383.3 C1563 1381.9 1564.1 1379.2 1565 1378.3 L1550 1366.7 L1526.6 1380Z" fill="#800080"/>
<path d="M1650.6 1396.6 C1650.7 1398.1 1651.1 1402.5 1651.6 1405.3 C1652 1408.1 1651.8 1410.6 1653.2 1413.3 C1654.6 1416 1656.6 1418.6 1659.9 1421.6 C1663.2 1424.7 1668.2 1428.3 1673.2 1431.6 C1678.2 1435 1683.8 1438.3 1689.9 1441.6 C1696 1444.9 1702.6 1448 1709.9 1451.6 C1717.1 1455.2 1724.9 1459.1 1733.2 1463.3 C1741.5 1467.4 1750.9 1471.9 1759.8 1476.6 C1768.7 1481.3 1777.6 1486.6 1786.5 1491.6 C1795.4 1496.6 1804.2 1501.8 1813.1 1506.6 C1822 1511.3 1831.4 1516 1839.8 1519.9 C1848.1 1523.8 1856.4 1527.4 1863.1 1529.9 C1869.8 1532.4 1874.8 1533.5 1879.7 1534.9 C1884.7 1536.3 1890.9 1537.7 1893.1 1538.2 L1999.7 1493.2 L1966.4 1426.6 L1666.6 1376.7Z" fill="#ff0000"/><path d="M1650.6 1396.6 C1650.7 1398.1 1651.1 1402.5 1651.6 1405.3 C1652 1408.1 1651.8 1410.6 1653.2 1413.3 C1654.6 1416 1656.6 1418.6 1659.9 1421.6 C1663.2 1424.7 1668.2 1428.3 1673.2 1431.6 C1678.2 1435 1683.8 1438.3 1689.9 1441.6 C1696 1444.9 1702.6 1448 1709.9 1451.6 C1717.1 1455.2 1724.9 1459.1 1733.2 1463.3 C1741.5 1467.4 1750.9 1471.9 1759.8 1476.6 C1768.7 1481.3 1777.6 1486.6 1786.5 1491.6 C1795.4 1496.6 1804.2 1501.8 1813.1 1506.6 C1822 1511.3 1831.4 1516 1839.8 1519.9 C1848.1 1523.8 1856.4 1527.4 1863.1 1529.9 C1869.8 1532.4 1874.8 1533.5 1879.7 1534.9 C1884.7 1536.3 1890.9 1537.7 1893.1 1538.2" fill="none" stroke="#000" stroke-width="3" stroke-linejoin="round" stroke-linecap="round"/>
<path d="M1699.9 1410 C1701 1411.4 1701 1413.9 1706.5 1418.3 C1712.1 1422.7 1723.2 1430.2 1733.2 1436.6 C1743.2 1443 1755.4 1450.5 1766.5 1456.6 C1777.6 1462.7 1788.7 1468 1799.8 1473.3 C1810.9 1478.5 1822 1483.8 1833.1 1488.2 C1844.2 1492.7 1855.3 1496.3 1866.4 1499.9 C1877.5 1503.5 1890.9 1507.4 1899.7 1509.9 C1908.6 1512.4 1914.2 1513.5 1919.7 1514.9 C1925.3 1516.3 1930.8 1517.7 1933 1518.2 L1999.7 1493.2 L1966.4 1426.6 L1699.9 1376.7Z" fill="#e60000"/>
<path d="M1733.2 1420 C1734.3 1421.1 1734.3 1422.7 1739.8 1426.6 C1745.4 1430.5 1756.5 1437.7 1766.5 1443.3 C1776.5 1448.8 1788.7 1454.9 1799.8 1459.9 C1810.9 1464.9 1822 1469.4 1833.1 1473.3 C1844.2 1477.1 1855.3 1480.2 1866.4 1483.3 C1877.5 1486.3 1889.2 1489.4 1899.7 1491.6 C1910.3 1493.8 1921.9 1495.2 1929.7 1496.6 C1937.5 1498 1943.6 1499.4 1946.4 1499.9 L1999.7 1493.2 L1966.4 1426.6 L1733.2 1376.7Z" fill="#b40000"/>
<path d="M1759.8 1426.6 C1760.9 1427.7 1759.8 1429.7 1766.5 1433.3 C1773.2 1436.9 1788.7 1443.8 1799.8 1448.3 C1810.9 1452.7 1822 1456.3 1833.1 1459.9 C1844.2 1463.5 1855.3 1467.2 1866.4 1469.9 C1877.5 1472.7 1887.5 1473.8 1899.7 1476.6 C1911.9 1479.4 1930.8 1484.4 1939.7 1486.6 C1948.6 1488.8 1950.8 1489.4 1953 1489.9 L1999.7 1493.2 L1966.4 1426.6 L1759.8 1376.7Z" fill="#8a0000"/>
<path d="M1653.2 1679.8 C1653.8 1678.4 1654.3 1675.9 1656.6 1671.5 C1658.8 1667 1662.7 1660.1 1666.6 1653.1 C1670.4 1646.2 1675.4 1638.1 1679.9 1629.8 C1684.3 1621.5 1688.8 1611.5 1693.2 1603.2 C1697.6 1594.8 1702.1 1586.2 1706.5 1579.9 C1711 1573.5 1715.4 1568.2 1719.9 1564.9 C1724.3 1561.5 1727.6 1559.9 1733.2 1559.9 C1738.7 1559.9 1746.5 1562.6 1753.2 1564.9 C1759.8 1567.1 1766.5 1570.4 1773.2 1573.2 C1779.8 1576 1786.5 1579 1793.1 1581.5 C1799.8 1584 1807.6 1586.2 1813.1 1588.2 C1818.7 1590.1 1824.2 1592.3 1826.4 1593.2 L1833.1 1693.1 L1666.6 1709.8Z" fill="#ffff00"/>
<pattern id="m9" width="1" height="1" patternUnits="userSpaceOnUse" patternTransform="matrix(8.9 2.8 6.9 -3.8 1245 1545)"><path d="M0 0H1M0 0V1" stroke="#3a3000" stroke-opacity="0.2" stroke-width="0.11" fill="none"/></pattern><rect x="1243" y="1378" width="712" height="308" fill="url(#m9)"/>
</g>
<g opacity="0.26"><line x1="1292.6" y1="1518.9" x2="1734" y2="1650.4" stroke="#fff" stroke-width="1.8"/><line x1="1342.1" y1="1491.9" x2="1773.1" y2="1619.6" stroke="#fff" stroke-width="1.8"/><line x1="1387.3" y1="1467.1" x2="1813.9" y2="1587.4" stroke="#fff" stroke-width="1.8"/><line x1="1431" y1="1443.2" x2="1852.1" y2="1557.2" stroke="#fff" stroke-width="1.8"/><line x1="1472.6" y1="1420.4" x2="1885.5" y2="1530.8" stroke="#fff" stroke-width="1.8"/><line x1="1510.6" y1="1399.6" x2="1918" y2="1505.2" stroke="#fff" stroke-width="1.8"/><line x1="1322.7" y1="1569.2" x2="1622.5" y2="1398.2" stroke="#fff" stroke-width="1.8"/><line x1="1408.9" y1="1596" x2="1699.3" y2="1416.7" stroke="#fff" stroke-width="1.8"/><line x1="1500" y1="1624.4" x2="1779.4" y2="1435.9" stroke="#fff" stroke-width="1.8"/><line x1="1592.4" y1="1653.1" x2="1864.4" y2="1456.2" stroke="#fff" stroke-width="1.8"/></g>
<polyline points="1245,1545 1546.5,1380 1953,1477.5" fill="none" stroke="#2a2a2a" stroke-width="1.3" stroke-linejoin="round"/>
<clipPath id="c10"><polygon points="1496.5,1224.9 1503.1,1246.5 1511.5,1269.8 1519.8,1289.8 1529.8,1316.5 1538.1,1339.8 1546.4,1364.8 1546.4,1364.8 1554.8,1339.8 1563.1,1313.2 1571.4,1286.5 1578.1,1263.2 1580.4,1253.2 1606.4,1253.2 1606.4,1206.6 1496.5,1206.6"/></clipPath>
<g clip-path="url(#c10)">
<rect x="1494.5" y="1204.6" width="113.9" height="162.2" fill="#00f000"/>
<path d="M1489.8 1250.5 C1492.3 1250.7 1499.2 1251 1504.8 1251.5 C1510.3 1252.1 1515.6 1253.5 1523.1 1253.9 C1530.6 1254.2 1538.7 1254.2 1549.8 1253.9 C1560.9 1253.5 1583.1 1252.2 1589.7 1251.9 L1623 1406.4 L1489.8 1406.4Z" fill="#00dcff"/>
<path d="M1506.5 1292.5 C1508.7 1292.3 1513.7 1291.8 1519.8 1291.5 C1525.9 1291.2 1534.5 1291.3 1543.1 1290.5 C1551.7 1289.7 1563.6 1287.4 1571.4 1286.5 C1579.2 1285.6 1586.7 1285.1 1589.7 1284.8 L1623 1406.4 L1489.8 1406.4Z" fill="#3700ff"/>
<path d="M1523.1 1329.8 C1525.1 1329.8 1530.9 1329.7 1534.8 1329.8 C1538.7 1329.9 1542.5 1330.6 1546.4 1330.5 C1550.3 1330.4 1550.9 1329.8 1558.1 1329.1 C1565.3 1328.5 1584.5 1326.9 1589.7 1326.5 L1623 1406.4 L1489.8 1406.4Z" fill="#800080"/>
<path d="M1489.8 1221.5 C1490.9 1222.1 1490.9 1222.3 1496.5 1224.9 C1502 1227.5 1514.2 1233.5 1523.1 1237.2 C1532 1240.9 1540.2 1244.4 1549.8 1247.2 C1559.3 1250 1571 1252.3 1580.4 1253.9 C1589.8 1255.4 1602.1 1256.1 1606.4 1256.5 L1606.4 1173.2 L1489.8 1173.2Z" fill="#ebe010"/>
<path d="M1436.5 1193.2 C1437.6 1193.8 1437.1 1194.1 1443.2 1196.6 C1449.3 1199.1 1463.7 1205.1 1473.1 1208.2 C1482.6 1211.4 1491.5 1213.5 1499.8 1215.5 C1508.1 1217.6 1515.9 1218.9 1523.1 1220.5 C1530.3 1222.2 1535.9 1223.5 1543.1 1225.5 C1550.3 1227.5 1558.6 1227.9 1566.4 1232.5 C1574.2 1237.1 1585.8 1249.7 1589.7 1253.2 L1606.4 1173.2 L1436.5 1173.2Z" fill="#f8ae1a"/>
</g>
<clipPath id="c11"><path d="M1540 1186.5 C1531.3 1175.1 1534.4 1178.2 1533.3 1176.5 C1532.2 1174.9 1529.4 1177.6 1533.3 1176.5 C1537.2 1175.4 1548.8 1172.9 1556.6 1169.9 C1564.4 1166.8 1572.7 1162.9 1579.9 1158.2 C1587.2 1153.5 1593.8 1147.4 1599.9 1141.6 C1606 1135.7 1611.6 1128.5 1616.6 1123.2 C1621.6 1118 1624.4 1115.2 1629.9 1109.9 C1635.5 1104.6 1643.2 1097.7 1649.9 1091.6 C1656.6 1085.5 1663.2 1078.8 1669.9 1073.3 C1676.5 1067.7 1682.6 1063.3 1689.9 1058.3 C1697.1 1053.3 1705.4 1047.7 1713.2 1043.3 C1721 1038.8 1728.7 1035.2 1736.5 1031.6 C1744.3 1028 1752 1024.7 1759.8 1021.6 C1767.6 1018.6 1774.8 1015.7 1783.1 1013.3 C1791.5 1010.9 1800.9 1008.9 1809.8 1007.3 C1818.7 1005.8 1827.6 1004.8 1836.4 1004 C1845.3 1003.2 1854.2 1002.9 1863.1 1002.7 C1872 1002.4 1880.9 1002.5 1889.7 1002.7 C1898.6 1002.8 1907.5 1002.9 1916.4 1003.3 C1925.3 1003.7 1933.6 1004.3 1943 1005 C1952.5 1005.6 1968 1006.9 1973 1007.3 C1978 1007.7 1977.2 997.7 1973 1007.3 C1968.8 1016.9 1957.2 1045.4 1948 1065 C1938.8 1084.6 1927.2 1105.8 1918 1125 C1908.8 1144.2 1900.5 1164.6 1893 1180 C1885.5 1195.4 1880.5 1204.2 1873 1217.5 C1865.5 1230.8 1856.3 1246.2 1848 1260 C1839.7 1273.8 1831.3 1287.5 1823 1300 C1814.7 1312.5 1807.2 1322.9 1798 1335 C1788.8 1347.1 1778 1360.8 1768 1372.5 C1758 1384.2 1747.2 1396.2 1738 1405 C1728.8 1413.8 1720.3 1419.6 1713 1425 C1705.7 1430.4 1697.2 1435.4 1694 1437.5 C1690.8 1439.6 1696.7 1441.2 1694 1437.5 C1691.3 1433.8 1684 1424.6 1678 1415 C1672 1405.4 1664.7 1391.7 1658 1380 C1651.3 1368.3 1644.7 1356.7 1638 1345 C1631.3 1333.3 1623.8 1320 1618 1310 C1612.2 1300 1607 1293.3 1603 1285 C1599 1276.7 1596.9 1266.7 1594 1260 C1591.1 1253.3 1594.5 1257.2 1585.5 1245 C1576.5 1232.8 1548.7 1197.9 1540 1186.5Z"/></clipPath>
<g clip-path="url(#c11)">
<rect x="1531.3" y="1000.7" width="443.7" height="438.8" fill="#ebe010"/>
<path d="M1623.2 1103.3 C1624.4 1104.6 1628.2 1108.8 1629.9 1111.6 C1631.6 1114.4 1629.9 1117.1 1633.2 1119.9 C1636.6 1122.7 1642.7 1124.9 1649.9 1128.2 C1657.1 1131.6 1667.1 1135.7 1676.5 1139.9 C1686 1144.1 1696 1148.8 1706.5 1153.2 C1717.1 1157.7 1728.7 1162.1 1739.8 1166.5 C1750.9 1171 1762 1175.4 1773.1 1179.9 C1784.2 1184.3 1795.4 1188.7 1806.5 1193.2 C1817.6 1197.6 1828.9 1202.4 1839.8 1206.5 C1850.6 1210.7 1860.3 1214 1871.4 1218.2 C1882.5 1222.3 1900.6 1229.3 1906.4 1231.5 L1989.7 1213.2 L1989.7 980 L1623.2 980Z" fill="#f8ae1a"/>
<path d="M1636.6 1086.6 C1638.8 1087.7 1643.2 1090.2 1649.9 1093.3 C1656.6 1096.3 1667.1 1100.8 1676.5 1104.9 C1686 1109.1 1696 1113.8 1706.5 1118.2 C1717.1 1122.7 1728.7 1127.1 1739.8 1131.6 C1750.9 1136 1762 1140.7 1773.1 1144.9 C1784.2 1149.1 1795.4 1152.9 1806.5 1156.5 C1817.6 1160.2 1829.8 1163.5 1839.8 1166.5 C1849.8 1169.6 1857.8 1172.4 1866.4 1174.9 C1875 1177.4 1882 1179 1891.4 1181.5 C1900.8 1184 1917.8 1188.5 1923 1189.9 L1989.7 1179.9 L1989.7 980 L1636.6 980Z" fill="#ff0000"/>
<path d="M1703.2 1036.6 C1706 1037.7 1712.1 1040.2 1719.8 1043.3 C1727.6 1046.3 1739.3 1051.1 1749.8 1055 C1760.4 1058.8 1772 1063 1783.1 1066.6 C1794.2 1070.2 1805.3 1073.5 1816.4 1076.6 C1827.6 1079.7 1838.7 1082.4 1849.8 1084.9 C1860.9 1087.4 1873.1 1089.6 1883.1 1091.6 C1893.1 1093.5 1902.2 1095.5 1909.7 1096.6 C1917.2 1097.7 1920.3 1097.6 1928 1098.3 C1935.8 1098.9 1951.6 1100.2 1956.4 1100.6 L1989.7 1096.6 L1989.7 980 L1703.2 980Z" fill="#e60000"/>
<path d="M1736.5 1020 C1739.3 1021.1 1745.9 1024.1 1753.2 1026.6 C1760.4 1029.1 1770.4 1031.9 1779.8 1035 C1789.2 1038 1799.2 1041.9 1809.8 1045 C1820.3 1048 1832 1050.8 1843.1 1053.3 C1854.2 1055.8 1865.3 1058 1876.4 1059.9 C1887.5 1061.9 1898.3 1063.6 1909.7 1064.9 C1921.1 1066.3 1934.1 1067.4 1944.7 1068.3 C1955.2 1069.1 1968.3 1069.7 1973 1069.9 L1989.7 1063.3 L1989.7 980 L1736.5 980Z" fill="#b2001e"/>
<path d="M1565 1229.8 C1563.3 1224.8 1566.3 1220.1 1569.9 1216.5 C1573.6 1212.9 1580.5 1209.8 1586.6 1208.2 C1592.7 1206.5 1599.9 1206 1606.6 1206.5 C1613.3 1207.1 1620.7 1209 1626.6 1211.5 C1632.4 1214 1638.2 1217.6 1641.6 1221.5 C1644.9 1225.4 1646.8 1230.7 1646.6 1234.8 C1646.3 1239 1643.8 1243.7 1639.9 1246.5 C1636 1249.3 1629.4 1250.7 1623.2 1251.5 C1617.1 1252.3 1610.5 1252.3 1603.3 1251.5 C1596 1250.7 1586.3 1250.1 1579.9 1246.5 C1573.6 1242.9 1566.6 1234.8 1565 1229.8Z" fill="#ffff00"/>
<path d="M1836.4 1308.1 C1833.7 1307 1827.6 1304.2 1819.8 1301.5 C1812 1298.7 1800.3 1294.5 1789.8 1291.5 C1779.3 1288.4 1767 1284.8 1756.5 1283.1 C1745.9 1281.5 1733.7 1280.4 1726.5 1281.5 C1719.3 1282.6 1717.1 1285.6 1713.2 1289.8 C1709.3 1294 1706.5 1300.3 1703.2 1306.4 C1699.9 1312.6 1697.6 1320.3 1693.2 1326.4 C1688.8 1332.5 1682.1 1338.1 1676.5 1343.1 C1671 1348.1 1664.3 1352.5 1659.9 1356.4 C1655.4 1360.3 1653.2 1363.1 1649.9 1366.4 C1646.6 1369.7 1641.6 1374.7 1639.9 1376.4 L1656.6 1479.7 L1856.4 1413Z" fill="#ffff00"/>
<path d="M1583.3 1236.5 C1584.9 1238.2 1589.4 1243.2 1593.3 1246.5 C1597.2 1249.8 1603 1252 1606.6 1256.5 C1610.2 1260.9 1613.3 1267.6 1614.9 1273.1 C1616.6 1278.7 1616.9 1285.9 1616.6 1289.8 C1616.3 1293.7 1614.4 1293.7 1613.3 1296.5 C1612.1 1299.2 1610.5 1304.8 1609.9 1306.4 L1556.6 1279.8 L1556.6 1213.2Z" fill="#f8ae1a"/>
<pattern id="m12" width="1" height="1" patternUnits="userSpaceOnUse" patternTransform="matrix(9.5 2.4 5.5 -7.5 0 0)"><path d="M0 0H1M0 0V1" stroke="#3a3000" stroke-opacity="0.14" stroke-width="0.11" fill="none"/></pattern><rect x="1531.3" y="1000.7" width="443.7" height="438.8" fill="url(#m12)"/>
</g>
<clipPath id="c13"><path d="M1242.3 1517 C1239.9 1524.3 1241.6 1524.3 1242.3 1517 C1243 1509.7 1245.1 1485.9 1246.6 1473 C1248.2 1460.2 1250.2 1450.8 1251.6 1439.7 C1253 1428.6 1253.8 1417.5 1255 1406.4 C1256.1 1395.3 1256.8 1385.3 1258.3 1373.1 C1259.8 1360.9 1262 1346.5 1264 1333.1 C1265.9 1319.8 1267.9 1306.5 1269.9 1293.2 C1271.9 1279.8 1274.2 1264.9 1275.9 1253.2 C1277.7 1241.5 1279.1 1231.5 1280.6 1223.2 C1282.1 1214.9 1283.4 1210.4 1284.9 1203.2 C1286.5 1196 1288 1187.7 1289.9 1179.9 C1291.9 1172.1 1294.1 1164.1 1296.6 1156.6 C1299.1 1149.1 1301.9 1141.9 1304.9 1134.9 C1308 1128 1310.8 1121.3 1314.9 1115 C1319.1 1108.6 1324.6 1101.6 1329.9 1096.6 C1335.2 1091.6 1340.5 1087.9 1346.6 1085 C1352.7 1082.1 1359.9 1080 1366.5 1079.3 C1373.2 1078.6 1379.9 1079.4 1386.5 1080.6 C1393.2 1081.9 1399.9 1084.1 1406.5 1086.6 C1413.2 1089.2 1419.8 1092.4 1426.5 1096 C1433.2 1099.6 1439.8 1103.8 1446.5 1108.3 C1453.2 1112.7 1459.8 1117.9 1466.5 1122.6 C1473.1 1127.3 1479.5 1132 1486.5 1136.6 C1493.4 1141.2 1502.3 1145.5 1508.1 1149.9 C1513.9 1154.3 1516.8 1158.1 1521.1 1162.9 C1525.4 1167.7 1529.3 1173.2 1534.1 1178.6 C1538.9 1184 1545 1189.8 1549.8 1195.2 C1554.5 1200.6 1558.5 1205.7 1562.8 1210.9 C1567 1216.1 1571.5 1221.8 1575.4 1226.5 C1579.3 1231.3 1583.3 1235.9 1586.1 1239.5 C1588.8 1243.2 1590.5 1245.5 1591.7 1248.5 C1593 1251.5 1593.7 1254.6 1593.7 1257.5 C1593.7 1260.5 1592.1 1264.7 1591.7 1266.2 C1591.4 1267.6 1593.2 1268.3 1591.7 1266.2 C1590.3 1264 1586.7 1257.9 1583.1 1253.2 C1579.4 1248.5 1574.2 1242.6 1569.7 1238.2 C1565.3 1233.8 1561.4 1229.9 1556.4 1226.5 C1551.4 1223.2 1545.3 1219.9 1539.8 1218.2 C1534.2 1216.5 1529.2 1216.5 1523.1 1216.5 C1517 1216.5 1507.6 1216.8 1503.1 1218.2 C1498.7 1219.6 1497.6 1223.8 1496.5 1224.9 C1495.4 1226 1497.6 1225.7 1496.5 1224.9 C1495.4 1224 1494.2 1222.7 1489.8 1219.9 C1485.4 1217.1 1476.5 1212.1 1469.8 1208.2 C1463.2 1204.3 1456.5 1200.2 1449.8 1196.6 C1443.2 1193 1436.5 1189.6 1429.8 1186.6 C1423.2 1183.5 1416.5 1180.4 1409.9 1178.2 C1403.2 1176.1 1396.5 1174.6 1389.9 1173.9 C1383.2 1173.2 1376 1173.2 1369.9 1173.9 C1363.8 1174.6 1358.2 1176.1 1353.2 1178.2 C1348.2 1180.4 1343.8 1183 1339.9 1186.6 C1336 1190.2 1333 1194.9 1329.9 1199.9 C1326.9 1204.9 1324.4 1209.9 1321.6 1216.5 C1318.8 1223.2 1316 1230.4 1313.3 1239.9 C1310.5 1249.3 1307.7 1262.1 1304.9 1273.2 C1302.1 1284.3 1299.1 1295.4 1296.6 1306.5 C1294.1 1317.6 1292.4 1328.7 1289.9 1339.8 C1287.4 1350.9 1284.4 1362 1281.6 1373.1 C1278.8 1384.2 1276.1 1395.3 1273.3 1406.4 C1270.5 1417.5 1267.7 1428.6 1265 1439.7 C1262.2 1450.8 1260.4 1460.2 1256.6 1473 C1252.8 1485.9 1244.7 1509.7 1242.3 1517Z"/></clipPath>
<g clip-path="url(#c13)">
<rect x="1240.3" y="1077.3" width="355.4" height="441.7" fill="#f8ae1a"/>
<path d="M1269.9 1229.9 C1271.7 1229 1275.6 1227.1 1280.6 1224.9 C1285.6 1222.7 1293.4 1219.9 1299.9 1216.5 C1306.5 1213.2 1314.6 1208.8 1319.9 1204.9 C1325.2 1201 1328.5 1196.8 1331.6 1193.2 C1334.6 1189.6 1337.1 1184.9 1338.2 1183.2 L1389.9 1186.6 L1389.9 1539.7 L1223.3 1539.7 L1223.3 1239.9Z" fill="#ebe010"/>
<path d="M1260 1283.2 C1261.9 1282.3 1266.6 1280.4 1271.6 1278.2 C1276.6 1276 1284.1 1273.5 1289.9 1269.8 C1295.8 1266.2 1301 1261 1306.6 1256.5 C1312.1 1252.1 1320.5 1245.4 1323.2 1243.2 L1389.9 1239.9 L1389.9 1539.7 L1223.3 1539.7 L1223.3 1306.5Z" fill="#ffff00"/>
<path d="M1253.3 1341.5 C1255.1 1340.1 1259.5 1336.7 1264 1333.1 C1268.4 1329.5 1274.9 1324.8 1279.9 1319.8 C1284.9 1314.8 1289.5 1308.2 1293.9 1303.2 C1298.4 1298.2 1304.5 1292.1 1306.6 1289.8 L1389.9 1273.2 L1389.9 1539.7 L1223.3 1539.7 L1223.3 1356.5Z" fill="#00f000"/>
<path d="M1246.6 1391.4 C1248.6 1390 1254.4 1386.2 1258.3 1383.1 C1262.2 1380.1 1266.1 1377 1269.9 1373.1 C1273.8 1369.2 1277.2 1364.8 1281.6 1359.8 C1286 1354.8 1294.1 1345.9 1296.6 1343.1 L1389.9 1339.8 L1389.9 1539.7 L1223.3 1539.7 L1223.3 1406.4Z" fill="#00dcff"/>
<path d="M1243.3 1433.1 C1245 1432 1250.2 1428.6 1253.3 1426.4 C1256.3 1424.2 1259.1 1421.7 1261.6 1419.7 C1264.1 1417.8 1265.2 1417.2 1268.3 1414.8 C1271.3 1412.3 1278 1406.4 1279.9 1404.8 L1389.9 1373.1 L1389.9 1539.7 L1223.3 1539.7 L1223.3 1439.7Z" fill="#3700ff"/>
<path d="M1236.6 1479.7 C1238.2 1478.5 1243.4 1474.4 1246 1472.4 C1248.6 1470.3 1249.4 1469.5 1252.3 1467.4 C1255.2 1465.3 1261.5 1461 1263.3 1459.7 L1389.9 1439.7 L1389.9 1539.7 L1223.3 1539.7Z" fill="#800080"/>
<path d="M1269.9 1208.2 C1272.4 1207.4 1279.4 1205.2 1284.9 1203.2 C1290.5 1201.3 1296.9 1199.1 1303.3 1196.6 C1309.6 1194.1 1316.6 1191 1323.2 1188.2 C1329.9 1185.5 1336.6 1182.2 1343.2 1179.9 C1349.9 1177.6 1356.6 1175.5 1363.2 1174.2 C1369.9 1173 1376.5 1172.6 1383.2 1172.6 C1389.9 1172.5 1397.1 1173.1 1403.2 1173.9 C1409.3 1174.7 1413.9 1175.6 1419.8 1177.2 C1425.8 1178.9 1432.7 1181.2 1439.2 1183.6 C1445.7 1186 1452.3 1189.2 1458.8 1191.6 C1465.3 1194 1471.6 1196 1478.1 1197.9 C1484.6 1199.8 1491.3 1201.9 1497.8 1203.2 C1504.3 1204.6 1510.7 1204.6 1517.1 1205.9 C1523.6 1207.2 1531 1209.2 1536.4 1210.9 C1541.9 1212.6 1546.3 1214.9 1549.8 1216.2 C1553.3 1217.5 1555.3 1217.6 1557.4 1218.9 C1559.6 1220.2 1560.8 1221.5 1562.8 1223.9 C1564.7 1226.2 1567 1229.8 1569.1 1232.9 C1571.2 1235.9 1573.2 1238.9 1575.4 1242.2 C1577.6 1245.5 1579.9 1249.3 1582.1 1252.5 C1584.2 1255.7 1586.8 1259.2 1588.4 1261.5 C1590 1263.8 1589.8 1263.7 1591.7 1266.2 C1593.6 1268.7 1598.4 1274.8 1599.7 1276.5 L1623 1273.2 L1623 1040 L1223.3 1040 L1223.3 1213.2Z" fill="#ff0000"/>
<path d="M1289.9 1144.9 C1292.4 1144.1 1299.4 1141.3 1304.9 1139.9 C1310.5 1138.5 1316.3 1137.5 1323.2 1136.6 C1330.2 1135.7 1338.8 1134.7 1346.6 1134.3 C1354.3 1133.9 1362.1 1133.9 1369.9 1134.3 C1377.7 1134.7 1385.4 1135.4 1393.2 1136.6 C1401 1137.8 1408.7 1139.7 1416.5 1141.6 C1424.3 1143.5 1432.1 1145.7 1439.8 1148.3 C1447.6 1150.9 1455.4 1153.9 1463.2 1157.3 C1470.9 1160.6 1479.3 1165 1486.5 1168.2 C1493.7 1171.5 1500.3 1174.6 1506.5 1176.6 C1512.6 1178.5 1517.6 1179.1 1523.1 1179.9 C1528.7 1180.7 1537 1181.3 1539.8 1181.6 L1623 1173.2 L1623 1040 L1223.3 1040 L1223.3 1146.6Z" fill="#e60000"/>
<path d="M1299.9 1123.3 C1302.4 1122.7 1309.4 1120.9 1314.9 1119.9 C1320.5 1118.9 1326.3 1117.9 1333.2 1117.3 C1340.2 1116.6 1348.8 1115.9 1356.6 1115.9 C1364.3 1115.9 1372.1 1116.3 1379.9 1117.3 C1387.6 1118.2 1396 1119.9 1403.2 1121.6 C1410.4 1123.3 1416.5 1125.1 1423.2 1127.3 C1429.8 1129.5 1436.5 1132.3 1443.2 1134.9 C1449.8 1137.6 1456.5 1140.5 1463.2 1143.3 C1469.8 1146 1477.6 1150.2 1483.1 1151.6 C1488.7 1153 1492 1152.4 1496.5 1151.6 C1500.9 1150.8 1507.6 1147.4 1509.8 1146.6 L1623 1139.9 L1623 1040 L1223.3 1040 L1223.3 1126.6Z" fill="#b2001e"/>
<pattern id="m14" width="1" height="1" patternUnits="userSpaceOnUse" patternTransform="matrix(9 1.5 1.5 -9.5 0 0)"><path d="M0 0H1M0 0V1" stroke="#3a3000" stroke-opacity="0.14" stroke-width="0.11" fill="none"/></pattern><rect x="1240.3" y="1077.3" width="355.4" height="441.7" fill="url(#m14)"/>
</g>
<polyline points="1211,1030 1245,1545 1691.5,1684 1953,1477.5" fill="none" stroke="#000" stroke-width="2.6" stroke-linejoin="round"/>
<line x1="1217.5" y1="1127.5" x2="1208.5" y2="1130.5" stroke="#000" stroke-width="2.2"/>
<text transform="matrix(0.946 -0.326 0.241 1.369 1182.5 1157)" font-size="32" text-anchor="middle" font-weight="bold">0.4</text>
<line x1="1225" y1="1252.5" x2="1216" y2="1255.5" stroke="#000" stroke-width="2.2"/>
<text transform="matrix(0.946 -0.326 0.241 1.369 1191 1282)" font-size="32" text-anchor="middle" font-weight="bold">0.3</text>
<line x1="1234" y1="1373" x2="1225" y2="1376" stroke="#000" stroke-width="2.2"/>
<text transform="matrix(0.946 -0.326 0.241 1.369 1200 1404)" font-size="32" text-anchor="middle" font-weight="bold">0.2</text>
<line x1="1241.5" y1="1490" x2="1232.5" y2="1493" stroke="#000" stroke-width="2.2"/>
<text transform="matrix(0.946 -0.326 0.241 1.369 1207 1522)" font-size="32" text-anchor="middle" font-weight="bold">0.1</text>
<line x1="1245" y1="1545" x2="1238" y2="1550" stroke="#000" stroke-width="2.2"/>
<text transform="matrix(0.812 -0.584 0.951 0.309 1221 1568.5)" font-size="39.5" text-anchor="middle" font-weight="bold">950</text>
<line x1="1322.7" y1="1569.2" x2="1315.7" y2="1574.2" stroke="#000" stroke-width="2.2"/>
<text transform="matrix(0.812 -0.584 0.951 0.309 1296 1601)" font-size="39.5" text-anchor="middle" font-weight="bold">1000</text>
<line x1="1408.9" y1="1596" x2="1401.9" y2="1601" stroke="#000" stroke-width="2.2"/>
<text transform="matrix(0.812 -0.584 0.951 0.309 1383.5 1628.5)" font-size="39.5" text-anchor="middle" font-weight="bold">1050</text>
<line x1="1500" y1="1624.4" x2="1493" y2="1629.4" stroke="#000" stroke-width="2.2"/>
<text transform="matrix(0.812 -0.584 0.951 0.309 1471 1656)" font-size="39.5" text-anchor="middle" font-weight="bold">1100</text>
<line x1="1592.4" y1="1653.1" x2="1585.4" y2="1658.1" stroke="#000" stroke-width="2.2"/>
<text transform="matrix(0.812 -0.584 0.951 0.309 1566 1686)" font-size="39.5" text-anchor="middle" font-weight="bold">1150</text>
<line x1="1691.5" y1="1684" x2="1684.5" y2="1689" stroke="#000" stroke-width="2.2"/>
<text transform="matrix(0.812 -0.584 0.951 0.309 1668.5 1721)" font-size="39.5" text-anchor="middle" font-weight="bold">1200</text>
<line x1="1283.8" y1="1557.1" x2="1279.8" y2="1560.1" stroke="#000" stroke-width="2"/>
<line x1="1365.6" y1="1582.5" x2="1361.6" y2="1585.5" stroke="#000" stroke-width="2"/>
<line x1="1454.4" y1="1610.2" x2="1450.4" y2="1613.2" stroke="#000" stroke-width="2"/>
<line x1="1546.4" y1="1638.8" x2="1542.4" y2="1641.8" stroke="#000" stroke-width="2"/>
<line x1="1641.9" y1="1668.6" x2="1637.9" y2="1671.6" stroke="#000" stroke-width="2"/>
<line x1="1734" y1="1650.4" x2="1742" y2="1653.4" stroke="#000" stroke-width="2.2"/>
<text transform="matrix(0.959 0.284 -0.797 0.460 1758 1670)" font-size="38" text-anchor="middle" font-weight="bold">−6</text>
<line x1="1773.1" y1="1619.6" x2="1781.1" y2="1622.6" stroke="#000" stroke-width="2.2"/>
<text transform="matrix(0.959 0.284 -0.797 0.460 1795.5 1636)" font-size="38" text-anchor="middle" font-weight="bold">−5</text>
<line x1="1813.9" y1="1587.4" x2="1821.9" y2="1590.4" stroke="#000" stroke-width="2.2"/>
<text transform="matrix(0.959 0.284 -0.797 0.460 1835.5 1605)" font-size="38" text-anchor="middle" font-weight="bold">−4</text>
<line x1="1852.1" y1="1557.2" x2="1860.1" y2="1560.2" stroke="#000" stroke-width="2.2"/>
<text transform="matrix(0.959 0.284 -0.797 0.460 1870.5 1575)" font-size="38" text-anchor="middle" font-weight="bold">−3</text>
<line x1="1885.5" y1="1530.8" x2="1893.5" y2="1533.8" stroke="#000" stroke-width="2.2"/>
<text transform="matrix(0.959 0.284 -0.797 0.460 1905.5 1545)" font-size="38" text-anchor="middle" font-weight="bold">−2</text>
<line x1="1918" y1="1505.2" x2="1926" y2="1508.2" stroke="#000" stroke-width="2.2"/>
<text transform="matrix(0.959 0.284 -0.797 0.460 1938 1517.5)" font-size="38" text-anchor="middle" font-weight="bold">−1</text>
<line x1="1953" y1="1477.5" x2="1961" y2="1480.5" stroke="#000" stroke-width="2.2"/>
<text transform="matrix(0.959 0.284 -0.797 0.460 1974.5 1487)" font-size="38" text-anchor="middle" font-weight="bold">0</text>
<line x1="1712.7" y1="1667.3" x2="1716.7" y2="1668.8" stroke="#000" stroke-width="2"/>
<line x1="1753.5" y1="1635.1" x2="1757.5" y2="1636.6" stroke="#000" stroke-width="2"/>
<line x1="1793.5" y1="1603.5" x2="1797.5" y2="1605" stroke="#000" stroke-width="2"/>
<line x1="1833" y1="1572.3" x2="1837" y2="1573.8" stroke="#000" stroke-width="2"/>
<line x1="1868.8" y1="1544" x2="1872.8" y2="1545.5" stroke="#000" stroke-width="2"/>
<line x1="1901.7" y1="1518" x2="1905.7" y2="1519.5" stroke="#000" stroke-width="2"/>
<line x1="1935.5" y1="1491.3" x2="1939.5" y2="1492.8" stroke="#000" stroke-width="2"/>
<text transform="matrix(0.950 0.312 -0.780 0.488 1158.5 1625)" font-size="57.3" font-weight="bold">Temperature/°C</text>
<text transform="matrix(0.743 -0.669 1.281 0.392 1953 1601.5)" font-size="44" text-anchor="middle" font-weight="bold">lnε<tspan dx="-0.62em" dy="-0.28em" font-size="0.6em">˙</tspan></text>
<text transform="matrix(0.000 1.000 -1.000 -0.000 1106 1326)" font-size="66" font-weight="bold">η</text>
<rect x="2004" y="980" width="46.5" height="54" fill="#7c0036"/>
<rect x="2004" y="1033.5" width="46.5" height="53" fill="#b2001e"/>
<rect x="2004" y="1086" width="46.5" height="53.5" fill="#e60000"/>
<rect x="2004" y="1139" width="46.5" height="52.5" fill="#ff0000"/>
<rect x="2004" y="1191" width="46.5" height="53.5" fill="#f8ae1a"/>
<rect x="2004" y="1244" width="46.5" height="53" fill="#ebe010"/>
<rect x="2004" y="1296.5" width="46.5" height="54" fill="#ffff00"/>
<rect x="2004" y="1350" width="46.5" height="53" fill="#00f000"/>
<rect x="2004" y="1402.5" width="46.5" height="53" fill="#00dcff"/>
<rect x="2004" y="1455" width="46.5" height="53" fill="#3700ff"/>
<rect x="2004" y="1507.5" width="46.5" height="53" fill="#800080"/>
<rect x="2004" y="1560" width="46.5" height="54" fill="#000000"/>
<rect x="2004" y="980" width="46.5" height="633.5" fill="none" stroke="#222" stroke-width="1.5"/>
<line x1="2050.5" y1="1033.5" x2="2064.5" y2="1033.5" stroke="#000" stroke-width="2"/>
<line x1="2050.5" y1="1092.5" x2="2064.5" y2="1092.5" stroke="#000" stroke-width="2"/>
<line x1="2050.5" y1="1167.5" x2="2064.5" y2="1167.5" stroke="#000" stroke-width="2"/>
<line x1="2050.5" y1="1244" x2="2064.5" y2="1244" stroke="#000" stroke-width="2"/>
<line x1="2050.5" y1="1296.5" x2="2064.5" y2="1296.5" stroke="#000" stroke-width="2"/>
<line x1="2050.5" y1="1350" x2="2064.5" y2="1350" stroke="#000" stroke-width="2"/>
<line x1="2050.5" y1="1402.5" x2="2064.5" y2="1402.5" stroke="#000" stroke-width="2"/>
<line x1="2050.5" y1="1455" x2="2064.5" y2="1455" stroke="#000" stroke-width="2"/>
<line x1="2050.5" y1="1507.5" x2="2064.5" y2="1507.5" stroke="#000" stroke-width="2"/>
<line x1="2050.5" y1="1560" x2="2064.5" y2="1560" stroke="#000" stroke-width="2"/>
<line x1="2050.5" y1="1046.6" x2="2057.5" y2="1046.6" stroke="#000" stroke-width="1.6"/>
<line x1="2050.5" y1="1059.8" x2="2057.5" y2="1059.8" stroke="#000" stroke-width="1.6"/>
<line x1="2050.5" y1="1072.9" x2="2057.5" y2="1072.9" stroke="#000" stroke-width="1.6"/>
<line x1="2050.5" y1="1099.2" x2="2057.5" y2="1099.2" stroke="#000" stroke-width="1.6"/>
<line x1="2050.5" y1="1112.5" x2="2057.5" y2="1112.5" stroke="#000" stroke-width="1.6"/>
<line x1="2050.5" y1="1125.8" x2="2057.5" y2="1125.8" stroke="#000" stroke-width="1.6"/>
<line x1="2050.5" y1="1152" x2="2057.5" y2="1152" stroke="#000" stroke-width="1.6"/>
<line x1="2050.5" y1="1165" x2="2057.5" y2="1165" stroke="#000" stroke-width="1.6"/>
<line x1="2050.5" y1="1178" x2="2057.5" y2="1178" stroke="#000" stroke-width="1.6"/>
<line x1="2050.5" y1="1204.2" x2="2057.5" y2="1204.2" stroke="#000" stroke-width="1.6"/>
<line x1="2050.5" y1="1217.5" x2="2057.5" y2="1217.5" stroke="#000" stroke-width="1.6"/>
<line x1="2050.5" y1="1230.8" x2="2057.5" y2="1230.8" stroke="#000" stroke-width="1.6"/>
<line x1="2050.5" y1="1257.1" x2="2057.5" y2="1257.1" stroke="#000" stroke-width="1.6"/>
<line x1="2050.5" y1="1270.2" x2="2057.5" y2="1270.2" stroke="#000" stroke-width="1.6"/>
<line x1="2050.5" y1="1283.4" x2="2057.5" y2="1283.4" stroke="#000" stroke-width="1.6"/>
<line x1="2050.5" y1="1309.9" x2="2057.5" y2="1309.9" stroke="#000" stroke-width="1.6"/>
<line x1="2050.5" y1="1323.2" x2="2057.5" y2="1323.2" stroke="#000" stroke-width="1.6"/>
<line x1="2050.5" y1="1336.6" x2="2057.5" y2="1336.6" stroke="#000" stroke-width="1.6"/>
<line x1="2050.5" y1="1363.1" x2="2057.5" y2="1363.1" stroke="#000" stroke-width="1.6"/>
<line x1="2050.5" y1="1376.2" x2="2057.5" y2="1376.2" stroke="#000" stroke-width="1.6"/>
<line x1="2050.5" y1="1389.4" x2="2057.5" y2="1389.4" stroke="#000" stroke-width="1.6"/>
<line x1="2050.5" y1="1415.6" x2="2057.5" y2="1415.6" stroke="#000" stroke-width="1.6"/>
<line x1="2050.5" y1="1428.8" x2="2057.5" y2="1428.8" stroke="#000" stroke-width="1.6"/>
<line x1="2050.5" y1="1441.9" x2="2057.5" y2="1441.9" stroke="#000" stroke-width="1.6"/>
<line x1="2050.5" y1="1468.1" x2="2057.5" y2="1468.1" stroke="#000" stroke-width="1.6"/>
<line x1="2050.5" y1="1481.2" x2="2057.5" y2="1481.2" stroke="#000" stroke-width="1.6"/>
<line x1="2050.5" y1="1494.4" x2="2057.5" y2="1494.4" stroke="#000" stroke-width="1.6"/>
<line x1="2050.5" y1="1520.6" x2="2057.5" y2="1520.6" stroke="#000" stroke-width="1.6"/>
<line x1="2050.5" y1="1533.8" x2="2057.5" y2="1533.8" stroke="#000" stroke-width="1.6"/>
<line x1="2050.5" y1="1546.9" x2="2057.5" y2="1546.9" stroke="#000" stroke-width="1.6"/>
<text transform="translate(2082 1052)" font-size="52" font-weight="bold">0.46</text>
<text transform="translate(2082 1110)" font-size="52" font-weight="bold">0.42</text>
<text transform="translate(2082 1187)" font-size="52" font-weight="bold">0.37</text>
<text transform="translate(2082 1262)" font-size="52" font-weight="bold">0.33</text>
<text transform="translate(2082 1315)" font-size="52" font-weight="bold">0.28</text>
<text transform="translate(2082 1370)" font-size="52" font-weight="bold">0.24</text>
<text transform="translate(2082 1420)" font-size="52" font-weight="bold">0.20</text>
<text transform="translate(2082 1473.5)" font-size="52" font-weight="bold">0.15</text>
<text transform="translate(2082 1525)" font-size="52" font-weight="bold">0.11</text>
<text transform="translate(2082 1578.5)" font-size="52" font-weight="bold">0.062</text>
<text transform="translate(2025.5 955)" font-size="62" text-anchor="middle" font-weight="bold" font-style="italic">η</text>
<text transform="translate(1237.5 1025)" font-size="98">(f)</text>
<text transform="translate(1410 1039) scale(0.992 1)" font-size="70">Strain = 0.5</text>
</g>
<g id="pg">
<polyline points="1198,1955 1525.9,1816.8 1961.6,1873.3" fill="none" stroke="#d2d2d2" stroke-width="1.15" stroke-linejoin="round"/>
<polyline points="1208.7,2044 1530.7,1894.6 1960.9,1958.9" fill="none" stroke="#d2d2d2" stroke-width="1.15" stroke-linejoin="round"/>
<polyline points="1219.1,2131 1535.3,1970.8 1960.2,2042.6" fill="none" stroke="#d2d2d2" stroke-width="1.15" stroke-linejoin="round"/>
<polyline points="1228.9,2212.5 1539.6,2042.1 1959.6,2121" fill="none" stroke="#d2d2d2" stroke-width="1.15" stroke-linejoin="round"/>
<polyline points="1238.5,2292.5 1543.8,2112.1 1958.9,2197.9" fill="none" stroke="#d2d2d2" stroke-width="1.15" stroke-linejoin="round"/>
<polyline points="1247.8,2370 1547.9,2179.9 1958.3,2272.5" fill="none" stroke="#d2d2d2" stroke-width="1.15" stroke-linejoin="round"/>
<line x1="1246.1" y1="1887.5" x2="1300.7" y2="2377.4" stroke="#d2d2d2" stroke-width="1.15"/>
<line x1="1300.1" y1="1865.9" x2="1349.2" y2="2345.6" stroke="#d2d2d2" stroke-width="1.15"/>
<line x1="1350.1" y1="1845.9" x2="1394.1" y2="2316.2" stroke="#d2d2d2" stroke-width="1.15"/>
<line x1="1397.4" y1="1827" x2="1436.7" y2="2288.3" stroke="#d2d2d2" stroke-width="1.15"/>
<line x1="1442.4" y1="1809" x2="1477.1" y2="2261.8" stroke="#d2d2d2" stroke-width="1.15"/>
<line x1="1484.1" y1="1792.3" x2="1514.6" y2="2237.2" stroke="#d2d2d2" stroke-width="1.15"/>
<line x1="1603.3" y1="1786.1" x2="1624.3" y2="2231.5" stroke="#d2d2d2" stroke-width="1.15"/>
<line x1="1685.7" y1="1795.9" x2="1701" y2="2249.5" stroke="#d2d2d2" stroke-width="1.15"/>
<line x1="1774.3" y1="1806.5" x2="1783.4" y2="2268.9" stroke="#d2d2d2" stroke-width="1.15"/>
<line x1="1867.3" y1="1817.7" x2="1869.9" y2="2289.3" stroke="#d2d2d2" stroke-width="1.15"/>
<polyline points="1192.5,1909 1523.5,1776.5 1962,1829 1958,2310" fill="none" stroke="#3a3a3a" stroke-width="1.3" stroke-linejoin="round"/>
<line x1="1523.5" y1="1776.5" x2="1550" y2="2214" stroke="#3a3a3a" stroke-width="1.3"/>
<clipPath id="c15"><polygon points="1252.5,2409 1550,2214 1958,2310 1695.5,2548.5"/></clipPath>
<g clip-path="url(#c15)">
<rect x="1250.5" y="2212" width="709.5" height="338.5" fill="#ffff00"/>
<path d="M1473.2 2253.3 C1474.3 2254.7 1476.5 2258.3 1479.8 2261.6 C1483.1 2265 1490.4 2269.1 1493.1 2273.3 C1495.9 2277.4 1497 2282.7 1496.5 2286.6 C1495.9 2290.5 1493.1 2293.3 1489.8 2296.6 C1486.5 2299.9 1480.4 2302.7 1476.5 2306.6 C1472.6 2310.5 1469.3 2314.9 1466.5 2319.9 C1463.7 2324.9 1460.4 2331 1459.8 2336.6 C1459.3 2342.1 1460.4 2347.7 1463.2 2353.2 C1465.9 2358.8 1471.5 2365.4 1476.5 2369.9 C1481.5 2374.3 1487 2376.8 1493.1 2379.9 C1499.2 2382.9 1505.4 2386 1513.1 2388.2 C1520.9 2390.4 1530.9 2391.8 1539.8 2393.2 C1548.7 2394.6 1557.5 2394.9 1566.4 2396.5 C1575.3 2398.2 1584.2 2400.4 1593.1 2403.2 C1602 2406 1611.9 2409.3 1619.7 2413.2 C1627.5 2417.1 1634.2 2421.5 1639.7 2426.5 C1645.3 2431.5 1649.4 2437.1 1653 2443.2 C1656.6 2449.3 1659.4 2455.9 1661.4 2463.2 C1663.3 2470.4 1664.3 2478.7 1664.7 2486.5 C1665.1 2494.2 1664.2 2503.1 1663.7 2509.8 C1663.1 2516.4 1662 2520.9 1661.4 2526.4 C1660.7 2532 1660 2540.3 1659.7 2543.1 L1466.5 2556.4 L1233.3 2456.5 L1233.3 2356.6 L1433.2 2256.6Z" fill="#ebe010"/>
<path d="M1613.3 2226.6 C1607.7 2223.9 1606 2235.5 1599.9 2240 C1593.8 2244.4 1583.8 2249.7 1576.6 2253.3 C1569.4 2256.9 1561.1 2258.3 1556.6 2261.6 C1552.2 2265 1550.5 2269.7 1550 2273.3 C1549.4 2276.9 1550.5 2280.9 1553.3 2283.3 C1556.1 2285.6 1558.8 2286.4 1566.6 2287.3 C1574.4 2288.2 1588.8 2288.2 1599.9 2288.6 C1611 2289 1623.8 2288 1633.2 2289.9 C1642.7 2291.8 1648.8 2295.5 1656.6 2299.9 C1664.3 2304.4 1671.6 2311.6 1679.9 2316.6 C1688.2 2321.6 1697.6 2326 1706.5 2329.9 C1715.4 2333.8 1723.2 2336 1733.2 2339.9 C1743.2 2343.8 1755.4 2348.2 1766.5 2353.2 C1777.6 2358.2 1788.7 2364.3 1799.8 2369.9 C1810.9 2375.4 1823.1 2382.1 1833.1 2386.5 C1843.1 2391 1851.4 2398.2 1859.8 2396.5 C1868.1 2394.9 1887.5 2384.3 1883.1 2376.5 C1878.6 2368.8 1852.5 2359.9 1833.1 2349.9 C1813.7 2339.9 1788.7 2327.1 1766.5 2316.6 C1744.3 2306 1722.1 2296.6 1699.9 2286.6 C1677.7 2276.6 1647.7 2266.6 1633.2 2256.6 C1618.8 2246.6 1618.8 2229.4 1613.3 2226.6Z" fill="#ebe010"/>
<path d="M1349.9 2336.6 C1349.6 2338.2 1349.1 2341 1348.2 2346.6 C1347.4 2352.1 1346.8 2362.1 1344.9 2369.9 C1343 2377.7 1339.6 2386 1336.6 2393.2 C1333.5 2400.4 1330.2 2407.4 1326.6 2413.2 C1323 2419 1317.7 2424.3 1314.9 2428.2 C1312.1 2432.1 1310.8 2435.1 1309.9 2436.5 L1233.3 2439.8 L1233.3 2339.9Z" fill="#ffff00"/>
<path d="M1325.9 2354.9 C1325.6 2356.2 1324.9 2357.8 1323.9 2362.6 C1322.9 2367.3 1322.3 2376.4 1319.9 2383.2 C1317.6 2390 1313.8 2396.6 1309.9 2403.2 C1306 2409.7 1299.4 2418.1 1296.6 2422.5 C1293.8 2427 1293.8 2428.6 1293.3 2429.8 L1233.3 2439.8 L1233.3 2339.9Z" fill="#00f000"/>
<path d="M1314.9 2361.6 C1314.6 2362.9 1314.4 2364.8 1313.3 2369.5 C1312.1 2374.3 1310.8 2383.7 1308.3 2389.9 C1305.8 2396 1301.6 2401.5 1298.3 2406.5 C1294.9 2411.5 1290.5 2416.5 1288.3 2419.8 C1286.1 2423.2 1285.5 2425.4 1284.9 2426.5 L1233.3 2439.8 L1233.3 2339.9Z" fill="#00dcff"/>
<path d="M1306.6 2366.5 C1306.3 2367.9 1305.8 2370.4 1304.9 2374.9 C1304.1 2379.3 1303.8 2387.6 1301.6 2393.2 C1299.4 2398.7 1294.9 2404.1 1291.6 2408.2 C1288.3 2412.3 1283.8 2415.3 1281.6 2417.8 C1279.4 2420.3 1278.8 2422.3 1278.3 2423.2 L1233.3 2439.8 L1233.3 2339.9Z" fill="#3700ff"/>
<path d="M1306.6 2433.2 C1308 2432.2 1311.6 2429.4 1314.9 2427.2 C1318.3 2425 1321.9 2422.7 1326.6 2419.8 C1331.3 2417 1337.1 2413.1 1343.2 2409.9 C1349.3 2406.6 1356.6 2403 1363.2 2400.5 C1369.9 2398 1376.5 2396.2 1383.2 2394.9 C1389.9 2393.5 1396 2392.7 1403.2 2392.5 C1410.4 2392.4 1418.7 2392.9 1426.5 2393.9 C1434.3 2394.8 1442.6 2396.4 1449.8 2398.2 C1457.1 2400 1463.7 2402.6 1469.8 2404.9 C1475.9 2407.1 1480.9 2409.3 1486.5 2411.5 C1492 2413.7 1497.6 2416.5 1503.1 2418.2 C1508.7 2419.8 1513.7 2420.4 1519.8 2421.5 C1525.9 2422.6 1533.1 2423.3 1539.8 2424.8 C1546.4 2426.3 1553.7 2428.6 1559.8 2430.5 C1565.9 2432.4 1571.4 2433.8 1576.4 2436.5 C1581.4 2439.2 1585.3 2442.3 1589.7 2446.5 C1594.2 2450.7 1599.2 2455.9 1603.1 2461.5 C1607 2467 1610.3 2473.4 1613.1 2479.8 C1615.8 2486.2 1618.2 2493.7 1619.7 2499.8 C1621.3 2505.9 1622.1 2512.4 1622.4 2516.4 C1622.7 2520.5 1621.8 2521.3 1621.4 2524.1 C1620.9 2526.9 1620 2531.6 1619.7 2533.1 L1466.5 2556.4 L1299.9 2456.5Z" fill="#ff0000"/><path d="M1306.6 2433.2 C1308 2432.2 1311.6 2429.4 1314.9 2427.2 C1318.3 2425 1321.9 2422.7 1326.6 2419.8 C1331.3 2417 1337.1 2413.1 1343.2 2409.9 C1349.3 2406.6 1356.6 2403 1363.2 2400.5 C1369.9 2398 1376.5 2396.2 1383.2 2394.9 C1389.9 2393.5 1396 2392.7 1403.2 2392.5 C1410.4 2392.4 1418.7 2392.9 1426.5 2393.9 C1434.3 2394.8 1442.6 2396.4 1449.8 2398.2 C1457.1 2400 1463.7 2402.6 1469.8 2404.9 C1475.9 2407.1 1480.9 2409.3 1486.5 2411.5 C1492 2413.7 1497.6 2416.5 1503.1 2418.2 C1508.7 2419.8 1513.7 2420.4 1519.8 2421.5 C1525.9 2422.6 1533.1 2423.3 1539.8 2424.8 C1546.4 2426.3 1553.7 2428.6 1559.8 2430.5 C1565.9 2432.4 1571.4 2433.8 1576.4 2436.5 C1581.4 2439.2 1585.3 2442.3 1589.7 2446.5 C1594.2 2450.7 1599.2 2455.9 1603.1 2461.5 C1607 2467 1610.3 2473.4 1613.1 2479.8 C1615.8 2486.2 1618.2 2493.7 1619.7 2499.8 C1621.3 2505.9 1622.1 2512.4 1622.4 2516.4 C1622.7 2520.5 1621.8 2521.3 1621.4 2524.1 C1620.9 2526.9 1620 2531.6 1619.7 2533.1" fill="none" stroke="#000" stroke-width="3" stroke-linejoin="round" stroke-linecap="round"/>
<path d="M1333.2 2443.2 C1334.9 2442.1 1337.7 2439.8 1343.2 2436.5 C1348.8 2433.2 1358.8 2426.2 1366.6 2423.2 C1374.3 2420.1 1381.5 2418.7 1389.9 2418.2 C1398.2 2417.6 1407.6 2418.5 1416.5 2419.8 C1425.4 2421.2 1434.3 2423.7 1443.2 2426.5 C1452.1 2429.3 1460.9 2432.9 1469.8 2436.5 C1478.7 2440.1 1487.6 2444.3 1496.5 2448.2 C1505.4 2452 1514.8 2455.7 1523.1 2459.8 C1531.4 2464 1539.2 2468.7 1546.4 2473.1 C1553.7 2477.6 1560.9 2482 1566.4 2486.5 C1572 2490.9 1576.4 2495.4 1579.7 2499.8 C1583.1 2504.2 1585 2509.2 1586.4 2513.1 C1587.8 2517 1587.8 2521.4 1588.1 2523.1 L1466.5 2556.4 L1299.9 2456.5Z" fill="#e00000"/>
<path d="M1399.9 2459.8 C1402.1 2459.3 1407.6 2457.6 1413.2 2456.5 C1418.7 2455.4 1426.5 2453.2 1433.2 2453.2 C1439.8 2453.2 1446.5 2454.5 1453.2 2456.5 C1459.8 2458.4 1466.5 2461.5 1473.2 2464.8 C1479.8 2468.1 1487.6 2472.9 1493.1 2476.5 C1498.7 2480.1 1504.2 2484.8 1506.5 2486.5 L1466.5 2523.1 L1366.6 2473.1Z" fill="#c40000"/>
<path d="M1363.2 2329.9 C1364.1 2330.5 1366 2332 1368.2 2333.2 C1370.4 2334.5 1372.9 2336.1 1376.5 2337.2 C1380.2 2338.3 1385.4 2339.7 1389.9 2339.9 C1394.3 2340.1 1398.8 2339.3 1403.2 2338.2 C1407.6 2337.1 1412.1 2335.5 1416.5 2333.2 C1421 2331 1426 2328.2 1429.8 2324.9 C1433.7 2321.6 1436.8 2317.4 1439.8 2313.3 C1442.9 2309.1 1445.7 2304.4 1448.2 2299.9 C1450.7 2295.5 1452.9 2291 1454.8 2286.6 C1456.8 2282.2 1458.7 2276.9 1459.8 2273.3 C1460.9 2269.7 1461.2 2266.3 1461.5 2265 L1399.9 2273.3 L1349.9 2323.2Z" fill="#ff0000"/><path d="M1363.2 2329.9 C1364.1 2330.5 1366 2332 1368.2 2333.2 C1370.4 2334.5 1372.9 2336.1 1376.5 2337.2 C1380.2 2338.3 1385.4 2339.7 1389.9 2339.9 C1394.3 2340.1 1398.8 2339.3 1403.2 2338.2 C1407.6 2337.1 1412.1 2335.5 1416.5 2333.2 C1421 2331 1426 2328.2 1429.8 2324.9 C1433.7 2321.6 1436.8 2317.4 1439.8 2313.3 C1442.9 2309.1 1445.7 2304.4 1448.2 2299.9 C1450.7 2295.5 1452.9 2291 1454.8 2286.6 C1456.8 2282.2 1458.7 2276.9 1459.8 2273.3 C1460.9 2269.7 1461.2 2266.3 1461.5 2265" fill="none" stroke="#000" stroke-width="3" stroke-linejoin="round" stroke-linecap="round"/>
<path d="M1493.3 2243.3 C1494.7 2243.7 1497.2 2244.6 1501.7 2246 C1506.1 2247.4 1513 2250.8 1520 2251.6 C1526.9 2252.4 1535.5 2252.3 1543.3 2250.6 C1551.1 2249 1560 2244.8 1566.6 2241.6 C1573.3 2238.5 1578.8 2234.6 1583.3 2231.6 C1587.7 2228.7 1590.8 2226.2 1593.3 2224 C1595.8 2221.8 1597.4 2219.3 1598.3 2218.3 L1550 2200 L1483.3 2230Z" fill="#00f000"/>
<path d="M1505 2236.6 C1506.1 2237.1 1508.1 2238.4 1511.7 2239.6 C1515.3 2240.9 1520.3 2243.6 1526.6 2244 C1533 2244.3 1542.7 2243.4 1550 2241.6 C1557.2 2239.9 1563.7 2236.5 1570 2233.3 C1576.2 2230.1 1583.7 2225.3 1587.3 2222.6 C1590.9 2220 1590.9 2218.2 1591.6 2217.3 L1550 2200 L1500 2226.6Z" fill="#00dcff"/>
<path d="M1513.3 2231.3 C1514.4 2231.7 1517.2 2233.1 1520 2234 C1522.8 2234.9 1525 2236.5 1530 2236.6 C1535 2236.8 1543.9 2236.4 1550 2235 C1556.1 2233.6 1561.3 2230.6 1566.6 2228.3 C1571.9 2226 1578.4 2223.4 1581.6 2221.3 C1584.8 2219.3 1585.2 2216.9 1585.9 2216 L1550 2200 L1510 2223.3Z" fill="#3700ff"/>
<path d="M1619.9 2223.3 C1619.5 2224.3 1618.6 2227.1 1617.3 2229.3 C1615.9 2231.5 1613.1 2233.7 1611.6 2236.6 C1610.1 2239.5 1608.5 2243.6 1608.3 2246.6 C1608 2249.7 1608.5 2252.7 1609.9 2255 C1611.3 2257.2 1613.3 2258.8 1616.6 2260 C1619.9 2261.1 1625.5 2260.8 1629.9 2261.6 C1634.4 2262.5 1638.2 2263.3 1643.2 2265 C1648.2 2266.6 1654.3 2269.1 1659.9 2271.6 C1665.4 2274.1 1671 2277.4 1676.5 2279.9 C1682.1 2282.4 1687.1 2284.4 1693.2 2286.6 C1699.3 2288.8 1706.5 2290.8 1713.2 2293.3 C1719.9 2295.8 1726.5 2298.8 1733.2 2301.6 C1739.8 2304.4 1746.5 2306.9 1753.2 2309.9 C1759.8 2313 1766.5 2316.6 1773.2 2319.9 C1779.8 2323.2 1786.5 2326.6 1793.1 2329.9 C1799.8 2333.2 1806.5 2336.6 1813.1 2339.9 C1819.8 2343.2 1826.4 2346.6 1833.1 2349.9 C1839.8 2353.2 1847 2356.8 1853.1 2359.9 C1859.2 2362.9 1864.2 2365.7 1869.8 2368.2 C1875.3 2370.7 1881.4 2372.9 1886.4 2374.9 C1891.4 2376.8 1897.5 2379 1899.7 2379.9 L1999.7 2323.2 L1966.4 2256.6 L1633.2 2206.7Z" fill="#ff0000"/><path d="M1619.9 2223.3 C1619.5 2224.3 1618.6 2227.1 1617.3 2229.3 C1615.9 2231.5 1613.1 2233.7 1611.6 2236.6 C1610.1 2239.5 1608.5 2243.6 1608.3 2246.6 C1608 2249.7 1608.5 2252.7 1609.9 2255 C1611.3 2257.2 1613.3 2258.8 1616.6 2260 C1619.9 2261.1 1625.5 2260.8 1629.9 2261.6 C1634.4 2262.5 1638.2 2263.3 1643.2 2265 C1648.2 2266.6 1654.3 2269.1 1659.9 2271.6 C1665.4 2274.1 1671 2277.4 1676.5 2279.9 C1682.1 2282.4 1687.1 2284.4 1693.2 2286.6 C1699.3 2288.8 1706.5 2290.8 1713.2 2293.3 C1719.9 2295.8 1726.5 2298.8 1733.2 2301.6 C1739.8 2304.4 1746.5 2306.9 1753.2 2309.9 C1759.8 2313 1766.5 2316.6 1773.2 2319.9 C1779.8 2323.2 1786.5 2326.6 1793.1 2329.9 C1799.8 2333.2 1806.5 2336.6 1813.1 2339.9 C1819.8 2343.2 1826.4 2346.6 1833.1 2349.9 C1839.8 2353.2 1847 2356.8 1853.1 2359.9 C1859.2 2362.9 1864.2 2365.7 1869.8 2368.2 C1875.3 2370.7 1881.4 2372.9 1886.4 2374.9 C1891.4 2376.8 1897.5 2379 1899.7 2379.9" fill="none" stroke="#000" stroke-width="3" stroke-linejoin="round" stroke-linecap="round"/>
<path d="M1733.2 2250 C1734.3 2251.3 1735.4 2254.4 1739.8 2258.3 C1744.3 2262.2 1752.1 2268.6 1759.8 2273.3 C1767.6 2278 1777.6 2282.2 1786.5 2286.6 C1795.4 2291 1804.2 2295.5 1813.1 2299.9 C1822 2304.4 1830.9 2308.8 1839.8 2313.3 C1848.7 2317.7 1857.5 2322.1 1866.4 2326.6 C1875.3 2331 1885.3 2336 1893.1 2339.9 C1900.8 2343.8 1907.5 2347.1 1913.1 2349.9 C1918.6 2352.7 1924.2 2355.4 1926.4 2356.6 L1999.7 2323.2 L1966.4 2256.6 L1733.2 2223.3Z" fill="#e00000"/>
<path d="M1809.8 2268.3 C1810.9 2269.4 1809.8 2270.8 1816.5 2274.9 C1823.1 2279.1 1838.7 2287.2 1849.8 2293.3 C1860.9 2299.4 1872 2305.5 1883.1 2311.6 C1894.2 2317.7 1908.6 2325.7 1916.4 2329.9 C1924.2 2334.1 1925.8 2334.6 1929.7 2336.6 C1933.6 2338.5 1938 2340.7 1939.7 2341.6 L1999.7 2323.2 L1966.4 2256.6 L1809.8 2240Z" fill="#b80000"/>
<path d="M1859.8 2279.9 C1860.9 2281.1 1862 2283.3 1866.4 2286.6 C1870.9 2289.9 1879.7 2295.5 1886.4 2299.9 C1893.1 2304.4 1899.7 2309.1 1906.4 2313.3 C1913.1 2317.4 1920.8 2322.4 1926.4 2324.9 C1931.9 2327.4 1935.8 2327.1 1939.7 2328.2 C1943.6 2329.4 1948 2331 1949.7 2331.6 L1999.7 2323.2 L1966.4 2273.3 L1859.8 2256.6Z" fill="#6a0000"/>
<path d="M1819.8 2443.2 C1818.1 2443.4 1814.2 2444.3 1809.8 2444.8 C1805.4 2445.4 1798.7 2445.1 1793.1 2446.5 C1787.6 2447.9 1782 2449.8 1776.5 2453.2 C1770.9 2456.5 1764.8 2461.5 1759.8 2466.5 C1754.8 2471.5 1750.1 2477.6 1746.5 2483.1 C1742.9 2488.7 1740.4 2494.5 1738.2 2499.8 C1736 2505.1 1734.6 2510.9 1733.2 2514.8 C1731.8 2518.7 1730.4 2521.7 1729.8 2523.1 L1799.8 2523.1 L1833.1 2456.5Z" fill="#00f000"/>
<pattern id="m16" width="1" height="1" patternUnits="userSpaceOnUse" patternTransform="matrix(8.9 2.8 6.8 -4.4 1252.5 2409)"><path d="M0 0H1M0 0V1" stroke="#3a3000" stroke-opacity="0.2" stroke-width="0.11" fill="none"/></pattern><rect x="1250.5" y="2212" width="709.5" height="338.5" fill="url(#m16)"/>
</g>
<g opacity="0.26"><line x1="1300.7" y1="2377.4" x2="1738" y2="2509.9" stroke="#fff" stroke-width="1.8"/><line x1="1349.2" y1="2345.6" x2="1777.9" y2="2473.6" stroke="#fff" stroke-width="1.8"/><line x1="1394.1" y1="2316.2" x2="1818.1" y2="2437.1" stroke="#fff" stroke-width="1.8"/><line x1="1436.7" y1="2288.3" x2="1855.6" y2="2403" stroke="#fff" stroke-width="1.8"/><line x1="1477.1" y1="2261.8" x2="1889" y2="2372.7" stroke="#fff" stroke-width="1.8"/><line x1="1514.6" y1="2237.2" x2="1923.1" y2="2341.7" stroke="#fff" stroke-width="1.8"/><line x1="1330.9" y1="2433.7" x2="1624.3" y2="2231.5" stroke="#fff" stroke-width="1.8"/><line x1="1416" y1="2460.5" x2="1701" y2="2249.5" stroke="#fff" stroke-width="1.8"/><line x1="1506.3" y1="2488.9" x2="1783.4" y2="2268.9" stroke="#fff" stroke-width="1.8"/><line x1="1599.4" y1="2518.2" x2="1869.9" y2="2289.3" stroke="#fff" stroke-width="1.8"/></g>
<polyline points="1252.5,2409 1550,2214 1958,2310" fill="none" stroke="#2a2a2a" stroke-width="1.3" stroke-linejoin="round"/>
<clipPath id="c17"><polygon points="1526.4,2116.5 1546.4,2154.8 1561.4,2119.9"/></clipPath>
<g clip-path="url(#c17)">
<rect x="1524.4" y="2114.5" width="39" height="42.3" fill="#3700ff"/>
<path d="M1533.1 2142.2 C1534.2 2142.1 1536.4 2141.6 1539.8 2141.5 C1543.1 2141.4 1549.8 2141.4 1553.1 2141.5 C1556.4 2141.6 1558.6 2142.1 1559.7 2142.2 L1559.7 2159.8 L1533.1 2159.8Z" fill="#800080"/>
</g>
<clipPath id="c18"><path d="M1353.4 1999.9 C1343.7 1994.6 1352.9 1998.5 1355.1 1994.9 C1357.3 1991.3 1362 1982.9 1366.7 1978.2 C1371.5 1973.5 1377.3 1969.3 1383.4 1966.6 C1389.5 1963.8 1397.3 1961.8 1403.4 1961.6 C1409.5 1961.3 1415 1963 1420 1964.9 C1425 1966.8 1430.3 1970.7 1433.4 1973.2 C1436.4 1975.7 1436.1 1977.1 1438.4 1979.9 C1440.6 1982.7 1443.6 1986.3 1446.7 1989.9 C1449.7 1993.5 1453.4 1997.9 1456.7 2001.5 C1460 2005.1 1462.8 2008.6 1466.7 2011.5 C1470.6 2014.5 1475 2017.1 1480 2019.2 C1485 2021.2 1491.1 2022.9 1496.7 2023.9 C1502.2 2024.9 1507.8 2025.5 1513.3 2025.2 C1518.9 2024.9 1525.5 2023.7 1530 2021.9 C1534.4 2020 1536.1 2017.5 1540 2013.9 C1543.8 2010.2 1548.3 2005.5 1553.3 1999.9 C1558.3 1994.2 1564.4 1986.3 1569.9 1979.9 C1575.5 1973.5 1582.7 1965.9 1586.6 1961.6 C1590.5 1957.2 1591.9 1955.8 1593.3 1953.9 C1594.6 1952 1592.7 1953.3 1594.9 1949.9 C1597.1 1946.5 1602.4 1938.8 1606.6 1933.3 C1610.7 1927.7 1615.5 1921.6 1619.9 1916.6 C1624.3 1911.6 1628.8 1907.2 1633.2 1903.3 C1637.7 1899.4 1641.6 1895.9 1646.6 1893.3 C1651.6 1890.6 1657.7 1888.6 1663.2 1887.3 C1668.8 1885.9 1673.8 1885.6 1679.9 1885.3 C1686 1885 1693.2 1885.1 1699.9 1885.3 C1706.5 1885.5 1713.2 1886 1719.8 1886.6 C1726.5 1887.2 1732.6 1888.2 1739.8 1888.9 C1747 1889.7 1755.4 1890.6 1763.1 1890.9 C1770.9 1891.3 1778.7 1891.4 1786.5 1890.9 C1794.2 1890.5 1802 1889.6 1809.8 1888.3 C1817.6 1887 1825.9 1885.2 1833.1 1883.3 C1840.3 1881.3 1846.4 1879 1853.1 1876.6 C1859.7 1874.3 1866.4 1871.8 1873.1 1869.3 C1879.7 1866.8 1886.4 1864 1893.1 1861.6 C1899.7 1859.2 1905.8 1857.5 1913 1855 C1920.3 1852.5 1928 1849.6 1936.4 1846.6 C1944.7 1843.7 1958.6 1838.9 1963 1837.3 C1967.5 1835.8 1964.1 1834.7 1963 1837.3 C1961.9 1840 1959.1 1846.8 1956.3 1853.3 C1953.6 1859.9 1949.4 1868.8 1946.4 1876.6 C1943.3 1884.4 1941.4 1890.5 1938 1899.9 C1934.7 1909.4 1930 1923.3 1926.4 1933.3 C1922.8 1943.2 1919.7 1950.5 1916.4 1959.9 C1913 1969.3 1909.7 1979.9 1906.4 1989.9 C1903.1 1999.9 1900 2009.9 1896.4 2019.9 C1892.8 2029.9 1888.1 2041 1884.7 2049.8 C1881.4 2058.7 1879.5 2064.8 1876.4 2073.2 C1873.3 2081.5 1869.7 2091.5 1866.4 2099.8 C1863.1 2108.1 1859.7 2115.9 1856.4 2123.1 C1853.1 2130.3 1850.3 2135.9 1846.4 2143.1 C1842.5 2150.3 1837.5 2159.2 1833.1 2166.4 C1828.7 2173.6 1824.2 2180.3 1819.8 2186.4 C1815.3 2192.5 1810.9 2198.1 1806.4 2203.1 C1802 2208.1 1797.6 2212.2 1793.1 2216.4 C1788.7 2220.6 1784.8 2223.9 1779.8 2228.1 C1774.8 2232.2 1768.7 2237.2 1763.1 2241.4 C1757.6 2245.5 1752.6 2249.2 1746.5 2253 C1740.4 2256.9 1733.2 2261.4 1726.5 2264.7 C1719.8 2268 1712.9 2270.8 1706.5 2273 C1700.1 2275.2 1691.2 2277.2 1688.2 2278 C1685.1 2278.9 1690.1 2280 1688.2 2278 C1686.3 2276.1 1680.7 2271.1 1676.5 2266.4 C1672.4 2261.6 1667.7 2255.3 1663.2 2249.7 C1658.8 2244.2 1654.3 2238.9 1649.9 2233.1 C1645.4 2227.2 1641 2220.8 1636.6 2214.7 C1632.1 2208.6 1627.1 2201.7 1623.2 2196.4 C1619.4 2191.1 1616.5 2187.5 1613.2 2183.1 C1610 2178.6 1609.5 2176.4 1603.9 2169.8 C1598.4 2163.1 1595 2158.7 1579.9 2143.1 C1564.8 2127.6 1541.1 2095.9 1513.3 2076.5 C1485.6 2057.1 1440 2039.3 1413.4 2026.5 C1386.7 2013.8 1363.1 2005.1 1353.4 1999.9Z"/></clipPath>
<g clip-path="url(#c18)">
<rect x="1351.4" y="1835.3" width="613.6" height="444.7" fill="#ffff00"/>
<path d="M1520 2009.9 C1521.6 2012 1523.9 2019.7 1530 2022.5 C1536.1 2025.3 1548.3 2025.7 1556.6 2026.5 C1564.9 2027.3 1572.2 2027.2 1579.9 2027.2 C1587.7 2027.2 1595.5 2026.4 1603.3 2026.5 C1611 2026.7 1619.4 2026.8 1626.6 2028.2 C1633.8 2029.6 1639.9 2032.4 1646.6 2034.9 C1653.2 2037.3 1659.9 2040.7 1666.5 2043.2 C1673.2 2045.7 1678.8 2047.3 1686.5 2049.8 C1694.3 2052.3 1703.2 2054.8 1713.2 2058.2 C1723.2 2061.5 1735.4 2066.2 1746.5 2069.8 C1757.6 2073.4 1768.7 2076.2 1779.8 2079.8 C1790.9 2083.4 1803.1 2087.9 1813.1 2091.5 C1823.1 2095.1 1832.8 2098.7 1839.8 2101.5 C1846.7 2104.2 1848.1 2105.4 1854.8 2108.1 C1861.4 2110.9 1875.6 2116.5 1879.7 2118.1 L1979.7 2109.8 L1979.7 1810 L1520 1810Z" fill="#ebe010"/>
<path d="M1579.9 1953.2 C1581.9 1954.2 1588.8 1957.2 1591.6 1958.9 C1594.4 1960.6 1593 1962 1596.6 1963.2 C1600.2 1964.5 1606.6 1965.2 1613.2 1966.6 C1619.9 1968 1628.2 1969.3 1636.6 1971.6 C1644.9 1973.8 1653.8 1976.8 1663.2 1979.9 C1672.6 1982.9 1683.2 1986.8 1693.2 1989.9 C1703.2 1992.9 1713.2 1995.4 1723.2 1998.2 C1733.2 2001 1743.2 2003.8 1753.2 2006.5 C1763.1 2009.3 1773.1 2011.8 1783.1 2014.9 C1793.1 2017.9 1803.1 2021.5 1813.1 2024.9 C1823.1 2028.2 1834.2 2031.8 1843.1 2034.9 C1852 2037.9 1859.5 2040.7 1866.4 2043.2 C1873.3 2045.7 1878.1 2047.5 1884.7 2049.8 C1891.4 2052.2 1902.8 2055.9 1906.4 2057.2 L1979.7 2043.2 L1979.7 1810 L1579.9 1810Z" fill="#ff0000"/><path d="M1579.9 1953.2 C1581.9 1954.2 1588.8 1957.2 1591.6 1958.9 C1594.4 1960.6 1593 1962 1596.6 1963.2 C1600.2 1964.5 1606.6 1965.2 1613.2 1966.6 C1619.9 1968 1628.2 1969.3 1636.6 1971.6 C1644.9 1973.8 1653.8 1976.8 1663.2 1979.9 C1672.6 1982.9 1683.2 1986.8 1693.2 1989.9 C1703.2 1992.9 1713.2 1995.4 1723.2 1998.2 C1733.2 2001 1743.2 2003.8 1753.2 2006.5 C1763.1 2009.3 1773.1 2011.8 1783.1 2014.9 C1793.1 2017.9 1803.1 2021.5 1813.1 2024.9 C1823.1 2028.2 1834.2 2031.8 1843.1 2034.9 C1852 2037.9 1859.5 2040.7 1866.4 2043.2 C1873.3 2045.7 1878.1 2047.5 1884.7 2049.8 C1891.4 2052.2 1902.8 2055.9 1906.4 2057.2" fill="none" stroke="#222" stroke-width="1.6" stroke-linejoin="round" stroke-linecap="round"/>
<path d="M1619.9 1899.9 C1621.8 1900.8 1628.2 1902.7 1631.6 1904.9 C1634.9 1907.2 1635.2 1910.8 1639.9 1913.3 C1644.6 1915.8 1652.1 1918 1659.9 1919.9 C1667.7 1921.9 1677.6 1923 1686.5 1924.9 C1695.4 1926.9 1703.2 1928.8 1713.2 1931.6 C1723.2 1934.4 1735.4 1938.2 1746.5 1941.6 C1757.6 1944.9 1768.7 1948 1779.8 1951.6 C1790.9 1955.2 1802 1959.6 1813.1 1963.2 C1824.2 1966.8 1835.3 1969.9 1846.4 1973.2 C1857.5 1976.6 1869.5 1980.2 1879.7 1983.2 C1890 1986.3 1899.7 1989 1908 1991.5 C1916.4 1994 1926.1 1997.1 1929.7 1998.2 L1979.7 1976.6 L1979.7 1810 L1619.9 1810Z" fill="#e00000"/>
<path d="M1856.4 1866.6 C1858.4 1867.5 1863.1 1869.7 1868.1 1871.6 C1873.1 1873.6 1880 1875.8 1886.4 1878.3 C1892.8 1880.8 1899.7 1883.7 1906.4 1886.6 C1913 1889.6 1920.8 1893.4 1926.4 1895.9 C1931.9 1898.4 1933.6 1899.3 1939.7 1901.6 C1945.8 1903.9 1959.1 1908.5 1963 1909.9 L1979.7 1893.3 L1979.7 1810 L1856.4 1810Z" fill="#7b0000"/>
<path d="M1436.7 1978.2 C1441.1 1978.2 1443.4 1986 1446.7 1989.9 C1450 1993.8 1453.4 1997.9 1456.7 2001.5 C1460 2005.1 1463.3 2008.6 1466.7 2011.5 C1470 2014.5 1476.1 2016.4 1476.7 2019.2 C1477.2 2022 1474.4 2027 1470 2028.2 C1465.6 2029.4 1456.7 2028.2 1450 2026.5 C1443.4 2024.9 1436.1 2021.5 1430 2018.2 C1423.9 2014.9 1415 2011.3 1413.4 2006.5 C1411.7 2001.8 1416.2 1994.6 1420 1989.9 C1423.9 1985.2 1432.3 1978.2 1436.7 1978.2Z" fill="#ebe010"/>
<polygon points="1346.8,2009.9 1353.4,1989.9 1380.1,1956.6 1413.4,1953.2 1438.4,1979.9 1430,1989.9 1416.7,2008.2 1396.7,2026.5" fill="#ff0000"/>
<path d="M1573.3 2118.1 C1574.4 2118.4 1574.4 2118.7 1579.9 2119.8 C1585.5 2120.9 1598.8 2122.6 1606.6 2124.8 C1614.4 2127 1620.5 2129 1626.6 2133.1 C1632.7 2137.3 1639.1 2143.7 1643.2 2149.8 C1647.4 2155.9 1649.9 2163.1 1651.6 2169.8 C1653.2 2176.4 1653.5 2183.1 1653.2 2189.7 C1652.9 2196.4 1651 2204.2 1649.9 2209.7 C1648.8 2215.3 1647.4 2219.2 1646.6 2223.1 C1645.7 2226.9 1645.2 2231.4 1644.9 2233.1 L1579.9 2243 L1513.3 2109.8Z" fill="#ebe010"/>
<path d="M1816.4 2199.7 C1814.8 2200.2 1811.4 2201.7 1806.4 2202.4 C1801.5 2203.1 1793.1 2202.2 1786.5 2203.7 C1779.8 2205.2 1772.6 2207.6 1766.5 2211.4 C1760.4 2215.2 1754.8 2220.8 1749.8 2226.4 C1744.8 2231.9 1740.4 2239.2 1736.5 2244.7 C1732.6 2250.3 1728.7 2256 1726.5 2259.7 C1724.3 2263.4 1724 2264.3 1723.2 2267 C1722.3 2269.8 1721.8 2274.8 1721.5 2276.4 L1813.1 2276.4 L1846.4 2209.7Z" fill="#00f000"/>
<pattern id="m19" width="1" height="1" patternUnits="userSpaceOnUse" patternTransform="matrix(9.5 2.4 5.5 -7.5 0 0)"><path d="M0 0H1M0 0V1" stroke="#3a3000" stroke-opacity="0.14" stroke-width="0.11" fill="none"/></pattern><rect x="1351.4" y="1835.3" width="613.6" height="444.7" fill="url(#m19)"/>
</g>
<clipPath id="c20"><path d="M1248.3 2364.7 C1245.8 2372.2 1247.3 2372.2 1248.3 2364.7 C1249.2 2357.2 1252.5 2332.8 1254 2319.7 C1255.4 2306.7 1256.3 2297.5 1257.3 2286.4 C1258.3 2275.3 1259.1 2264.2 1259.9 2253.1 C1260.8 2242 1261.3 2230.9 1262.3 2219.8 C1263.3 2208.7 1264.7 2197.6 1265.9 2186.5 C1267.2 2175.4 1268.4 2163.7 1269.9 2153.2 C1271.4 2142.6 1273.3 2132.1 1274.9 2123.2 C1276.6 2114.3 1278.3 2107.1 1279.9 2099.9 C1281.6 2092.7 1283 2086.6 1284.9 2079.9 C1286.9 2073.2 1288.8 2066.6 1291.6 2059.9 C1294.4 2053.2 1298 2046 1301.6 2039.9 C1305.2 2033.8 1309.1 2028.3 1313.2 2023.3 C1317.4 2018.3 1321.6 2013.8 1326.6 2009.9 C1331.6 2006.1 1337.7 2002.3 1343.2 1999.9 C1348.8 1997.6 1354.3 1996.5 1359.9 1995.9 C1365.4 1995.4 1371 1995.7 1376.5 1996.6 C1382.1 1997.6 1387.1 1999.4 1393.2 2001.6 C1399.3 2003.8 1406.5 2006.9 1413.2 2009.9 C1419.8 2013 1426.5 2016.3 1433.2 2019.9 C1439.8 2023.5 1446.5 2027.4 1453.2 2031.6 C1459.8 2035.8 1465.9 2040.2 1473.1 2044.9 C1480.4 2049.6 1489.2 2055.2 1496.8 2059.9 C1504.4 2064.6 1511.9 2068.1 1518.8 2072.9 C1525.7 2077.7 1531.6 2083.4 1538.1 2088.6 C1544.6 2093.7 1551.9 2099.8 1557.7 2103.9 C1563.6 2107.9 1568.4 2109.4 1573.1 2112.9 C1577.8 2116.4 1582.3 2120.7 1586.1 2124.9 C1589.8 2129 1592.8 2133.1 1595.4 2137.9 C1598 2142.6 1600.4 2148.8 1601.7 2153.2 C1603 2157.5 1602.9 2160.8 1603.1 2163.8 C1603.2 2166.9 1602.5 2170.2 1602.4 2171.5 C1602.3 2172.8 1604.4 2173.7 1602.4 2171.5 C1600.3 2169.3 1594.1 2163.1 1590.1 2158.5 C1586.1 2154 1582.1 2148.4 1578.4 2144.2 C1574.7 2140 1571.5 2136.6 1568.1 2133.2 C1564.7 2129.8 1564.2 2125.8 1558.1 2123.9 C1552 2121.9 1535.9 2121.9 1531.4 2121.5 C1527 2121.1 1531.8 2121.5 1531.4 2121.5 C1531 2121.5 1532.7 2122.8 1529.1 2121.5 C1525.5 2120.3 1517.3 2116.7 1509.8 2114.2 C1502.2 2111.7 1492.5 2109.2 1483.8 2106.5 C1475.1 2103.9 1466.5 2101.4 1457.8 2098.5 C1449.2 2095.7 1440.5 2092.3 1431.8 2089.6 C1423.2 2086.8 1414.5 2084.2 1405.8 2081.9 C1397.2 2079.6 1387.5 2076.7 1379.9 2075.9 C1372.2 2075.1 1367.1 2076.3 1359.9 2077.2 C1352.7 2078.2 1343.2 2079.4 1336.6 2081.6 C1329.9 2083.7 1324.1 2086 1319.9 2089.9 C1315.7 2093.8 1314.4 2098.8 1311.6 2104.9 C1308.8 2111 1306 2118.5 1303.3 2126.5 C1300.5 2134.6 1297.4 2143.2 1294.9 2153.2 C1292.4 2163.2 1290.2 2175.4 1288.3 2186.5 C1286.3 2197.6 1284.9 2208.7 1283.3 2219.8 C1281.6 2230.9 1280.2 2242 1278.3 2253.1 C1276.3 2264.2 1274.1 2275.3 1271.6 2286.4 C1269.1 2297.5 1267.2 2306.7 1263.3 2319.7 C1259.4 2332.8 1250.8 2357.2 1248.3 2364.7Z"/></clipPath>
<g clip-path="url(#c20)">
<rect x="1246.3" y="1993.9" width="358.8" height="372.8" fill="#ebe010"/>
<path d="M1263.3 2131.5 C1265.2 2130.4 1270.5 2127.4 1274.9 2124.9 C1279.4 2122.4 1284.9 2119.6 1289.9 2116.5 C1294.9 2113.5 1299.9 2109.9 1304.9 2106.5 C1309.9 2103.2 1317.4 2098.2 1319.9 2096.5 L1379.9 2093.2 L1379.9 2386.4 L1213.3 2386.4 L1213.3 2153.2Z" fill="#ffff00"/>
<path d="M1256.6 2191.5 C1258.4 2190.1 1263.4 2186.8 1267.3 2183.2 C1271.2 2179.5 1275.6 2174.6 1279.9 2169.8 C1284.3 2165.1 1288.8 2159.3 1293.3 2154.8 C1297.7 2150.4 1304.4 2145.1 1306.6 2143.2 L1379.9 2136.5 L1379.9 2386.4 L1213.3 2386.4 L1213.3 2203.1Z" fill="#00f000"/>
<path d="M1251.6 2241.5 C1253.2 2240.1 1257.6 2236.7 1260.9 2233.1 C1264.3 2229.5 1268.2 2224.2 1271.6 2219.8 C1275 2215.4 1278 2210.9 1281.6 2206.5 C1285.2 2202 1291.3 2195.4 1293.3 2193.2 L1379.9 2186.5 L1379.9 2386.4 L1213.3 2386.4 L1213.3 2253.1Z" fill="#00dcff"/><path d="M1251.6 2241.5 C1253.2 2240.1 1257.6 2236.7 1260.9 2233.1 C1264.3 2229.5 1268.2 2224.2 1271.6 2219.8 C1275 2215.4 1278 2210.9 1281.6 2206.5 C1285.2 2202 1291.3 2195.4 1293.3 2193.2" fill="none" stroke="#5a5a3a" stroke-width="1" stroke-linejoin="round" stroke-linecap="round"/>
<path d="M1246.6 2286.4 C1248.3 2285 1253.6 2281.1 1256.6 2278.1 C1259.7 2275 1262.7 2270.9 1264.9 2268.1 C1267.2 2265.3 1267.4 2264.5 1269.9 2261.4 C1272.4 2258.4 1278.3 2251.7 1279.9 2249.8 L1379.9 2236.5 L1379.9 2386.4 L1213.3 2386.4 L1213.3 2303.1Z" fill="#3700ff"/>
<path d="M1243.3 2349.7 C1244.4 2348.9 1248 2346.4 1250 2344.7 C1251.9 2343.1 1252.7 2341.7 1255 2339.7 C1257.2 2337.8 1261.9 2334.2 1263.3 2333.1 L1379.9 2319.7 L1379.9 2386.4 L1213.3 2386.4Z" fill="#800080"/>
<path d="M1266.6 2104.9 C1268.8 2104 1273.8 2102.4 1279.9 2099.9 C1286 2097.4 1296 2092.8 1303.3 2089.9 C1310.5 2086.9 1316 2084.6 1323.2 2082.2 C1330.5 2079.9 1338.8 2077.5 1346.6 2075.9 C1354.3 2074.3 1364.3 2073.3 1369.9 2072.6 C1375.4 2071.8 1373.9 2071.3 1379.9 2071.6 C1385.9 2071.8 1397.2 2072.2 1405.8 2073.9 C1414.5 2075.6 1423.2 2079.5 1431.8 2081.9 C1440.5 2084.3 1449.2 2086.5 1457.8 2088.2 C1466.5 2089.9 1475.1 2091.1 1483.8 2092.2 C1492.5 2093.3 1501.1 2094.1 1509.8 2094.9 C1518.4 2095.7 1530.4 2096.3 1535.8 2097.2 C1541.1 2098.2 1540 2098.9 1542.1 2100.5 C1544.2 2102.2 1545.8 2104 1548.4 2107.2 C1551 2110.4 1554.5 2115.3 1557.7 2119.5 C1561 2123.8 1564.6 2128.4 1568.1 2132.5 C1571.5 2136.6 1574.7 2139.9 1578.4 2144.2 C1582.1 2148.5 1586.1 2154 1590.1 2158.5 C1594.1 2163.1 1599.1 2167.9 1602.4 2171.5 C1605.7 2175.1 1608.5 2178.4 1609.7 2179.8 L1646.4 2179.8 L1646.4 1920 L1213.3 1920 L1213.3 2109.9Z" fill="#ff0000"/>
<path d="M1279.9 2063.2 C1282.2 2062.4 1287.7 2060 1293.3 2058.2 C1298.8 2056.5 1306 2054.2 1313.2 2052.6 C1320.5 2050.9 1328.8 2049.2 1336.6 2048.2 C1344.3 2047.2 1352.7 2046.6 1359.9 2046.6 C1367.1 2046.5 1372.2 2047.5 1379.9 2047.9 C1387.5 2048.4 1397.2 2048.2 1405.8 2049.2 C1414.5 2050.2 1423.2 2052.1 1431.8 2053.9 C1440.5 2055.7 1449.2 2057.6 1457.8 2059.9 C1466.5 2062.2 1476.2 2065 1483.8 2067.6 C1491.3 2070.1 1497.7 2072.8 1503.1 2075.2 C1508.5 2077.6 1511.8 2079.7 1516.1 2081.9 C1520.4 2084.1 1525.2 2086.1 1529.1 2088.2 C1533 2090.4 1535.4 2091.8 1539.4 2094.9 C1543.4 2097.9 1550.8 2104.6 1553.1 2106.5 L1646.4 2109.9 L1646.4 1920 L1213.3 1920 L1213.3 2066.6Z" fill="#e00000"/>
<path d="M1339.9 2001.9 C1341 2001.6 1343.2 2000.5 1346.6 1999.9 C1349.9 1999.4 1353.2 1998.4 1359.9 1998.6 C1366.5 1998.8 1378.2 1999.5 1386.5 2001.3 C1394.9 2003.1 1404.3 2007 1409.8 2009.3 C1415.4 2011.6 1418.2 2014 1419.8 2014.9 L1419.8 1953.3 L1339.9 1953.3Z" fill="#7b0000"/>
<pattern id="m21" width="1" height="1" patternUnits="userSpaceOnUse" patternTransform="matrix(9 1.5 1.5 -9.5 0 0)"><path d="M0 0H1M0 0V1" stroke="#3a3000" stroke-opacity="0.14" stroke-width="0.11" fill="none"/></pattern><rect x="1246.3" y="1993.9" width="358.8" height="372.8" fill="url(#m21)"/>
</g>
<polyline points="1192.5,1909 1252.5,2409 1695.5,2548.5 1958,2310" fill="none" stroke="#000" stroke-width="2.6" stroke-linejoin="round"/>
<line x1="1196" y1="1955" x2="1187" y2="1958" stroke="#000" stroke-width="2.2"/>
<text transform="matrix(0.946 -0.326 0.241 1.369 1165.1 1987)" font-size="32" text-anchor="middle" font-weight="bold">0.5</text>
<line x1="1206" y1="2044" x2="1197" y2="2047" stroke="#000" stroke-width="2.2"/>
<text transform="matrix(0.946 -0.326 0.241 1.369 1176.1 2075.5)" font-size="32" text-anchor="middle" font-weight="bold">0.4</text>
<line x1="1216.5" y1="2131" x2="1207.5" y2="2134" stroke="#000" stroke-width="2.2"/>
<text transform="matrix(0.946 -0.326 0.241 1.369 1187.6 2164.5)" font-size="32" text-anchor="middle" font-weight="bold">0.3</text>
<line x1="1228" y1="2212.5" x2="1219" y2="2215.5" stroke="#000" stroke-width="2.2"/>
<text transform="matrix(0.946 -0.326 0.241 1.369 1200.1 2248.5)" font-size="32" text-anchor="middle" font-weight="bold">0.2</text>
<line x1="1238" y1="2292.5" x2="1229" y2="2295.5" stroke="#000" stroke-width="2.2"/>
<text transform="matrix(0.946 -0.326 0.241 1.369 1210.1 2327)" font-size="32" text-anchor="middle" font-weight="bold">0.1</text>
<line x1="1248.5" y1="2370" x2="1239.5" y2="2373" stroke="#000" stroke-width="2.2"/>
<text transform="matrix(0.946 -0.326 0.241 1.369 1218.6 2407)" font-size="32" text-anchor="middle" font-weight="bold">0.0</text>
<line x1="1252.5" y1="2409" x2="1245.5" y2="2414" stroke="#000" stroke-width="2.2"/>
<text transform="matrix(0.799 -0.602 0.951 0.309 1231 2436)" font-size="39.5" text-anchor="middle" font-weight="bold">950</text>
<line x1="1330.9" y1="2433.7" x2="1323.9" y2="2438.7" stroke="#000" stroke-width="2.2"/>
<text transform="matrix(0.799 -0.602 0.951 0.309 1306 2466)" font-size="39.5" text-anchor="middle" font-weight="bold">1000</text>
<line x1="1416" y1="2460.5" x2="1409" y2="2465.5" stroke="#000" stroke-width="2.2"/>
<text transform="matrix(0.799 -0.602 0.951 0.309 1391 2496)" font-size="39.5" text-anchor="middle" font-weight="bold">1050</text>
<line x1="1506.3" y1="2488.9" x2="1499.3" y2="2493.9" stroke="#000" stroke-width="2.2"/>
<text transform="matrix(0.799 -0.602 0.951 0.309 1481 2526)" font-size="39.5" text-anchor="middle" font-weight="bold">1100</text>
<line x1="1599.4" y1="2518.2" x2="1592.4" y2="2523.2" stroke="#000" stroke-width="2.2"/>
<text transform="matrix(0.799 -0.602 0.951 0.309 1576 2556)" font-size="39.5" text-anchor="middle" font-weight="bold">1150</text>
<line x1="1695.5" y1="2548.5" x2="1688.5" y2="2553.5" stroke="#000" stroke-width="2.2"/>
<text transform="matrix(0.799 -0.602 0.951 0.309 1676 2588.5)" font-size="39.5" text-anchor="middle" font-weight="bold">1200</text>
<line x1="1291.5" y1="2421.3" x2="1287.5" y2="2424.3" stroke="#000" stroke-width="2"/>
<line x1="1373.4" y1="2447.1" x2="1369.4" y2="2450.1" stroke="#000" stroke-width="2"/>
<line x1="1461.2" y1="2474.7" x2="1457.2" y2="2477.7" stroke="#000" stroke-width="2"/>
<line x1="1552.9" y1="2503.6" x2="1548.9" y2="2506.6" stroke="#000" stroke-width="2"/>
<line x1="1647.2" y1="2533.3" x2="1643.2" y2="2536.3" stroke="#000" stroke-width="2"/>
<line x1="1738" y1="2509.9" x2="1746" y2="2512.9" stroke="#000" stroke-width="2.2"/>
<text transform="matrix(0.959 0.284 -0.797 0.460 1760.5 2527.5)" font-size="38" text-anchor="middle" font-weight="bold">−6</text>
<line x1="1777.9" y1="2473.6" x2="1785.9" y2="2476.6" stroke="#000" stroke-width="2.2"/>
<text transform="matrix(0.959 0.284 -0.797 0.460 1800.5 2489)" font-size="38" text-anchor="middle" font-weight="bold">−5</text>
<line x1="1818.1" y1="2437.1" x2="1826.1" y2="2440.1" stroke="#000" stroke-width="2.2"/>
<text transform="matrix(0.959 0.284 -0.797 0.460 1838 2452.5)" font-size="38" text-anchor="middle" font-weight="bold">−4</text>
<line x1="1855.6" y1="2403" x2="1863.6" y2="2406" stroke="#000" stroke-width="2.2"/>
<text transform="matrix(0.959 0.284 -0.797 0.460 1873 2415)" font-size="38" text-anchor="middle" font-weight="bold">−3</text>
<line x1="1889" y1="2372.7" x2="1897" y2="2375.7" stroke="#000" stroke-width="2.2"/>
<text transform="matrix(0.959 0.284 -0.797 0.460 1905.5 2382.5)" font-size="38" text-anchor="middle" font-weight="bold">−2</text>
<line x1="1923.1" y1="2341.7" x2="1931.1" y2="2344.7" stroke="#000" stroke-width="2.2"/>
<text transform="matrix(0.959 0.284 -0.797 0.460 1940.5 2352.5)" font-size="38" text-anchor="middle" font-weight="bold">−1</text>
<line x1="1958" y1="2310" x2="1966" y2="2313" stroke="#000" stroke-width="2.2"/>
<text transform="matrix(0.959 0.284 -0.797 0.460 1977 2319.5)" font-size="38" text-anchor="middle" font-weight="bold">0</text>
<line x1="1716.8" y1="2529.2" x2="1720.8" y2="2530.7" stroke="#000" stroke-width="2"/>
<line x1="1758" y1="2491.7" x2="1762" y2="2493.2" stroke="#000" stroke-width="2"/>
<line x1="1797.9" y1="2455.5" x2="1801.9" y2="2457" stroke="#000" stroke-width="2"/>
<line x1="1837" y1="2419.9" x2="1841" y2="2421.4" stroke="#000" stroke-width="2"/>
<line x1="1872.4" y1="2387.8" x2="1876.4" y2="2389.3" stroke="#000" stroke-width="2"/>
<line x1="1906" y1="2357.2" x2="1910" y2="2358.7" stroke="#000" stroke-width="2"/>
<line x1="1940.4" y1="2326" x2="1944.4" y2="2327.5" stroke="#000" stroke-width="2"/>
<text transform="matrix(0.944 0.329 -0.780 0.488 1171 2490)" font-size="57.8" font-weight="bold">Temperature/°C</text>
<text transform="matrix(0.707 -0.707 1.281 0.392 1955.5 2441.5)" font-size="44" text-anchor="middle" font-weight="bold">lnε<tspan dx="-0.62em" dy="-0.28em" font-size="0.6em">˙</tspan></text>
<text transform="matrix(0.000 1.000 -1.000 -0.000 1106 2198)" font-size="66" font-weight="bold">η</text>
<rect x="2014.5" y="1837.5" width="47" height="58" fill="#4b0059"/>
<rect x="2014.5" y="1895" width="47" height="57" fill="#7b0000"/>
<rect x="2014.5" y="1951.5" width="47" height="57.5" fill="#e00000"/>
<rect x="2014.5" y="2008.5" width="47" height="58" fill="#ff0000"/>
<rect x="2014.5" y="2066" width="47" height="57.5" fill="#ebe010"/>
<rect x="2014.5" y="2123" width="47" height="57.5" fill="#ffff00"/>
<rect x="2014.5" y="2180" width="47" height="57" fill="#00f000"/>
<rect x="2014.5" y="2236.5" width="47" height="58" fill="#00dcff"/>
<rect x="2014.5" y="2294" width="47" height="57.5" fill="#3700ff"/>
<rect x="2014.5" y="2351" width="47" height="58" fill="#800080"/>
<rect x="2014.5" y="2408.5" width="47" height="57" fill="#000000"/>
<rect x="2014.5" y="1837.5" width="47" height="627.5" fill="none" stroke="#222" stroke-width="1.5"/>
<line x1="2061.5" y1="1895" x2="2075.5" y2="1895" stroke="#000" stroke-width="2"/>
<line x1="2061.5" y1="1951.5" x2="2075.5" y2="1951.5" stroke="#000" stroke-width="2"/>
<line x1="2061.5" y1="1994" x2="2075.5" y2="1994" stroke="#000" stroke-width="2"/>
<line x1="2061.5" y1="2051.5" x2="2075.5" y2="2051.5" stroke="#000" stroke-width="2"/>
<line x1="2061.5" y1="2123" x2="2075.5" y2="2123" stroke="#000" stroke-width="2"/>
<line x1="2061.5" y1="2180" x2="2075.5" y2="2180" stroke="#000" stroke-width="2"/>
<line x1="2061.5" y1="2236.5" x2="2075.5" y2="2236.5" stroke="#000" stroke-width="2"/>
<line x1="2061.5" y1="2294" x2="2075.5" y2="2294" stroke="#000" stroke-width="2"/>
<line x1="2061.5" y1="2351" x2="2075.5" y2="2351" stroke="#000" stroke-width="2"/>
<line x1="2061.5" y1="2408.5" x2="2075.5" y2="2408.5" stroke="#000" stroke-width="2"/>
<line x1="2061.5" y1="1909.1" x2="2068.5" y2="1909.1" stroke="#000" stroke-width="1.6"/>
<line x1="2061.5" y1="1923.2" x2="2068.5" y2="1923.2" stroke="#000" stroke-width="1.6"/>
<line x1="2061.5" y1="1937.4" x2="2068.5" y2="1937.4" stroke="#000" stroke-width="1.6"/>
<line x1="2061.5" y1="1965.8" x2="2068.5" y2="1965.8" stroke="#000" stroke-width="1.6"/>
<line x1="2061.5" y1="1980" x2="2068.5" y2="1980" stroke="#000" stroke-width="1.6"/>
<line x1="2061.5" y1="1994.2" x2="2068.5" y2="1994.2" stroke="#000" stroke-width="1.6"/>
<line x1="2061.5" y1="2022.9" x2="2068.5" y2="2022.9" stroke="#000" stroke-width="1.6"/>
<line x1="2061.5" y1="2037.2" x2="2068.5" y2="2037.2" stroke="#000" stroke-width="1.6"/>
<line x1="2061.5" y1="2051.6" x2="2068.5" y2="2051.6" stroke="#000" stroke-width="1.6"/>
<line x1="2061.5" y1="2080.2" x2="2068.5" y2="2080.2" stroke="#000" stroke-width="1.6"/>
<line x1="2061.5" y1="2094.5" x2="2068.5" y2="2094.5" stroke="#000" stroke-width="1.6"/>
<line x1="2061.5" y1="2108.8" x2="2068.5" y2="2108.8" stroke="#000" stroke-width="1.6"/>
<line x1="2061.5" y1="2137.2" x2="2068.5" y2="2137.2" stroke="#000" stroke-width="1.6"/>
<line x1="2061.5" y1="2151.5" x2="2068.5" y2="2151.5" stroke="#000" stroke-width="1.6"/>
<line x1="2061.5" y1="2165.8" x2="2068.5" y2="2165.8" stroke="#000" stroke-width="1.6"/>
<line x1="2061.5" y1="2194.1" x2="2068.5" y2="2194.1" stroke="#000" stroke-width="1.6"/>
<line x1="2061.5" y1="2208.2" x2="2068.5" y2="2208.2" stroke="#000" stroke-width="1.6"/>
<line x1="2061.5" y1="2222.4" x2="2068.5" y2="2222.4" stroke="#000" stroke-width="1.6"/>
<line x1="2061.5" y1="2250.9" x2="2068.5" y2="2250.9" stroke="#000" stroke-width="1.6"/>
<line x1="2061.5" y1="2265.2" x2="2068.5" y2="2265.2" stroke="#000" stroke-width="1.6"/>
<line x1="2061.5" y1="2279.6" x2="2068.5" y2="2279.6" stroke="#000" stroke-width="1.6"/>
<line x1="2061.5" y1="2308.2" x2="2068.5" y2="2308.2" stroke="#000" stroke-width="1.6"/>
<line x1="2061.5" y1="2322.5" x2="2068.5" y2="2322.5" stroke="#000" stroke-width="1.6"/>
<line x1="2061.5" y1="2336.8" x2="2068.5" y2="2336.8" stroke="#000" stroke-width="1.6"/>
<line x1="2061.5" y1="2365.4" x2="2068.5" y2="2365.4" stroke="#000" stroke-width="1.6"/>
<line x1="2061.5" y1="2379.8" x2="2068.5" y2="2379.8" stroke="#000" stroke-width="1.6"/>
<line x1="2061.5" y1="2394.1" x2="2068.5" y2="2394.1" stroke="#000" stroke-width="1.6"/>
<text transform="translate(2094 1913.5)" font-size="52" font-weight="bold">0.54</text>
<text transform="translate(2094 1971)" font-size="52" font-weight="bold">0.48</text>
<text transform="translate(2094 2012.5)" font-size="52" font-weight="bold">0.42</text>
<text transform="translate(2094 2071)" font-size="52" font-weight="bold">0.36</text>
<text transform="translate(2094 2141)" font-size="52" font-weight="bold">0.30</text>
<text transform="translate(2094 2197.5)" font-size="52" font-weight="bold">0.24</text>
<text transform="translate(2094 2255)" font-size="52" font-weight="bold">0.18</text>
<text transform="translate(2094 2311.5)" font-size="52" font-weight="bold">0.12</text>
<text transform="translate(2094 2368.5)" font-size="52" font-weight="bold">0.060</text>
<text transform="translate(2094 2426.5)" font-size="52" font-weight="bold">0.0</text>
<text transform="translate(2038 1812)" font-size="62" text-anchor="middle" font-weight="bold" font-style="italic">η</text>
<text transform="translate(1242.5 1894.5)" font-size="98">(g)</text>
<text transform="translate(1427.5 1878.5) scale(0.992 1)" font-size="70">Strain = 0.6</text>
</g>
<g id="ph">
<polyline points="1236.5,2804.8 1568.6,2721.3 1993.6,2768.4" fill="none" stroke="#d2d2d2" stroke-width="1.15" stroke-linejoin="round"/>
<polyline points="1241.8,2892.6 1570,2796.3 1991.1,2851.7" fill="none" stroke="#d2d2d2" stroke-width="1.15" stroke-linejoin="round"/>
<polyline points="1246.9,2977.5 1571.4,2868.8 1988.7,2932.2" fill="none" stroke="#d2d2d2" stroke-width="1.15" stroke-linejoin="round"/>
<polyline points="1251.8,3059.8 1572.7,2939.2 1986.3,3010.2" fill="none" stroke="#d2d2d2" stroke-width="1.15" stroke-linejoin="round"/>
<polyline points="1256.8,3141.3 1574,3008.8 1984,3087.5" fill="none" stroke="#d2d2d2" stroke-width="1.15" stroke-linejoin="round"/>
<polyline points="1261.6,3221.3 1575.3,3077.1 1981.7,3163.3" fill="none" stroke="#d2d2d2" stroke-width="1.15" stroke-linejoin="round"/>
<line x1="1285.1" y1="2727.4" x2="1313" y2="3237.9" stroke="#d2d2d2" stroke-width="1.15"/>
<line x1="1337.4" y1="2715.8" x2="1361.7" y2="3214.6" stroke="#d2d2d2" stroke-width="1.15"/>
<line x1="1388.9" y1="2704.4" x2="1409.7" y2="3191.4" stroke="#d2d2d2" stroke-width="1.15"/>
<line x1="1438.9" y1="2693.4" x2="1456.2" y2="3169.1" stroke="#d2d2d2" stroke-width="1.15"/>
<line x1="1485.1" y1="2683.2" x2="1499.2" y2="3148.4" stroke="#d2d2d2" stroke-width="1.15"/>
<line x1="1527.3" y1="2673.9" x2="1538.6" y2="3129.5" stroke="#d2d2d2" stroke-width="1.15"/>
<line x1="1645.8" y1="2672.5" x2="1650" y2="3128" stroke="#d2d2d2" stroke-width="1.15"/>
<line x1="1726.7" y1="2680.3" x2="1726.5" y2="3145" stroke="#d2d2d2" stroke-width="1.15"/>
<line x1="1810.6" y1="2688.3" x2="1805.8" y2="3162.6" stroke="#d2d2d2" stroke-width="1.15"/>
<line x1="1902.2" y1="2697.1" x2="1892.3" y2="3181.9" stroke="#d2d2d2" stroke-width="1.15"/>
<polyline points="1232.5,2739 1567.5,2665 1995.5,2706 1980.5,3201.5" fill="none" stroke="#3a3a3a" stroke-width="1.3" stroke-linejoin="round"/>
<line x1="1567.5" y1="2665" x2="1576" y2="3111.5" stroke="#3a3a3a" stroke-width="1.3"/>
<clipPath id="c22"><polygon points="1264,3261.5 1576,3111.5 1980.5,3201.5 1703,3391.5"/></clipPath>
<g clip-path="url(#c22)">
<rect x="1262" y="3109.5" width="720.5" height="284" fill="#ebe010"/>
<path d="M1303.3 3279.9 C1304.4 3278.8 1306 3276.5 1309.9 3273.2 C1313.8 3269.9 1321 3263.8 1326.6 3259.9 C1332.1 3256 1337.1 3252.9 1343.2 3249.9 C1349.4 3246.8 1356 3243.8 1363.2 3241.6 C1370.4 3239.3 1378.8 3237.7 1386.5 3236.6 C1394.3 3235.5 1401.5 3234.6 1409.9 3234.9 C1418.2 3235.2 1427.6 3236.6 1436.5 3238.2 C1445.4 3239.9 1454.3 3242.1 1463.2 3244.9 C1472 3247.7 1481.5 3251.8 1489.8 3254.9 C1498.1 3257.9 1505.4 3261 1513.1 3263.2 C1520.9 3265.4 1528.1 3267 1536.4 3268.2 C1544.8 3269.4 1554.2 3269.7 1563.1 3270.5 C1572 3271.4 1580.9 3272.2 1589.7 3273.2 C1598.6 3274.2 1608.1 3274.9 1616.4 3276.5 C1624.7 3278.2 1633.1 3280.4 1639.7 3283.2 C1646.4 3286 1651.4 3288.7 1656.4 3293.2 C1661.4 3297.6 1666.4 3303.7 1669.7 3309.8 C1673 3316 1675 3323.2 1676.4 3329.8 C1677.7 3336.5 1678.3 3343.2 1678 3349.8 C1677.7 3356.5 1675.8 3364.5 1674.7 3369.8 C1673.6 3375.1 1672.2 3377.6 1671.4 3381.5 C1670.5 3385.4 1670 3391.2 1669.7 3393.1 L1476.5 3413.1 L1293.3 3313.2Z" fill="#f8ae1a"/>
<path d="M1416.5 3186.6 C1417.1 3187.6 1417.6 3191.2 1419.9 3192.6 C1422.1 3194 1426 3195.1 1429.9 3194.9 C1433.7 3194.8 1438.7 3193.5 1443.2 3191.6 C1447.6 3189.6 1452.9 3186.3 1456.5 3183.3 C1460.1 3180.2 1462.9 3176.3 1464.8 3173.3 C1466.8 3170.2 1467.6 3166.3 1468.2 3164.9 L1443.2 3156.6Z" fill="#f8ae1a"/>
<path d="M1536.4 3219.9 C1537.3 3216 1539.2 3209.1 1543.1 3204.9 C1547 3200.8 1553.1 3197.5 1559.8 3194.9 C1566.4 3192.3 1574.8 3190.4 1583.1 3189.3 C1591.4 3188.2 1600.9 3187.9 1609.7 3188.3 C1618.6 3188.6 1629.2 3189.6 1636.4 3191.6 C1643.6 3193.5 1649 3196.6 1653 3199.9 C1657 3203.3 1659.8 3207.1 1660.4 3211.6 C1660.9 3216 1659.3 3222.4 1656.4 3226.6 C1653.5 3230.7 1648.6 3233.8 1643 3236.6 C1637.5 3239.3 1630.3 3241.6 1623.1 3243.2 C1615.8 3244.9 1608.1 3246.3 1599.7 3246.6 C1591.4 3246.8 1581.4 3246.6 1573.1 3244.9 C1564.8 3243.2 1555.6 3239.3 1549.8 3236.6 C1543.9 3233.8 1540.3 3231 1538.1 3228.2 C1535.9 3225.5 1535.6 3223.8 1536.4 3219.9Z" fill="#ffff00"/>
<path d="M1353.2 3213.2 C1352.7 3214.4 1351.6 3216.4 1349.9 3220.2 C1348.2 3224.1 1346.6 3231.1 1343.2 3236.6 C1339.9 3242.1 1334.4 3248.2 1329.9 3253.2 C1325.5 3258.2 1319.9 3262.9 1316.6 3266.5 C1313.3 3270.2 1311.6 3272.4 1309.9 3275.2 C1308.3 3278 1307.2 3281.9 1306.6 3283.2 L1243.3 3296.5 L1243.3 3213.2Z" fill="#ffff00"/>
<path d="M1293.9 3239.9 C1293.8 3241.2 1293.5 3244.8 1293.3 3247.6 C1293.1 3250.3 1293.2 3253.7 1292.6 3256.5 C1292.1 3259.4 1290.7 3262.9 1289.9 3264.9 C1289.2 3266.9 1288.8 3266.6 1288.3 3268.5 C1287.7 3270.5 1286.9 3275.2 1286.6 3276.5 L1243.3 3296.5 L1243.3 3213.2Z" fill="#0080ff"/>
<path d="M1285.3 3244.9 C1285.2 3246 1285 3249.1 1285 3251.6 C1284.9 3254.1 1285.3 3257.7 1285 3259.9 C1284.6 3262.1 1283.2 3263.8 1282.6 3264.9 C1282.1 3266 1282.1 3265.2 1281.6 3266.5 C1281.2 3267.9 1280.2 3272.1 1280 3273.2 L1243.3 3296.5 L1243.3 3213.2Z" fill="#3700ff"/>
<path d="M1275.3 3249.9 C1275.2 3251 1275.3 3254.2 1275 3256.5 C1274.6 3258.9 1273.7 3262 1273.3 3264.2 C1272.9 3266.4 1272.7 3268.9 1272.6 3269.9 L1243.3 3296.5 L1243.3 3213.2Z" fill="#800080"/>
<path d="M1313.3 3283.2 C1314.7 3282.5 1317.7 3280.8 1321.6 3278.9 C1325.5 3276.9 1331.3 3273.8 1336.6 3271.5 C1341.9 3269.3 1347.1 3267.3 1353.2 3265.5 C1359.3 3263.8 1366 3262 1373.2 3260.9 C1380.4 3259.8 1388.8 3259.2 1396.5 3258.9 C1404.3 3258.5 1412.1 3258.6 1419.9 3258.9 C1427.6 3259.2 1436 3259.5 1443.2 3260.5 C1450.4 3261.5 1457.1 3263.2 1463.2 3264.9 C1469.3 3266.5 1474.3 3268.3 1479.8 3270.5 C1485.4 3272.8 1490.9 3275.8 1496.5 3278.2 C1502 3280.6 1507.6 3283.2 1513.1 3284.9 C1518.7 3286.5 1523.7 3287.4 1529.8 3288.2 C1535.9 3289 1543.1 3289 1549.8 3289.9 C1556.4 3290.7 1563.7 3291.8 1569.8 3293.2 C1575.9 3294.6 1581.4 3296 1586.4 3298.2 C1591.4 3300.4 1595.6 3303.2 1599.7 3306.5 C1603.9 3309.8 1608.1 3313.7 1611.4 3318.2 C1614.7 3322.6 1617.5 3327.9 1619.7 3333.2 C1621.9 3338.4 1623.7 3344.8 1624.7 3349.8 C1625.7 3354.8 1625.7 3359.9 1625.7 3363.1 C1625.7 3366.4 1625.2 3366.9 1624.7 3369.1 C1624.3 3371.4 1623.3 3375.2 1623.1 3376.5 L1476.5 3413.1 L1303.3 3306.5Z" fill="#ff0000"/><path d="M1313.3 3283.2 C1314.7 3282.5 1317.7 3280.8 1321.6 3278.9 C1325.5 3276.9 1331.3 3273.8 1336.6 3271.5 C1341.9 3269.3 1347.1 3267.3 1353.2 3265.5 C1359.3 3263.8 1366 3262 1373.2 3260.9 C1380.4 3259.8 1388.8 3259.2 1396.5 3258.9 C1404.3 3258.5 1412.1 3258.6 1419.9 3258.9 C1427.6 3259.2 1436 3259.5 1443.2 3260.5 C1450.4 3261.5 1457.1 3263.2 1463.2 3264.9 C1469.3 3266.5 1474.3 3268.3 1479.8 3270.5 C1485.4 3272.8 1490.9 3275.8 1496.5 3278.2 C1502 3280.6 1507.6 3283.2 1513.1 3284.9 C1518.7 3286.5 1523.7 3287.4 1529.8 3288.2 C1535.9 3289 1543.1 3289 1549.8 3289.9 C1556.4 3290.7 1563.7 3291.8 1569.8 3293.2 C1575.9 3294.6 1581.4 3296 1586.4 3298.2 C1591.4 3300.4 1595.6 3303.2 1599.7 3306.5 C1603.9 3309.8 1608.1 3313.7 1611.4 3318.2 C1614.7 3322.6 1617.5 3327.9 1619.7 3333.2 C1621.9 3338.4 1623.7 3344.8 1624.7 3349.8 C1625.7 3354.8 1625.7 3359.9 1625.7 3363.1 C1625.7 3366.4 1625.2 3366.9 1624.7 3369.1 C1624.3 3371.4 1623.3 3375.2 1623.1 3376.5" fill="none" stroke="#000" stroke-width="3" stroke-linejoin="round" stroke-linecap="round"/>
<path d="M1339.9 3293.2 C1341.6 3292.4 1344.9 3290.4 1349.9 3288.2 C1354.9 3286 1362.7 3281.7 1369.9 3279.9 C1377.1 3278 1385.4 3277.5 1393.2 3277.2 C1401 3276.9 1408.2 3277.2 1416.5 3278.2 C1424.9 3279.2 1434.3 3281 1443.2 3283.2 C1452.1 3285.4 1460.9 3288.5 1469.8 3291.5 C1478.7 3294.6 1487.6 3297.9 1496.5 3301.5 C1505.4 3305.1 1514.8 3309 1523.1 3313.2 C1531.5 3317.3 1539.8 3322.3 1546.4 3326.5 C1553.1 3330.7 1558.7 3334.3 1563.1 3338.2 C1567.5 3342 1571.1 3347 1573.1 3349.8 C1575 3352.6 1574.5 3352.6 1574.8 3354.8 C1575 3357 1574.8 3361.8 1574.8 3363.1 L1476.5 3413.1 L1303.3 3306.5Z" fill="#e00000"/>
<path d="M1379.9 3301.5 C1381.6 3300.7 1385.4 3298.2 1389.9 3296.5 C1394.3 3294.9 1400.4 3292.4 1406.5 3291.5 C1412.6 3290.7 1419.9 3290.7 1426.5 3291.5 C1433.2 3292.4 1439.8 3294.3 1446.5 3296.5 C1453.2 3298.7 1460.4 3301.8 1466.5 3304.9 C1472.6 3307.9 1478.7 3311.8 1483.2 3314.8 C1487.6 3317.9 1490.9 3320.7 1493.1 3323.2 C1495.4 3325.7 1495.8 3327.6 1496.5 3329.8 C1497.1 3332.1 1497 3335.4 1497.1 3336.5 L1443.2 3363.1 L1359.9 3313.2Z" fill="#a80000"/>
<path d="M1394.9 3306.5 C1396.3 3305.7 1399 3302.9 1403.2 3301.5 C1407.4 3300.1 1413.8 3298.2 1419.9 3298.2 C1426 3298.2 1433.7 3299.6 1439.8 3301.5 C1446 3303.5 1451.5 3307.1 1456.5 3309.8 C1461.5 3312.6 1467.1 3316 1469.8 3318.2 C1472.6 3320.4 1472.3 3321.2 1473.2 3323.2 C1474 3325.1 1474.5 3328.7 1474.8 3329.8 L1443.2 3363.1 L1376.6 3313.2Z" fill="#7c0000"/>
<path d="M1526.7 3130 C1527.8 3130.4 1528.9 3131.5 1533.3 3132.3 C1537.8 3133.1 1546.1 3134.8 1553.3 3135 C1560.5 3135.1 1569.4 3134.7 1576.6 3133.3 C1583.8 3131.9 1591.1 3128.9 1596.6 3126.6 C1602.2 3124.4 1606.6 3122.2 1609.9 3120 C1613.3 3117.8 1615.5 3114.4 1616.6 3113.3 L1576.6 3096.7 L1520 3123.3Z" fill="#ffff00"/>
<path d="M1556.6 3117.3 C1557.5 3117.6 1558.3 3119 1561.6 3119.3 C1565 3119.6 1572.2 3119.5 1576.6 3119 C1581.1 3118.4 1585.5 3117.2 1588.3 3116 C1591.1 3114.8 1592.5 3112.4 1593.3 3111.6 L1576.6 3100 L1553.3 3113.3Z" fill="#0080ff"/>
<path d="M1613.3 3115 C1612.2 3116.1 1609.9 3118.6 1606.6 3121.6 C1603.3 3124.7 1597.2 3129.1 1593.3 3133.3 C1589.4 3137.5 1585.5 3142.5 1583.3 3146.6 C1581.1 3150.8 1579.4 3155.2 1580 3158.3 C1580.5 3161.3 1582.2 3163.3 1586.6 3164.9 C1591.1 3166.6 1599.4 3167.4 1606.6 3168.3 C1613.8 3169.1 1622.2 3169.1 1629.9 3169.9 C1637.7 3170.8 1646 3171.3 1653.2 3173.3 C1660.5 3175.2 1667.1 3178.3 1673.2 3181.6 C1679.3 3184.9 1684.3 3189.6 1689.9 3193.3 C1695.4 3196.9 1700.4 3200.5 1706.5 3203.3 C1712.6 3206 1719.3 3208.2 1726.5 3209.9 C1733.7 3211.6 1742.1 3211.9 1749.8 3213.2 C1757.6 3214.6 1765.9 3216 1773.2 3218.2 C1780.4 3220.5 1786.5 3223.5 1793.2 3226.6 C1799.8 3229.6 1806.5 3233.2 1813.1 3236.6 C1819.8 3239.9 1826.5 3243.2 1833.1 3246.6 C1839.8 3249.9 1846.4 3253.5 1853.1 3256.5 C1859.8 3259.6 1867.5 3262.7 1873.1 3264.9 C1878.6 3267.1 1882.5 3268.2 1886.4 3269.9 C1890.3 3271.5 1894.8 3274 1896.4 3274.9 L2019.7 3213.2 L1986.4 3146.6 L1619.9 3096.7Z" fill="#f8ae1a"/>
<path d="M1631.6 3116.6 C1631 3117.8 1629.9 3121.1 1628.3 3123.3 C1626.6 3125.5 1623.3 3127.5 1621.6 3130 C1619.9 3132.5 1618.3 3135.8 1618.3 3138.3 C1618.3 3140.8 1619.4 3143 1621.6 3145 C1623.8 3146.9 1627.4 3148.8 1631.6 3150 C1635.8 3151.1 1641.3 3150.8 1646.6 3151.6 C1651.9 3152.5 1657.7 3153.3 1663.2 3155 C1668.8 3156.6 1674.3 3159.6 1679.9 3161.6 C1685.4 3163.7 1691 3165.4 1696.5 3167.3 C1702.1 3169.1 1707.1 3171.1 1713.2 3172.6 C1719.3 3174.2 1726.5 3175.5 1733.2 3176.6 C1739.9 3177.7 1746.5 3178 1753.2 3179.3 C1759.8 3180.5 1766.5 3181.9 1773.2 3183.9 C1779.8 3186 1786.5 3188.6 1793.2 3191.6 C1799.8 3194.5 1806.5 3198 1813.1 3201.6 C1819.8 3205.2 1826.5 3209.4 1833.1 3213.2 C1839.8 3217.1 1846.4 3221 1853.1 3224.9 C1859.8 3228.8 1867 3233.2 1873.1 3236.6 C1879.2 3239.9 1884.2 3242.4 1889.8 3244.9 C1895.3 3247.4 1901.4 3249.6 1906.4 3251.6 C1911.4 3253.5 1917.5 3255.7 1919.7 3256.5 L2019.7 3213.2 L1986.4 3146.6 L1653.2 3096.7Z" fill="#ff0000"/><path d="M1631.6 3116.6 C1631 3117.8 1629.9 3121.1 1628.3 3123.3 C1626.6 3125.5 1623.3 3127.5 1621.6 3130 C1619.9 3132.5 1618.3 3135.8 1618.3 3138.3 C1618.3 3140.8 1619.4 3143 1621.6 3145 C1623.8 3146.9 1627.4 3148.8 1631.6 3150 C1635.8 3151.1 1641.3 3150.8 1646.6 3151.6 C1651.9 3152.5 1657.7 3153.3 1663.2 3155 C1668.8 3156.6 1674.3 3159.6 1679.9 3161.6 C1685.4 3163.7 1691 3165.4 1696.5 3167.3 C1702.1 3169.1 1707.1 3171.1 1713.2 3172.6 C1719.3 3174.2 1726.5 3175.5 1733.2 3176.6 C1739.9 3177.7 1746.5 3178 1753.2 3179.3 C1759.8 3180.5 1766.5 3181.9 1773.2 3183.9 C1779.8 3186 1786.5 3188.6 1793.2 3191.6 C1799.8 3194.5 1806.5 3198 1813.1 3201.6 C1819.8 3205.2 1826.5 3209.4 1833.1 3213.2 C1839.8 3217.1 1846.4 3221 1853.1 3224.9 C1859.8 3228.8 1867 3233.2 1873.1 3236.6 C1879.2 3239.9 1884.2 3242.4 1889.8 3244.9 C1895.3 3247.4 1901.4 3249.6 1906.4 3251.6 C1911.4 3253.5 1917.5 3255.7 1919.7 3256.5" fill="none" stroke="#000" stroke-width="3" stroke-linejoin="round" stroke-linecap="round"/>
<path d="M1726.5 3140 C1727.6 3141.1 1727.6 3143.3 1733.2 3146.6 C1738.7 3150 1751 3155.8 1759.8 3159.9 C1768.7 3164.1 1777.6 3167.7 1786.5 3171.6 C1795.4 3175.5 1804.3 3179.1 1813.1 3183.3 C1822 3187.4 1830.9 3192.1 1839.8 3196.6 C1848.7 3201 1857.6 3205.5 1866.4 3209.9 C1875.3 3214.4 1884.2 3219.1 1893.1 3223.2 C1902 3227.4 1913.1 3232.1 1919.7 3234.9 C1926.4 3237.7 1928.6 3238.2 1933.1 3239.9 C1937.5 3241.6 1944.2 3244.1 1946.4 3244.9 L2019.7 3213.2 L1986.4 3146.6 L1726.5 3113.3Z" fill="#e00000"/>
<path d="M1863.1 3169.9 C1864.2 3171.1 1864.8 3173.3 1869.8 3176.6 C1874.8 3179.9 1885.3 3185.5 1893.1 3189.9 C1900.9 3194.4 1908.6 3198.8 1916.4 3203.3 C1924.2 3207.7 1933.6 3213.5 1939.7 3216.6 C1945.8 3219.6 1948.6 3219.9 1953 3221.6 C1957.5 3223.2 1964.1 3225.7 1966.4 3226.6 L2019.7 3213.2 L1986.4 3163.3 L1863.1 3146.6Z" fill="#b40000"/>
<path d="M1886.4 3176.6 C1887.5 3177.7 1888.6 3180.5 1893.1 3183.3 C1897.5 3186 1906.4 3189.9 1913.1 3193.3 C1919.7 3196.6 1926.4 3200.2 1933.1 3203.3 C1939.7 3206.3 1947.5 3209.9 1953 3211.6 C1958.6 3213.2 1961.9 3212.4 1966.4 3213.2 C1970.8 3214.1 1977.5 3216 1979.7 3216.6 L2019.7 3213.2 L1986.4 3163.3 L1886.4 3146.6Z" fill="#7a0000"/>
<path d="M1866.4 3291.5 C1864.2 3291.1 1858.7 3290 1853.1 3289.2 C1847.6 3288.4 1840.3 3287.4 1833.1 3286.5 C1825.9 3285.6 1817.6 3284.4 1809.8 3283.9 C1802 3283.3 1793.2 3282.8 1786.5 3283.2 C1779.8 3283.6 1774.3 3283.8 1769.8 3286.5 C1765.4 3289.3 1762.9 3294.3 1759.8 3299.9 C1756.8 3305.4 1754.3 3313.2 1751.5 3319.8 C1748.7 3326.5 1746.2 3333.2 1743.2 3339.8 C1740.1 3346.5 1736 3354.3 1733.2 3359.8 C1730.4 3365.4 1728.2 3370 1726.5 3373.1 C1724.9 3376.3 1724.3 3376.6 1723.2 3378.8 C1722.1 3381 1720.4 3385.2 1719.9 3386.5 L1819.8 3396.5 L1886.4 3313.2Z" fill="#ffff00"/>
<pattern id="m23" width="1" height="1" patternUnits="userSpaceOnUse" patternTransform="matrix(8.8 2.6 7.1 -3.4 1264 3261.5)"><path d="M0 0H1M0 0V1" stroke="#3a3000" stroke-opacity="0.2" stroke-width="0.11" fill="none"/></pattern><rect x="1262" y="3109.5" width="720.5" height="284" fill="url(#m23)"/>
</g>
<g opacity="0.26"><line x1="1313" y1="3237.9" x2="1750.5" y2="3359" stroke="#fff" stroke-width="1.8"/><line x1="1361.7" y1="3214.6" x2="1792.1" y2="3330.5" stroke="#fff" stroke-width="1.8"/><line x1="1409.7" y1="3191.4" x2="1835.5" y2="3300.8" stroke="#fff" stroke-width="1.8"/><line x1="1456.2" y1="3169.1" x2="1874.5" y2="3274.1" stroke="#fff" stroke-width="1.8"/><line x1="1499.2" y1="3148.4" x2="1908.9" y2="3250.5" stroke="#fff" stroke-width="1.8"/><line x1="1538.6" y1="3129.5" x2="1945.5" y2="3225.4" stroke="#fff" stroke-width="1.8"/><line x1="1339.9" y1="3284" x2="1650" y2="3128" stroke="#fff" stroke-width="1.8"/><line x1="1425.1" y1="3309.2" x2="1726.5" y2="3145" stroke="#fff" stroke-width="1.8"/><line x1="1514.2" y1="3335.6" x2="1805.8" y2="3162.6" stroke="#fff" stroke-width="1.8"/><line x1="1606.4" y1="3362.9" x2="1892.3" y2="3181.9" stroke="#fff" stroke-width="1.8"/></g>
<polyline points="1264,3261.5 1576,3111.5 1980.5,3201.5" fill="none" stroke="#2a2a2a" stroke-width="1.3" stroke-linejoin="round"/>
<clipPath id="c24"><path d="M1520 2919.9 C1520 2915.7 1528.3 2913.5 1533.3 2911.5 C1538.3 2909.6 1545 2909.9 1550 2908.2 C1555 2906.5 1558.8 2904.6 1563.3 2901.5 C1567.7 2898.5 1572.2 2894.6 1576.6 2889.9 C1581.1 2885.2 1585.5 2878.8 1589.9 2873.2 C1594.4 2867.7 1599.4 2861.1 1603.3 2856.6 C1607.2 2852 1609.4 2850.9 1613.3 2845.9 C1617.1 2840.9 1622.1 2832.6 1626.6 2826.6 C1631 2820.6 1636.3 2814.4 1639.9 2809.9 C1643.5 2805.5 1644.9 2803.6 1648.2 2799.9 C1651.6 2796.3 1655.2 2791.9 1659.9 2788.3 C1664.6 2784.7 1670.4 2781.1 1676.5 2778.3 C1682.7 2775.5 1689.9 2773.3 1696.5 2771.6 C1703.2 2770 1709.9 2768.5 1716.5 2768.3 C1723.2 2768.1 1729.8 2769 1736.5 2770.6 C1743.2 2772.3 1749.8 2774.8 1756.5 2778.3 C1763.2 2781.8 1769.8 2787.7 1776.5 2791.6 C1783.1 2795.5 1789.8 2799.2 1796.5 2801.6 C1803.1 2804 1809.8 2805.1 1816.5 2805.9 C1823.1 2806.8 1829.8 2806.9 1836.4 2806.6 C1843.1 2806.3 1849.8 2805.7 1856.4 2804.3 C1863.1 2802.9 1869.8 2800.9 1876.4 2798.3 C1883.1 2795.6 1889.7 2792 1896.4 2788.3 C1903.1 2784.6 1909.7 2780.4 1916.4 2776 C1923.1 2771.5 1929.7 2766.5 1936.4 2761.6 C1943 2756.8 1949.7 2751.6 1956.4 2746.6 C1963 2741.7 1970.1 2736.1 1976.3 2731.7 C1982.6 2727.2 1991.1 2721.9 1994 2720 C1996.9 2718.1 1995.3 2716.7 1994 2720 C1992.7 2723.3 1989.3 2732.2 1986.3 2740 C1983.4 2747.8 1979.7 2757.8 1976.3 2766.6 C1973 2775.5 1969.7 2784.4 1966.4 2793.3 C1963 2802.2 1959.7 2811.6 1956.4 2819.9 C1953 2828.3 1949.7 2835.5 1946.4 2843.3 C1943 2851 1940 2858.2 1936.4 2866.6 C1932.8 2874.9 1928.6 2884.3 1924.7 2893.2 C1920.8 2902.1 1916.7 2911 1913.1 2919.9 C1909.4 2928.7 1906.4 2938.2 1903.1 2946.5 C1899.7 2954.8 1896.4 2962.1 1893.1 2969.8 C1889.7 2977.6 1887 2985.4 1883.1 2993.2 C1879.2 3000.9 1874.8 3009.3 1869.8 3016.5 C1864.8 3023.7 1858.6 3029.8 1853.1 3036.5 C1847.5 3043.1 1842 3050.6 1836.4 3056.4 C1830.9 3062.3 1825.9 3066.7 1819.8 3071.4 C1813.7 3076.2 1806.5 3081.1 1799.8 3084.8 C1793.1 3088.4 1786.5 3090.9 1779.8 3093.1 C1773.2 3095.3 1766.5 3096.9 1759.8 3098.1 C1753.2 3099.3 1745.9 3100 1739.8 3100.4 C1733.7 3100.8 1728.7 3100.8 1723.2 3100.4 C1717.6 3100 1709.3 3098.5 1706.5 3098.1 C1703.8 3097.7 1708.7 3100.3 1706.5 3098.1 C1704.3 3095.9 1697.6 3089.8 1693.2 3084.8 C1688.8 3079.8 1684.3 3073.4 1679.9 3068.1 C1675.4 3062.8 1671 3058.4 1666.6 3053.1 C1662.1 3047.8 1657.7 3042 1653.2 3036.5 C1648.8 3030.9 1643.8 3024.8 1639.9 3019.8 C1636 3014.8 1633.5 3010.4 1629.9 3006.5 C1626.3 3002.6 1626 3003.1 1618.3 2996.5 C1610.5 2989.8 1597.4 2976.5 1583.3 2966.5 C1569.1 2956.5 1543.9 2944.3 1533.3 2936.5 C1522.8 2928.7 1520 2924 1520 2919.9Z"/></clipPath>
<g clip-path="url(#c24)">
<rect x="1518" y="2718" width="478" height="384.4" fill="#ebe010"/>
<path d="M1566.6 2886.6 C1568.3 2887.2 1572.2 2888.3 1576.6 2890.6 C1581.1 2892.8 1587.2 2897.9 1593.3 2899.9 C1599.4 2901.9 1606.6 2901.9 1613.3 2902.5 C1619.9 2903.2 1626.6 2903.5 1633.2 2903.9 C1639.9 2904.3 1646.6 2904.2 1653.2 2904.9 C1659.9 2905.6 1666.6 2906.3 1673.2 2908.2 C1679.9 2910.2 1686.5 2913.9 1693.2 2916.5 C1699.9 2919.1 1705.4 2921.6 1713.2 2923.9 C1721 2926.1 1731 2927.9 1739.8 2929.9 C1748.7 2931.9 1757.6 2933.7 1766.5 2935.9 C1775.4 2938 1784.3 2940.1 1793.1 2942.5 C1802 2945 1810.9 2947.7 1819.8 2950.5 C1828.7 2953.3 1838.1 2956.4 1846.4 2959.2 C1854.8 2961.9 1862.5 2964.8 1869.8 2967.2 C1877 2969.5 1882.5 2970.9 1889.7 2973.2 C1897 2975.4 1909.2 2979.3 1913.1 2980.5 L2016.3 2979.8 L2016.3 2703.3 L1566.6 2703.3Z" fill="#f8ae1a"/>
<path d="M1599.9 2842.6 C1602.2 2843.3 1607.7 2845.1 1613.3 2846.6 C1618.8 2848.1 1625.5 2849.9 1633.2 2851.6 C1641 2853.2 1651 2854.6 1659.9 2856.6 C1668.8 2858.5 1677.7 2861 1686.5 2863.2 C1695.4 2865.5 1704.3 2868 1713.2 2869.9 C1722.1 2871.8 1731 2873.5 1739.8 2874.9 C1748.7 2876.3 1757.6 2876.8 1766.5 2878.2 C1775.4 2879.6 1784.3 2881.3 1793.1 2883.2 C1802 2885.2 1810.9 2887.4 1819.8 2889.9 C1828.7 2892.4 1837.6 2895.4 1846.4 2898.2 C1855.3 2901 1864.8 2903.9 1873.1 2906.5 C1881.4 2909.2 1889.7 2912 1896.4 2914.2 C1903.1 2916.4 1907 2917.8 1913.1 2919.9 C1919.2 2921.9 1929.7 2925.4 1933 2926.5 L2016.3 2919.9 L2016.3 2703.3 L1599.9 2703.3Z" fill="#ff5a00"/>
<path d="M1636.6 2796.6 C1638.5 2797.3 1643.2 2799.2 1648.2 2800.9 C1653.2 2802.7 1659.6 2805.1 1666.6 2807.3 C1673.5 2809.4 1681.5 2811.9 1689.9 2813.9 C1698.2 2815.9 1707.6 2818 1716.5 2819.3 C1725.4 2820.5 1734.3 2821.2 1743.2 2821.6 C1752.1 2822 1760.9 2821.2 1769.8 2821.6 C1778.7 2822 1787.6 2822.5 1796.5 2823.9 C1805.4 2825.3 1814.2 2827.5 1823.1 2829.9 C1832 2832.3 1840.9 2835.2 1849.8 2838.3 C1858.6 2841.3 1867.5 2845.1 1876.4 2848.2 C1885.3 2851.4 1895.3 2854.6 1903.1 2857.2 C1910.8 2859.9 1917.8 2862.3 1923.1 2863.9 C1928.3 2865.5 1929.7 2865.3 1934.7 2866.6 C1939.7 2867.8 1950 2870.7 1953 2871.6 L2016.3 2869.9 L2016.3 2703.3 L1636.6 2703.3Z" fill="#ff0000"/><path d="M1636.6 2796.6 C1638.5 2797.3 1643.2 2799.2 1648.2 2800.9 C1653.2 2802.7 1659.6 2805.1 1666.6 2807.3 C1673.5 2809.4 1681.5 2811.9 1689.9 2813.9 C1698.2 2815.9 1707.6 2818 1716.5 2819.3 C1725.4 2820.5 1734.3 2821.2 1743.2 2821.6 C1752.1 2822 1760.9 2821.2 1769.8 2821.6 C1778.7 2822 1787.6 2822.5 1796.5 2823.9 C1805.4 2825.3 1814.2 2827.5 1823.1 2829.9 C1832 2832.3 1840.9 2835.2 1849.8 2838.3 C1858.6 2841.3 1867.5 2845.1 1876.4 2848.2 C1885.3 2851.4 1895.3 2854.6 1903.1 2857.2 C1910.8 2859.9 1917.8 2862.3 1923.1 2863.9 C1928.3 2865.5 1929.7 2865.3 1934.7 2866.6 C1939.7 2867.8 1950 2870.7 1953 2871.6" fill="none" stroke="#4a4a30" stroke-width="1.2" stroke-linejoin="round" stroke-linecap="round"/>
<path d="M1886.4 2783.3 C1888.1 2784.1 1892.5 2786.3 1896.4 2788.3 C1900.3 2790.2 1904.7 2792.5 1909.7 2795 C1914.7 2797.4 1920.8 2800.5 1926.4 2803.3 C1931.9 2806.1 1938.3 2809.7 1943 2811.6 C1947.8 2813.5 1949.7 2813.5 1954.7 2814.9 C1959.7 2816.3 1970 2819.1 1973 2819.9 L2016.3 2819.9 L2016.3 2703.3 L1886.4 2703.3Z" fill="#e00000"/>
<path d="M1939.7 2746.6 C1941.4 2747.5 1945.8 2749.7 1949.7 2751.6 C1953.6 2753.6 1958.6 2756.1 1963 2758.3 C1967.5 2760.5 1971.4 2762.7 1976.3 2765 C1981.3 2767.2 1990.2 2770.5 1993 2771.6 L2016.3 2770 L2016.3 2703.3 L1939.7 2703.3Z" fill="#7a0000"/>
<path d="M1599.9 2971.5 C1602.2 2972.3 1607.7 2974.6 1613.3 2976.5 C1618.8 2978.4 1627.1 2980.9 1633.2 2983.2 C1639.4 2985.4 1644.9 2987 1649.9 2989.8 C1654.9 2992.6 1659.6 2995.9 1663.2 2999.8 C1666.8 3003.7 1669.6 3008.7 1671.6 3013.1 C1673.5 3017.6 1674.9 3022 1674.9 3026.5 C1674.9 3030.9 1672.9 3035.3 1671.6 3039.8 C1670.2 3044.2 1667.9 3049.2 1666.6 3053.1 C1665.2 3057 1663.8 3061.4 1663.2 3063.1 L1599.9 3053.1 L1566.6 2953.2Z" fill="#f8ae1a"/>
<path d="M1593.3 2959.2 C1597.2 2957.1 1603.8 2957.3 1609.9 2957.2 C1616 2957 1623.8 2957.2 1629.9 2958.2 C1636 2959.2 1642.2 2961 1646.6 2963.2 C1650.9 2965.4 1654.5 2968.7 1655.9 2971.5 C1657.3 2974.3 1656.2 2977.6 1654.9 2979.8 C1653.6 2982 1651.8 2983.7 1648.2 2984.8 C1644.6 2985.9 1641.3 2986.8 1633.2 2986.5 C1625.2 2986.2 1607.7 2985.9 1599.9 2983.2 C1592.2 2980.4 1587.7 2973.8 1586.6 2969.8 C1585.5 2965.8 1589.4 2961.3 1593.3 2959.2Z" fill="#ffff00" stroke="#4a4a30" stroke-width="1.2" stroke-linejoin="round" stroke-linecap="round"/>
<path d="M1866.4 3038.1 C1864.2 3037.7 1858.6 3036.6 1853.1 3035.8 C1847.5 3035 1839.8 3034 1833.1 3033.1 C1826.4 3032.2 1819.8 3031.2 1813.1 3030.5 C1806.5 3029.7 1799.2 3029 1793.1 3028.8 C1787 3028.6 1780.9 3028.5 1776.5 3029.1 C1772 3029.7 1768.7 3030.7 1766.5 3032.5 C1764.3 3034.2 1764.8 3037.7 1763.2 3039.8 C1761.5 3041.8 1759.3 3042.6 1756.5 3044.8 C1753.7 3047 1749.6 3049.5 1746.5 3053.1 C1743.4 3056.7 1740.7 3062 1738.2 3066.4 C1735.7 3070.9 1733.5 3075.6 1731.5 3079.8 C1729.6 3083.9 1727.9 3088 1726.5 3091.4 C1725.1 3094.9 1724 3097.4 1723.2 3100.4 C1722.4 3103.5 1721.8 3108.2 1721.5 3109.7 L1833.1 3136.4 L1899.7 3053.1Z" fill="#ffff00"/><path d="M1866.4 3038.1 C1864.2 3037.7 1858.6 3036.6 1853.1 3035.8 C1847.5 3035 1839.8 3034 1833.1 3033.1 C1826.4 3032.2 1819.8 3031.2 1813.1 3030.5 C1806.5 3029.7 1799.2 3029 1793.1 3028.8 C1787 3028.6 1780.9 3028.5 1776.5 3029.1 C1772 3029.7 1768.7 3030.7 1766.5 3032.5 C1764.3 3034.2 1764.8 3037.7 1763.2 3039.8 C1761.5 3041.8 1759.3 3042.6 1756.5 3044.8 C1753.7 3047 1749.6 3049.5 1746.5 3053.1 C1743.4 3056.7 1740.7 3062 1738.2 3066.4 C1735.7 3070.9 1733.5 3075.6 1731.5 3079.8 C1729.6 3083.9 1727.9 3088 1726.5 3091.4 C1725.1 3094.9 1724 3097.4 1723.2 3100.4 C1722.4 3103.5 1721.8 3108.2 1721.5 3109.7" fill="none" stroke="#4a4a30" stroke-width="1.2" stroke-linejoin="round" stroke-linecap="round"/>
<pattern id="m25" width="1" height="1" patternUnits="userSpaceOnUse" patternTransform="matrix(9.5 2.4 5.5 -7.5 0 0)"><path d="M0 0H1M0 0V1" stroke="#3a3000" stroke-opacity="0.14" stroke-width="0.11" fill="none"/></pattern><rect x="1518" y="2718" width="478" height="384.4" fill="url(#m25)"/>
</g>
<clipPath id="c26"><path d="M1256.6 3134.8 C1254.4 3138.4 1255.8 3138.4 1256.6 3134.8 C1257.5 3131.2 1259.8 3121.2 1261.6 3113.1 C1263.4 3105.1 1265.3 3095.9 1267.3 3086.5 C1269.2 3077 1271.2 3067.3 1273.3 3056.5 C1275.4 3045.7 1277.7 3032.1 1279.9 3021.5 C1282.2 3011 1284.7 3000.7 1286.6 2993.2 C1288.5 2985.7 1289.9 2982.6 1291.6 2976.5 C1293.3 2970.4 1294.9 2962.9 1296.6 2956.5 C1298.3 2950.2 1299.6 2944.9 1301.6 2938.2 C1303.5 2931.6 1305.5 2923.5 1308.3 2916.6 C1311 2909.6 1314.6 2903.5 1318.2 2896.6 C1321.9 2889.6 1325.7 2881.9 1329.9 2874.9 C1334.1 2868 1338.2 2861.3 1343.2 2855 C1348.2 2848.6 1354.3 2841.5 1359.9 2836.6 C1365.4 2831.8 1370.4 2828.5 1376.5 2826 C1382.6 2823.5 1389.9 2821.8 1396.5 2821.6 C1403.2 2821.5 1410.4 2822.7 1416.5 2825 C1422.6 2827.2 1427.6 2831.1 1433.2 2835 C1438.7 2838.8 1444.3 2843.6 1449.8 2848.3 C1455.4 2853 1460.4 2858 1466.5 2863.3 C1472.6 2868.6 1478.4 2873.8 1486.5 2879.9 C1494.5 2886 1506.8 2894.6 1514.8 2899.9 C1522.7 2905.2 1527.8 2907 1534.1 2911.6 C1540.4 2916.1 1546.8 2922.2 1552.4 2927.2 C1558.1 2932.2 1562.9 2937.2 1568.1 2941.6 C1573.3 2945.9 1579 2949.8 1583.7 2953.2 C1588.5 2956.7 1592.4 2959.2 1596.7 2962.2 C1601.1 2965.2 1606.7 2968.2 1609.7 2971.2 C1612.7 2974.2 1613.3 2976.9 1614.7 2980.2 C1616.1 2983.5 1617.4 2988 1618 2990.9 C1618.7 2993.7 1618.6 2996.1 1618.7 2997.2 C1618.8 2998.2 1619.7 2996.6 1618.7 2997.2 C1617.8 2997.7 1616.8 2999.1 1613.1 3000.5 C1609.3 3001.9 1603.1 3004.4 1596.4 3005.5 C1589.7 3006.6 1580.3 3007.5 1573.1 3007.2 C1565.9 3006.9 1559.2 3005.5 1553.1 3003.9 C1547 3002.2 1543.1 3000.1 1536.4 2997.2 C1529.8 2994.3 1520.9 2990 1513.1 2986.5 C1505.3 2983.1 1497.6 2979.9 1489.8 2976.5 C1482 2973.2 1474.3 2969.6 1466.5 2966.5 C1458.7 2963.5 1450.9 2960.5 1443.2 2958.2 C1435.4 2955.9 1427.6 2953.8 1419.8 2952.6 C1412.1 2951.3 1403.7 2950.4 1396.5 2950.6 C1389.3 2950.7 1382.1 2951.7 1376.5 2953.2 C1371 2954.8 1367.1 2957.1 1363.2 2959.9 C1359.3 2962.7 1356.6 2966 1353.2 2969.9 C1349.9 2973.8 1347.1 2978.2 1343.2 2983.2 C1339.3 2988.2 1334.3 2993.7 1329.9 2999.9 C1325.5 3006 1321 3012.1 1316.6 3019.8 C1312.1 3027.6 1308.3 3036.5 1303.3 3046.5 C1298.3 3056.5 1292.2 3068.7 1286.6 3079.8 C1281.1 3090.9 1274.9 3104 1269.9 3113.1 C1265 3122.3 1258.8 3131.2 1256.6 3134.8Z"/></clipPath>
<g clip-path="url(#c26)">
<rect x="1254.6" y="2819.6" width="366.1" height="317.1" fill="#ebe010"/>
<path d="M1269.9 3026.5 C1271.6 3025.5 1275.5 3022.7 1279.9 3020.5 C1284.4 3018.3 1290.5 3016.3 1296.6 3013.2 C1302.7 3010 1310.5 3005.4 1316.6 3001.5 C1322.7 2997.6 1328.2 2993.5 1333.2 2989.9 C1338.2 2986.3 1342.7 2983.2 1346.6 2979.9 C1350.4 2976.5 1354.9 2971.5 1356.6 2969.9 L1423.2 2969.9 L1423.2 3179.7 L1223.3 3179.7 L1223.3 3046.5Z" fill="#ffff00"/><path d="M1269.9 3026.5 C1271.6 3025.5 1275.5 3022.7 1279.9 3020.5 C1284.4 3018.3 1290.5 3016.3 1296.6 3013.2 C1302.7 3010 1310.5 3005.4 1316.6 3001.5 C1322.7 2997.6 1328.2 2993.5 1333.2 2989.9 C1338.2 2986.3 1342.7 2983.2 1346.6 2979.9 C1350.4 2976.5 1354.9 2971.5 1356.6 2969.9" fill="none" stroke="#4a4a30" stroke-width="1.2" stroke-linejoin="round" stroke-linecap="round"/>
<path d="M1263.3 3063.1 C1265 3062.3 1268.8 3060.6 1273.3 3058.1 C1277.7 3055.6 1284.4 3051.8 1289.9 3048.2 C1295.5 3044.5 1303 3039 1306.6 3036.5 C1310.2 3034 1308.8 3035.1 1311.6 3033.2 C1314.4 3031.2 1321.3 3026.2 1323.2 3024.8 L1423.2 3013.2 L1423.2 3179.7 L1223.3 3179.7 L1223.3 3079.8Z" fill="#0080ff"/>
<path d="M1258.3 3081.5 C1260 3080.6 1264.1 3078.7 1268.3 3076.5 C1272.4 3074.2 1278.3 3071 1283.3 3068.1 C1288.3 3065.3 1293.8 3061.9 1298.3 3059.1 C1302.7 3056.4 1308 3052.8 1309.9 3051.5 L1423.2 3046.5 L1423.2 3179.7 L1223.3 3179.7 L1223.3 3096.5Z" fill="#3700ff"/>
<path d="M1255 3103.1 C1256.5 3102.3 1260.3 3100.3 1264 3098.1 C1267.6 3095.9 1272.6 3092.6 1276.6 3089.8 C1280.7 3087 1284.4 3084.2 1288.3 3081.5 C1292.2 3078.7 1298 3074.5 1299.9 3073.1 L1423.2 3063.1 L1423.2 3179.7 L1223.3 3179.7 L1223.3 3113.1Z" fill="#800080"/>
<path d="M1529.8 2991.5 C1530.9 2992.1 1532 2993.5 1536.4 2994.9 C1540.9 2996.2 1549.2 2998.6 1556.4 2999.9 C1563.6 3001.1 1572 3002.2 1579.7 3002.2 C1587.5 3002.2 1596.4 3001.1 1603.1 2999.9 C1609.7 2998.6 1615.8 2996 1619.7 2994.9 C1623.6 2993.7 1625.3 2993.5 1626.4 2993.2 L1626.4 3019.8 L1529.8 3019.8Z" fill="#ffff00"/><path d="M1529.8 2991.5 C1530.9 2992.1 1532 2993.5 1536.4 2994.9 C1540.9 2996.2 1549.2 2998.6 1556.4 2999.9 C1563.6 3001.1 1572 3002.2 1579.7 3002.2 C1587.5 3002.2 1596.4 3001.1 1603.1 2999.9 C1609.7 2998.6 1615.8 2996 1619.7 2994.9 C1623.6 2993.7 1625.3 2993.5 1626.4 2993.2" fill="none" stroke="#4a4a30" stroke-width="1.2" stroke-linejoin="round" stroke-linecap="round"/>
<path d="M1283.3 2981.5 C1284.7 2981 1287.2 2979.9 1291.6 2978.2 C1296 2976.5 1303.5 2974 1309.9 2971.5 C1316.3 2969 1323.8 2965.7 1329.9 2963.2 C1336 2960.7 1341 2958.5 1346.6 2956.5 C1352.1 2954.6 1356 2952.9 1363.2 2951.6 C1370.4 2950.2 1379.9 2948.9 1389.9 2948.6 C1399.9 2948.2 1412.6 2948.9 1423.2 2949.2 C1433.7 2949.6 1443.7 2949.7 1453.2 2950.6 C1462.6 2951.4 1473.2 2952.6 1479.8 2954.6 C1486.4 2956.5 1488.5 2959.9 1492.8 2962.2 C1497.1 2964.5 1500.4 2966.6 1505.8 2968.5 C1511.2 2970.5 1518.6 2972.5 1525.1 2973.9 C1531.6 2975.2 1538.3 2976 1544.8 2976.5 C1551.3 2977.1 1557.6 2977 1564.1 2977.2 C1570.6 2977.4 1577.2 2977.1 1583.7 2977.5 C1590.2 2978 1597.6 2977.3 1603.1 2979.9 C1608.5 2982.5 1613.1 2989.3 1616.4 2993.2 C1619.7 2997.1 1621.9 3001.5 1623 3003.2 L1656.4 3003.2 L1656.4 2780 L1223.3 2780 L1223.3 2986.5Z" fill="#f8ae1a"/>
<path d="M1289.9 2943.2 C1291.9 2942.6 1296 2940.8 1301.6 2939.2 C1307.1 2937.7 1315.2 2935.6 1323.2 2933.9 C1331.3 2932.2 1341 2930.5 1349.9 2929.2 C1358.8 2928 1367.1 2927 1376.5 2926.6 C1386 2926.1 1396.5 2926.1 1406.5 2926.6 C1416.5 2927 1426.5 2928 1436.5 2929.2 C1446.5 2930.5 1456 2931.8 1466.5 2933.9 C1476.9 2936 1490.4 2939.6 1499.1 2941.6 C1507.8 2943.6 1512.3 2944.7 1518.8 2945.9 C1525.3 2947.1 1531.6 2947.9 1538.1 2948.6 C1544.6 2949.2 1551.9 2949.3 1557.8 2949.9 C1563.6 2950.4 1568.7 2950.5 1573.1 2951.9 C1577.4 2953.3 1580.2 2955.4 1583.7 2958.2 C1587.2 2961 1590.6 2964.9 1594.1 2968.5 C1597.5 2972.2 1601.2 2976.5 1604.4 2980.2 C1607.6 2983.9 1611 2988 1613.4 2990.9 C1615.8 2993.7 1617.1 2995.1 1618.7 2997.2 C1620.3 2999.2 1622.3 3002.2 1623 3003.2 L1656.4 3003.2 L1656.4 2780 L1223.3 2780 L1223.3 2946.6Z" fill="#ff5a00"/>
<path d="M1306.6 2899.3 C1308.5 2898.9 1312.7 2898 1318.2 2897.3 C1323.8 2896.5 1331.8 2895.6 1339.9 2894.9 C1348 2894.3 1357.1 2893.5 1366.5 2893.3 C1376 2893 1387.1 2893 1396.5 2893.3 C1406 2893.5 1414.3 2893.9 1423.2 2894.9 C1432.1 2895.9 1440.4 2897.3 1449.8 2899.3 C1459.3 2901.2 1471.6 2904.2 1479.8 2906.6 C1488 2909 1492.6 2911.6 1499.1 2913.6 C1505.6 2915.6 1512.7 2917.1 1518.8 2918.6 C1524.8 2920.1 1530.7 2921.1 1535.4 2922.6 C1540.2 2924 1543.4 2925.4 1547.1 2927.2 C1550.8 2929.1 1555 2931.5 1557.8 2933.6 C1560.5 2935.6 1561.7 2937.4 1563.4 2939.6 C1565.1 2941.7 1567.3 2945.4 1568.1 2946.6 L1656.4 2939.9 L1656.4 2780 L1223.3 2780 L1223.3 2899.9Z" fill="#ff0000"/><path d="M1306.6 2899.3 C1308.5 2898.9 1312.7 2898 1318.2 2897.3 C1323.8 2896.5 1331.8 2895.6 1339.9 2894.9 C1348 2894.3 1357.1 2893.5 1366.5 2893.3 C1376 2893 1387.1 2893 1396.5 2893.3 C1406 2893.5 1414.3 2893.9 1423.2 2894.9 C1432.1 2895.9 1440.4 2897.3 1449.8 2899.3 C1459.3 2901.2 1471.6 2904.2 1479.8 2906.6 C1488 2909 1492.6 2911.6 1499.1 2913.6 C1505.6 2915.6 1512.7 2917.1 1518.8 2918.6 C1524.8 2920.1 1530.7 2921.1 1535.4 2922.6 C1540.2 2924 1543.4 2925.4 1547.1 2927.2 C1550.8 2929.1 1555 2931.5 1557.8 2933.6 C1560.5 2935.6 1561.7 2937.4 1563.4 2939.6 C1565.1 2941.7 1567.3 2945.4 1568.1 2946.6" fill="none" stroke="#4a4a30" stroke-width="1.2" stroke-linejoin="round" stroke-linecap="round"/>
<path d="M1333.2 2850.6 C1335.5 2851 1341.6 2851.7 1346.6 2852.6 C1351.6 2853.5 1356 2854.8 1363.2 2855.9 C1370.4 2857.1 1381 2858.6 1389.9 2859.3 C1398.7 2859.9 1408.2 2859.6 1416.5 2859.9 C1424.8 2860.3 1432.6 2860.2 1439.8 2861.6 C1447.1 2863 1454.3 2866.1 1459.8 2868.3 C1465.4 2870.5 1468.1 2871.9 1473.1 2874.9 C1478.1 2878 1487 2884.7 1489.8 2886.6 L1656.4 2886.6 L1656.4 2780 L1223.3 2780 L1223.3 2850Z" fill="#e00000"/>
<pattern id="m27" width="1" height="1" patternUnits="userSpaceOnUse" patternTransform="matrix(9 1.5 1.5 -9.5 0 0)"><path d="M0 0H1M0 0V1" stroke="#3a3000" stroke-opacity="0.14" stroke-width="0.11" fill="none"/></pattern><rect x="1254.6" y="2819.6" width="366.1" height="317.1" fill="url(#m27)"/>
</g>
<polyline points="1232.5,2739 1264,3261.5 1703,3391.5 1980.5,3201.5" fill="none" stroke="#000" stroke-width="2.6" stroke-linejoin="round"/>
<line x1="1235" y1="2805" x2="1226" y2="2808" stroke="#000" stroke-width="2.2"/>
<text transform="matrix(0.970 -0.242 0.165 1.340 1202.6 2834.5)" font-size="33" text-anchor="middle" font-weight="bold">0.5</text>
<line x1="1240" y1="2892.5" x2="1231" y2="2895.5" stroke="#000" stroke-width="2.2"/>
<text transform="matrix(0.970 -0.242 0.165 1.340 1208.6 2920.5)" font-size="33" text-anchor="middle" font-weight="bold">0.4</text>
<line x1="1246" y1="2978" x2="1237" y2="2981" stroke="#000" stroke-width="2.2"/>
<text transform="matrix(0.970 -0.242 0.165 1.340 1215.1 3007)" font-size="33" text-anchor="middle" font-weight="bold">0.3</text>
<line x1="1251" y1="3060" x2="1242" y2="3063" stroke="#000" stroke-width="2.2"/>
<text transform="matrix(0.970 -0.242 0.165 1.340 1221.1 3089.5)" font-size="33" text-anchor="middle" font-weight="bold">0.2</text>
<line x1="1256.5" y1="3141.5" x2="1247.5" y2="3144.5" stroke="#000" stroke-width="2.2"/>
<text transform="matrix(0.970 -0.242 0.165 1.340 1227.6 3172)" font-size="33" text-anchor="middle" font-weight="bold">0.1</text>
<line x1="1261" y1="3221.5" x2="1252" y2="3224.5" stroke="#000" stroke-width="2.2"/>
<text transform="matrix(0.970 -0.242 0.165 1.340 1231.6 3253.5)" font-size="33" text-anchor="middle" font-weight="bold">0.0</text>
<line x1="1264" y1="3261.5" x2="1257" y2="3266.5" stroke="#000" stroke-width="2.2"/>
<text transform="matrix(0.857 -0.515 0.951 0.309 1241 3287.5)" font-size="39.5" text-anchor="middle" font-weight="bold">950</text>
<line x1="1339.9" y1="3284" x2="1332.9" y2="3289" stroke="#000" stroke-width="2.2"/>
<text transform="matrix(0.857 -0.515 0.951 0.309 1313.5 3315)" font-size="39.5" text-anchor="middle" font-weight="bold">1000</text>
<line x1="1425.1" y1="3309.2" x2="1418.1" y2="3314.2" stroke="#000" stroke-width="2.2"/>
<text transform="matrix(0.857 -0.515 0.951 0.309 1398.5 3342.5)" font-size="39.5" text-anchor="middle" font-weight="bold">1050</text>
<line x1="1514.2" y1="3335.6" x2="1507.2" y2="3340.6" stroke="#000" stroke-width="2.2"/>
<text transform="matrix(0.857 -0.515 0.951 0.309 1486 3370)" font-size="39.5" text-anchor="middle" font-weight="bold">1100</text>
<line x1="1606.4" y1="3362.9" x2="1599.4" y2="3367.9" stroke="#000" stroke-width="2.2"/>
<text transform="matrix(0.857 -0.515 0.951 0.309 1578.5 3397.5)" font-size="39.5" text-anchor="middle" font-weight="bold">1150</text>
<line x1="1703" y1="3391.5" x2="1696" y2="3396.5" stroke="#000" stroke-width="2.2"/>
<text transform="matrix(0.857 -0.515 0.951 0.309 1678.5 3427.5)" font-size="39.5" text-anchor="middle" font-weight="bold">1200</text>
<line x1="1301.8" y1="3272.7" x2="1297.8" y2="3275.7" stroke="#000" stroke-width="2"/>
<line x1="1382.5" y1="3296.6" x2="1378.5" y2="3299.6" stroke="#000" stroke-width="2"/>
<line x1="1469.5" y1="3322.3" x2="1465.5" y2="3325.3" stroke="#000" stroke-width="2"/>
<line x1="1560.3" y1="3349.2" x2="1556.3" y2="3352.2" stroke="#000" stroke-width="2"/>
<line x1="1654.7" y1="3377.2" x2="1650.7" y2="3380.2" stroke="#000" stroke-width="2"/>
<line x1="1750.5" y1="3359" x2="1758.5" y2="3362" stroke="#000" stroke-width="2.2"/>
<text transform="matrix(0.959 0.284 -0.797 0.460 1775.5 3379)" font-size="38" text-anchor="middle" font-weight="bold">−6</text>
<line x1="1792.1" y1="3330.5" x2="1800.1" y2="3333.5" stroke="#000" stroke-width="2.2"/>
<text transform="matrix(0.959 0.284 -0.797 0.460 1818 3348)" font-size="38" text-anchor="middle" font-weight="bold">−5</text>
<line x1="1835.5" y1="3300.8" x2="1843.5" y2="3303.8" stroke="#000" stroke-width="2.2"/>
<text transform="matrix(0.959 0.284 -0.797 0.460 1860.5 3319)" font-size="38" text-anchor="middle" font-weight="bold">−4</text>
<line x1="1874.5" y1="3274.1" x2="1882.5" y2="3277.1" stroke="#000" stroke-width="2.2"/>
<text transform="matrix(0.959 0.284 -0.797 0.460 1897 3291.5)" font-size="38" text-anchor="middle" font-weight="bold">−3</text>
<line x1="1908.9" y1="3250.5" x2="1916.9" y2="3253.5" stroke="#000" stroke-width="2.2"/>
<text transform="matrix(0.959 0.284 -0.797 0.460 1930.5 3264)" font-size="38" text-anchor="middle" font-weight="bold">−2</text>
<line x1="1945.5" y1="3225.4" x2="1953.5" y2="3228.4" stroke="#000" stroke-width="2.2"/>
<text transform="matrix(0.959 0.284 -0.797 0.460 1963 3239)" font-size="38" text-anchor="middle" font-weight="bold">−1</text>
<line x1="1980.5" y1="3201.5" x2="1988.5" y2="3204.5" stroke="#000" stroke-width="2.2"/>
<text transform="matrix(0.959 0.284 -0.797 0.460 1999.5 3211)" font-size="38" text-anchor="middle" font-weight="bold">0</text>
<line x1="1726.6" y1="3375.3" x2="1730.6" y2="3376.8" stroke="#000" stroke-width="2"/>
<line x1="1771.3" y1="3344.8" x2="1775.3" y2="3346.3" stroke="#000" stroke-width="2"/>
<line x1="1814" y1="3315.5" x2="1818" y2="3317" stroke="#000" stroke-width="2"/>
<line x1="1855.1" y1="3287.4" x2="1859.1" y2="3288.9" stroke="#000" stroke-width="2"/>
<line x1="1891.7" y1="3262.3" x2="1895.7" y2="3263.8" stroke="#000" stroke-width="2"/>
<line x1="1927.2" y1="3238" x2="1931.2" y2="3239.5" stroke="#000" stroke-width="2"/>
<line x1="1963" y1="3213.5" x2="1967" y2="3215" stroke="#000" stroke-width="2"/>
<text transform="matrix(0.949 0.316 -0.780 0.488 1173.5 3331.5)" font-size="56.8" font-weight="bold">Temperature/°C</text>
<text transform="matrix(0.788 -0.616 1.281 0.392 1975.5 3310.5)" font-size="44" text-anchor="middle" font-weight="bold">lnε<tspan dx="-0.62em" dy="-0.28em" font-size="0.6em">˙</tspan></text>
<text transform="matrix(0.000 1.000 -1.000 -0.000 1125.5 3025)" font-size="66" font-weight="bold">η</text>
<rect x="2020.5" y="2696.5" width="47.5" height="52.5" fill="#2d0a60"/>
<rect x="2020.5" y="2748.5" width="47.5" height="50.5" fill="#7a0000"/>
<rect x="2020.5" y="2798.5" width="47.5" height="50.5" fill="#e00000"/>
<rect x="2020.5" y="2848.5" width="47.5" height="51" fill="#ff0000"/>
<rect x="2020.5" y="2899" width="47.5" height="51.5" fill="#ff5a00"/>
<rect x="2020.5" y="2950" width="47.5" height="52" fill="#f8ae1a"/>
<rect x="2020.5" y="3001.5" width="47.5" height="50.5" fill="#ebe010"/>
<rect x="2020.5" y="3051.5" width="47.5" height="50.5" fill="#ffff00"/>
<rect x="2020.5" y="3101.5" width="47.5" height="51.5" fill="#0080ff"/>
<rect x="2020.5" y="3152.5" width="47.5" height="52" fill="#3700ff"/>
<rect x="2020.5" y="3204" width="47.5" height="51.5" fill="#800080"/>
<rect x="2020.5" y="3255" width="47.5" height="52" fill="#000000"/>
<rect x="2020.5" y="2696.5" width="47.5" height="610" fill="none" stroke="#222" stroke-width="1.5"/>
<line x1="2068" y1="2748.5" x2="2082" y2="2748.5" stroke="#000" stroke-width="2"/>
<line x1="2068" y1="2790" x2="2082" y2="2790" stroke="#000" stroke-width="2"/>
<line x1="2068" y1="2831" x2="2082" y2="2831" stroke="#000" stroke-width="2"/>
<line x1="2068" y1="2872.5" x2="2082" y2="2872.5" stroke="#000" stroke-width="2"/>
<line x1="2068" y1="2914" x2="2082" y2="2914" stroke="#000" stroke-width="2"/>
<line x1="2068" y1="2956" x2="2082" y2="2956" stroke="#000" stroke-width="2"/>
<line x1="2068" y1="2997.5" x2="2082" y2="2997.5" stroke="#000" stroke-width="2"/>
<line x1="2068" y1="3039" x2="2082" y2="3039" stroke="#000" stroke-width="2"/>
<line x1="2068" y1="3080" x2="2082" y2="3080" stroke="#000" stroke-width="2"/>
<line x1="2068" y1="3139" x2="2082" y2="3139" stroke="#000" stroke-width="2"/>
<line x1="2068" y1="3214" x2="2082" y2="3214" stroke="#000" stroke-width="2"/>
<line x1="2068" y1="3255" x2="2082" y2="3255" stroke="#000" stroke-width="2"/>
<line x1="2068" y1="2761" x2="2075" y2="2761" stroke="#000" stroke-width="1.6"/>
<line x1="2068" y1="2773.5" x2="2075" y2="2773.5" stroke="#000" stroke-width="1.6"/>
<line x1="2068" y1="2786" x2="2075" y2="2786" stroke="#000" stroke-width="1.6"/>
<line x1="2068" y1="2811" x2="2075" y2="2811" stroke="#000" stroke-width="1.6"/>
<line x1="2068" y1="2823.5" x2="2075" y2="2823.5" stroke="#000" stroke-width="1.6"/>
<line x1="2068" y1="2836" x2="2075" y2="2836" stroke="#000" stroke-width="1.6"/>
<line x1="2068" y1="2861.1" x2="2075" y2="2861.1" stroke="#000" stroke-width="1.6"/>
<line x1="2068" y1="2873.8" x2="2075" y2="2873.8" stroke="#000" stroke-width="1.6"/>
<line x1="2068" y1="2886.4" x2="2075" y2="2886.4" stroke="#000" stroke-width="1.6"/>
<line x1="2068" y1="2911.8" x2="2075" y2="2911.8" stroke="#000" stroke-width="1.6"/>
<line x1="2068" y1="2924.5" x2="2075" y2="2924.5" stroke="#000" stroke-width="1.6"/>
<line x1="2068" y1="2937.2" x2="2075" y2="2937.2" stroke="#000" stroke-width="1.6"/>
<line x1="2068" y1="2962.9" x2="2075" y2="2962.9" stroke="#000" stroke-width="1.6"/>
<line x1="2068" y1="2975.8" x2="2075" y2="2975.8" stroke="#000" stroke-width="1.6"/>
<line x1="2068" y1="2988.6" x2="2075" y2="2988.6" stroke="#000" stroke-width="1.6"/>
<line x1="2068" y1="3014" x2="2075" y2="3014" stroke="#000" stroke-width="1.6"/>
<line x1="2068" y1="3026.5" x2="2075" y2="3026.5" stroke="#000" stroke-width="1.6"/>
<line x1="2068" y1="3039" x2="2075" y2="3039" stroke="#000" stroke-width="1.6"/>
<line x1="2068" y1="3064" x2="2075" y2="3064" stroke="#000" stroke-width="1.6"/>
<line x1="2068" y1="3076.5" x2="2075" y2="3076.5" stroke="#000" stroke-width="1.6"/>
<line x1="2068" y1="3089" x2="2075" y2="3089" stroke="#000" stroke-width="1.6"/>
<line x1="2068" y1="3114.2" x2="2075" y2="3114.2" stroke="#000" stroke-width="1.6"/>
<line x1="2068" y1="3127" x2="2075" y2="3127" stroke="#000" stroke-width="1.6"/>
<line x1="2068" y1="3139.8" x2="2075" y2="3139.8" stroke="#000" stroke-width="1.6"/>
<line x1="2068" y1="3165.4" x2="2075" y2="3165.4" stroke="#000" stroke-width="1.6"/>
<line x1="2068" y1="3178.2" x2="2075" y2="3178.2" stroke="#000" stroke-width="1.6"/>
<line x1="2068" y1="3191.1" x2="2075" y2="3191.1" stroke="#000" stroke-width="1.6"/>
<line x1="2068" y1="3216.8" x2="2075" y2="3216.8" stroke="#000" stroke-width="1.6"/>
<line x1="2068" y1="3229.5" x2="2075" y2="3229.5" stroke="#000" stroke-width="1.6"/>
<line x1="2068" y1="3242.2" x2="2075" y2="3242.2" stroke="#000" stroke-width="1.6"/>
<text transform="translate(2100.5 2767.5)" font-size="52" font-weight="bold">0.56</text>
<text transform="translate(2100.5 2808.5)" font-size="52" font-weight="bold">0.52</text>
<text transform="translate(2100.5 2848.5)" font-size="52" font-weight="bold">0.48</text>
<text transform="translate(2100.5 2890)" font-size="52" font-weight="bold">0.44</text>
<text transform="translate(2100.5 2931.5)" font-size="52" font-weight="bold">0.39</text>
<text transform="translate(2100.5 2973.5)" font-size="52" font-weight="bold">0.35</text>
<text transform="translate(2100.5 3015)" font-size="52" font-weight="bold">0.31</text>
<text transform="translate(2100.5 3057.5)" font-size="52" font-weight="bold">0.27</text>
<text transform="translate(2100.5 3098.5)" font-size="52" font-weight="bold">0.23</text>
<text transform="translate(2100.5 3156.5)" font-size="52" font-weight="bold">0.19</text>
<text transform="translate(2100.5 3231.5)" font-size="52" font-weight="bold">0.15</text>
<text transform="translate(2100.5 3274)" font-size="52" font-weight="bold">0.10</text>
<text transform="translate(2043 2672)" font-size="62" text-anchor="middle" font-weight="bold" font-style="italic">η</text>
<text transform="translate(1235 2729)" font-size="98">(h)</text>
<text transform="translate(1447.5 2747.5) scale(0.992 1)" font-size="70">Strain = 0.7</text>
</g>
</svg>
</body></html>
